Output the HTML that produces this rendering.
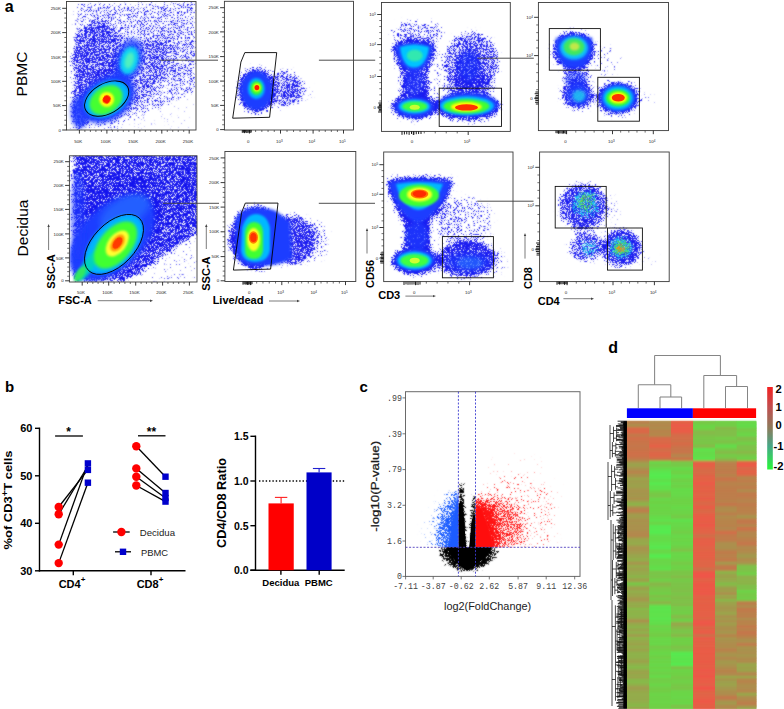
<!DOCTYPE html>
<html><head><meta charset="utf-8"><style>html,body{margin:0;padding:0;background:#fff;}svg{display:block}</style></head>
<body><svg width="784" height="709" viewBox="0 0 784 709">
<defs><filter id="b0" x="-50%" y="-50%" width="200%" height="200%"><feGaussianBlur stdDeviation="0.6"/></filter><filter id="b1" x="-50%" y="-50%" width="200%" height="200%"><feGaussianBlur stdDeviation="1"/></filter><filter id="b2" x="-50%" y="-50%" width="200%" height="200%"><feGaussianBlur stdDeviation="1.5"/></filter><filter id="b3" x="-50%" y="-50%" width="200%" height="200%"><feGaussianBlur stdDeviation="2"/></filter><filter id="b4" x="-50%" y="-50%" width="200%" height="200%"><feGaussianBlur stdDeviation="3"/></filter><filter id="b5" x="-50%" y="-50%" width="200%" height="200%"><feGaussianBlur stdDeviation="4"/></filter><filter id="sb" filterUnits="userSpaceOnUse" x="0" y="0" width="784" height="709" color-interpolation-filters="sRGB">
<feGaussianBlur in="SourceAlpha" stdDeviation="2.5" result="d"/>
<feTurbulence type="fractalNoise" baseFrequency="2.3" numOctaves="1" seed="3" result="t"/>
<feColorMatrix in="t" type="matrix" values="0 0 0 0 0 0 0 0 0 0 0 0 0 0 0 2.2 0 0 0 -0.6" result="n"/>
<feComposite in="d" in2="n" operator="arithmetic" k1="0" k2="6" k3="6" k4="-6" result="m"/>
<feFlood flood-color="#1c1cf0"/>
<feComposite in2="m" operator="in"/>
<feConvolveMatrix order="3" kernelMatrix="1 2 1 2 12 2 1 2 1" edgeMode="none"/>
</filter><filter id="sb2" filterUnits="userSpaceOnUse" x="0" y="0" width="784" height="709" color-interpolation-filters="sRGB">
<feGaussianBlur in="SourceAlpha" stdDeviation="2.5" result="d"/>
<feTurbulence type="fractalNoise" baseFrequency="2.3" numOctaves="1" seed="11" result="t"/>
<feColorMatrix in="t" type="matrix" values="0 0 0 0 0 0 0 0 0 0 0 0 0 0 0 2.2 0 0 0 -0.6" result="n"/>
<feComposite in="d" in2="n" operator="arithmetic" k1="0" k2="6" k3="6" k4="-6" result="m"/>
<feFlood flood-color="#1414ee"/>
<feComposite in2="m" operator="in"/>
<feConvolveMatrix order="3" kernelMatrix="1 2 1 2 12 2 1 2 1" edgeMode="none"/>
</filter><filter id="scy" filterUnits="userSpaceOnUse" x="0" y="0" width="784" height="709" color-interpolation-filters="sRGB">
<feGaussianBlur in="SourceAlpha" stdDeviation="2" result="d"/>
<feTurbulence type="fractalNoise" baseFrequency="2.3" numOctaves="1" seed="21" result="t"/>
<feColorMatrix in="t" type="matrix" values="0 0 0 0 0 0 0 0 0 0 0 0 0 0 0 2.2 0 0 0 -0.6" result="n"/>
<feComposite in="d" in2="n" operator="arithmetic" k1="0" k2="6" k3="6" k4="-6" result="m"/>
<feFlood flood-color="#20c8f0"/>
<feComposite in2="m" operator="in"/>
<feConvolveMatrix order="3" kernelMatrix="1 2 1 2 12 2 1 2 1" edgeMode="none"/>
</filter><filter id="sgr" filterUnits="userSpaceOnUse" x="0" y="0" width="784" height="709" color-interpolation-filters="sRGB">
<feGaussianBlur in="SourceAlpha" stdDeviation="2" result="d"/>
<feTurbulence type="fractalNoise" baseFrequency="2.3" numOctaves="1" seed="22" result="t"/>
<feColorMatrix in="t" type="matrix" values="0 0 0 0 0 0 0 0 0 0 0 0 0 0 0 2.2 0 0 0 -0.6" result="n"/>
<feComposite in="d" in2="n" operator="arithmetic" k1="0" k2="6" k3="6" k4="-6" result="m"/>
<feFlood flood-color="#50e050"/>
<feComposite in2="m" operator="in"/>
<feConvolveMatrix order="3" kernelMatrix="1 2 1 2 12 2 1 2 1" edgeMode="none"/>
</filter><filter id="sor" filterUnits="userSpaceOnUse" x="0" y="0" width="784" height="709" color-interpolation-filters="sRGB">
<feGaussianBlur in="SourceAlpha" stdDeviation="1.5" result="d"/>
<feTurbulence type="fractalNoise" baseFrequency="2.3" numOctaves="1" seed="23" result="t"/>
<feColorMatrix in="t" type="matrix" values="0 0 0 0 0 0 0 0 0 0 0 0 0 0 0 2.2 0 0 0 -0.6" result="n"/>
<feComposite in="d" in2="n" operator="arithmetic" k1="0" k2="6" k3="6" k4="-6" result="m"/>
<feFlood flood-color="#f08a20"/>
<feComposite in2="m" operator="in"/>
<feConvolveMatrix order="3" kernelMatrix="1 2 1 2 12 2 1 2 1" edgeMode="none"/>
</filter><filter id="sk" filterUnits="userSpaceOnUse" x="0" y="0" width="784" height="709" color-interpolation-filters="sRGB">
<feGaussianBlur in="SourceAlpha" stdDeviation="1.5" result="d"/>
<feTurbulence type="fractalNoise" baseFrequency="2.3" numOctaves="1" seed="5" result="t"/>
<feColorMatrix in="t" type="matrix" values="0 0 0 0 0 0 0 0 0 0 0 0 0 0 0 2.2 0 0 0 -0.6" result="n"/>
<feComposite in="d" in2="n" operator="arithmetic" k1="0" k2="6" k3="6" k4="-6" result="m"/>
<feFlood flood-color="#000000"/>
<feComposite in2="m" operator="in"/>
<feConvolveMatrix order="3" kernelMatrix="1 2 1 2 12 2 1 2 1" edgeMode="none"/>
</filter><filter id="sblue" filterUnits="userSpaceOnUse" x="0" y="0" width="784" height="709" color-interpolation-filters="sRGB">
<feGaussianBlur in="SourceAlpha" stdDeviation="1.5" result="d"/>
<feTurbulence type="fractalNoise" baseFrequency="2.3" numOctaves="1" seed="8" result="t"/>
<feColorMatrix in="t" type="matrix" values="0 0 0 0 0 0 0 0 0 0 0 0 0 0 0 2.2 0 0 0 -0.6" result="n"/>
<feComposite in="d" in2="n" operator="arithmetic" k1="0" k2="6" k3="6" k4="-6" result="m"/>
<feFlood flood-color="#1560ff"/>
<feComposite in2="m" operator="in"/>
<feConvolveMatrix order="3" kernelMatrix="1 2 1 2 12 2 1 2 1" edgeMode="none"/>
</filter><filter id="sred" filterUnits="userSpaceOnUse" x="0" y="0" width="784" height="709" color-interpolation-filters="sRGB">
<feGaussianBlur in="SourceAlpha" stdDeviation="1.5" result="d"/>
<feTurbulence type="fractalNoise" baseFrequency="2.3" numOctaves="1" seed="9" result="t"/>
<feColorMatrix in="t" type="matrix" values="0 0 0 0 0 0 0 0 0 0 0 0 0 0 0 2.2 0 0 0 -0.6" result="n"/>
<feComposite in="d" in2="n" operator="arithmetic" k1="0" k2="6" k3="6" k4="-6" result="m"/>
<feFlood flood-color="#ff1010"/>
<feComposite in2="m" operator="in"/>
<feConvolveMatrix order="3" kernelMatrix="1 2 1 2 12 2 1 2 1" edgeMode="none"/>
</filter><clipPath id="c11"><rect x="66.5" y="1.5" width="129.5" height="128.5"/></clipPath><clipPath id="c12"><rect x="224.4" y="1.3" width="129.1" height="128.7"/></clipPath><clipPath id="c13"><rect x="381.5" y="2.5" width="128.8" height="128.9"/></clipPath><clipPath id="c14"><rect x="538.4" y="2.5" width="130.1" height="128.1"/></clipPath><clipPath id="c21"><rect x="69.4" y="155.8" width="127.6" height="126.2"/></clipPath><clipPath id="c22"><rect x="224.9" y="151.5" width="130.9" height="130"/></clipPath><clipPath id="c23"><rect x="383.7" y="152" width="129.3" height="129.6"/></clipPath><clipPath id="c24"><rect x="539.6" y="152" width="129.6" height="129.6"/></clipPath><filter id="vblue" filterUnits="userSpaceOnUse" x="0" y="0" width="784" height="709" color-interpolation-filters="sRGB">
<feGaussianBlur in="SourceAlpha" stdDeviation="4" result="d"/>
<feTurbulence type="fractalNoise" baseFrequency="2.3" numOctaves="1" seed="8" result="t"/>
<feColorMatrix in="t" type="matrix" values="0 0 0 0 0 0 0 0 0 0 0 0 0 0 0 2.2 0 0 0 -0.6" result="n"/>
<feComposite in="d" in2="n" operator="arithmetic" k1="0" k2="6" k3="6" k4="-6" result="m"/>
<feFlood flood-color="#1a5cff"/>
<feComposite in2="m" operator="in"/>
<feConvolveMatrix order="3" kernelMatrix="1 2 1 2 12 2 1 2 1" edgeMode="none"/>
</filter><filter id="vred" filterUnits="userSpaceOnUse" x="0" y="0" width="784" height="709" color-interpolation-filters="sRGB">
<feGaussianBlur in="SourceAlpha" stdDeviation="5" result="d"/>
<feTurbulence type="fractalNoise" baseFrequency="2.3" numOctaves="1" seed="9" result="t"/>
<feColorMatrix in="t" type="matrix" values="0 0 0 0 0 0 0 0 0 0 0 0 0 0 0 2.2 0 0 0 -0.6" result="n"/>
<feComposite in="d" in2="n" operator="arithmetic" k1="0" k2="6" k3="6" k4="-6" result="m"/>
<feFlood flood-color="#ff1414"/>
<feComposite in2="m" operator="in"/>
<feConvolveMatrix order="3" kernelMatrix="1 2 1 2 12 2 1 2 1" edgeMode="none"/>
</filter><filter id="vblk" filterUnits="userSpaceOnUse" x="0" y="0" width="784" height="709" color-interpolation-filters="sRGB">
<feGaussianBlur in="SourceAlpha" stdDeviation="2.5" result="d"/>
<feTurbulence type="fractalNoise" baseFrequency="2.3" numOctaves="1" seed="5" result="t"/>
<feColorMatrix in="t" type="matrix" values="0 0 0 0 0 0 0 0 0 0 0 0 0 0 0 2.2 0 0 0 -0.6" result="n"/>
<feComposite in="d" in2="n" operator="arithmetic" k1="0" k2="6" k3="6" k4="-6" result="m"/>
<feFlood flood-color="#000000"/>
<feComposite in2="m" operator="in"/>
<feConvolveMatrix order="3" kernelMatrix="1 2 1 2 12 2 1 2 1" edgeMode="none"/>
</filter><filter id="vblk2" filterUnits="userSpaceOnUse" x="0" y="0" width="784" height="709" color-interpolation-filters="sRGB">
<feGaussianBlur in="SourceAlpha" stdDeviation="1.2" result="d"/>
<feTurbulence type="fractalNoise" baseFrequency="2.3" numOctaves="1" seed="15" result="t"/>
<feColorMatrix in="t" type="matrix" values="0 0 0 0 0 0 0 0 0 0 0 0 0 0 0 2.2 0 0 0 -0.6" result="n"/>
<feComposite in="d" in2="n" operator="arithmetic" k1="0" k2="6" k3="6" k4="-6" result="m"/>
<feFlood flood-color="#000000"/>
<feComposite in2="m" operator="in"/>
<feConvolveMatrix order="3" kernelMatrix="1 2 1 2 12 2 1 2 1" edgeMode="none"/>
</filter><clipPath id="cv"><rect x="405.5" y="391.7" width="174.5" height="184.7"/></clipPath><clipPath id="cvb"><rect x="405.5" y="391.7" width="52.89999999999998" height="155.59999999999997"/></clipPath><clipPath id="cvr"><rect x="475.5" y="391.7" width="104.5" height="155.59999999999997"/></clipPath><clipPath id="cvk"><rect x="405.5" y="547.3" width="174.5" height="29.100000000000023"/></clipPath><clipPath id="cvm"><rect x="458.4" y="391.7" width="17.100000000000023" height="155.59999999999997"/></clipPath><filter id="hb" x="-2%" y="-2%" width="104%" height="104%"><feGaussianBlur stdDeviation="0.35 0.8"/></filter></defs>
<rect width="784" height="709" fill="#fff"/>
<text x="4.8" y="12.3" font-family="Liberation Sans, sans-serif" font-size="16" font-weight="bold" text-anchor="start" fill="#000">a</text><text x="27" y="74" font-family="Liberation Sans, sans-serif" font-size="15.5" font-weight="normal" text-anchor="middle" fill="#000" transform="rotate(-90 27 74)">PBMC</text><text x="27.5" y="228" font-family="Liberation Sans, sans-serif" font-size="15.5" font-weight="normal" text-anchor="middle" fill="#000" transform="rotate(-90 27.5 228)">Decidua</text><g clip-path="url(#c11)"><g filter="url(#sb)"><path d="M72 129 L72 95 L75 45 L77 4 L196 2 L196 90 L176 100 L150 112 L125 122 L114 129 Z" fill="#000" fill-opacity="0.4"/><ellipse cx="98" cy="62" rx="28" ry="40" fill="#000" fill-opacity="0.45"/><ellipse cx="128" cy="80" rx="55" ry="24" fill="#000" fill-opacity="0.3" transform="rotate(-42 128 80)"/><ellipse cx="172" cy="52" rx="26" ry="30" fill="#000" fill-opacity="0.1"/><ellipse cx="80" cy="108" rx="10" ry="22" fill="#000" fill-opacity="0.5"/><path d="M128 129 L196 78 L196 129 Z" fill="#000" fill-opacity="0.06"/></g></g><g clip-path="url(#c11)"><ellipse cx="107" cy="99" rx="30" ry="21" fill="#1c3cff" transform="rotate(-32 107 99)" filter="url(#b3)"/><ellipse cx="129" cy="60" rx="13" ry="22" fill="#1c3cff" fill-opacity="0.8" transform="rotate(15 129 60)" filter="url(#b3)"/><ellipse cx="80" cy="112" rx="9" ry="16" fill="#1c3cff" fill-opacity="0.85" filter="url(#b3)"/><ellipse cx="119" cy="80" rx="9" ry="10" fill="#1c3cff" fill-opacity="0.7" filter="url(#b3)"/><ellipse cx="106.7" cy="99" rx="24" ry="16.5" fill="#00b4ff" transform="rotate(-30 106.7 99)" filter="url(#b2)"/><ellipse cx="129.3" cy="60.5" rx="9" ry="14" fill="#10d0f4" transform="rotate(15 129.3 60.5)" filter="url(#b2)"/><ellipse cx="106" cy="100" rx="18" ry="13" fill="#44ff30" transform="rotate(-35 106 100)" filter="url(#b2)"/><ellipse cx="129.3" cy="60.5" rx="4.5" ry="8.5" fill="#50f0c0" transform="rotate(15 129.3 60.5)" filter="url(#b2)"/><ellipse cx="106.7" cy="99.4" rx="7.5" ry="7.5" fill="#ffff10" filter="url(#b1)"/><ellipse cx="106.7" cy="99.4" rx="3.8" ry="4.2" fill="#ff1a00" transform="rotate(30 106.7 99.4)" filter="url(#b0)"/></g><ellipse cx="106.7" cy="98.6" rx="24" ry="15" transform="rotate(-30 106.7 98.6)" fill="none" stroke="#000" stroke-width="0.9"/><rect x="66.5" y="1.5" width="129.5" height="128.5" fill="none" stroke="#3a3a3a" stroke-width="0.9"/><line x1="62.2" y1="8.3" x2="66.5" y2="8.3" stroke="#222" stroke-width="0.9"/><text x="60.9" y="9.9" font-family="Liberation Sans, sans-serif" font-size="4.4" font-weight="normal" text-anchor="end" fill="#222">250K</text><line x1="62.2" y1="32.6" x2="66.5" y2="32.6" stroke="#222" stroke-width="0.9"/><text x="60.9" y="34.2" font-family="Liberation Sans, sans-serif" font-size="4.4" font-weight="normal" text-anchor="end" fill="#222">200K</text><line x1="62.2" y1="57" x2="66.5" y2="57" stroke="#222" stroke-width="0.9"/><text x="60.9" y="58.6" font-family="Liberation Sans, sans-serif" font-size="4.4" font-weight="normal" text-anchor="end" fill="#222">150K</text><line x1="62.2" y1="81.3" x2="66.5" y2="81.3" stroke="#222" stroke-width="0.9"/><text x="60.9" y="82.9" font-family="Liberation Sans, sans-serif" font-size="4.4" font-weight="normal" text-anchor="end" fill="#222">100K</text><line x1="62.2" y1="105.6" x2="66.5" y2="105.6" stroke="#222" stroke-width="0.9"/><text x="60.9" y="107.2" font-family="Liberation Sans, sans-serif" font-size="4.4" font-weight="normal" text-anchor="end" fill="#222">50K</text><line x1="62.2" y1="130" x2="66.5" y2="130" stroke="#222" stroke-width="0.9"/><text x="60.9" y="131.6" font-family="Liberation Sans, sans-serif" font-size="4.4" font-weight="normal" text-anchor="end" fill="#222">0</text><line x1="79.4" y1="130" x2="79.4" y2="133.6" stroke="#222" stroke-width="0.9"/><text x="78.2" y="142.9" font-family="Liberation Sans, sans-serif" font-size="4.4" font-weight="normal" text-anchor="middle" fill="#222">50K</text><line x1="106.9" y1="130" x2="106.9" y2="133.6" stroke="#222" stroke-width="0.9"/><text x="105.7" y="142.9" font-family="Liberation Sans, sans-serif" font-size="4.4" font-weight="normal" text-anchor="middle" fill="#222">100K</text><line x1="134.3" y1="130" x2="134.3" y2="133.6" stroke="#222" stroke-width="0.9"/><text x="133.1" y="142.9" font-family="Liberation Sans, sans-serif" font-size="4.4" font-weight="normal" text-anchor="middle" fill="#222">150K</text><line x1="161.8" y1="130" x2="161.8" y2="133.6" stroke="#222" stroke-width="0.9"/><text x="160.6" y="142.9" font-family="Liberation Sans, sans-serif" font-size="4.4" font-weight="normal" text-anchor="middle" fill="#222">200K</text><line x1="189.2" y1="130" x2="189.2" y2="133.6" stroke="#222" stroke-width="0.9"/><text x="188" y="142.9" font-family="Liberation Sans, sans-serif" font-size="4.4" font-weight="normal" text-anchor="middle" fill="#222">250K</text><line x1="64.3" y1="13.16" x2="66.5" y2="13.16" stroke="#333" stroke-width="0.7"/><line x1="64.3" y1="18.02" x2="66.5" y2="18.02" stroke="#333" stroke-width="0.7"/><line x1="64.3" y1="22.88" x2="66.5" y2="22.88" stroke="#333" stroke-width="0.7"/><line x1="64.3" y1="27.74" x2="66.5" y2="27.74" stroke="#333" stroke-width="0.7"/><line x1="64.3" y1="37.48" x2="66.5" y2="37.48" stroke="#333" stroke-width="0.7"/><line x1="64.3" y1="42.36" x2="66.5" y2="42.36" stroke="#333" stroke-width="0.7"/><line x1="64.3" y1="47.24" x2="66.5" y2="47.24" stroke="#333" stroke-width="0.7"/><line x1="64.3" y1="52.12" x2="66.5" y2="52.12" stroke="#333" stroke-width="0.7"/><line x1="64.3" y1="61.86" x2="66.5" y2="61.86" stroke="#333" stroke-width="0.7"/><line x1="64.3" y1="66.72" x2="66.5" y2="66.72" stroke="#333" stroke-width="0.7"/><line x1="64.3" y1="71.58" x2="66.5" y2="71.58" stroke="#333" stroke-width="0.7"/><line x1="64.3" y1="76.44" x2="66.5" y2="76.44" stroke="#333" stroke-width="0.7"/><line x1="64.3" y1="86.16" x2="66.5" y2="86.16" stroke="#333" stroke-width="0.7"/><line x1="64.3" y1="91.02" x2="66.5" y2="91.02" stroke="#333" stroke-width="0.7"/><line x1="64.3" y1="95.88" x2="66.5" y2="95.88" stroke="#333" stroke-width="0.7"/><line x1="64.3" y1="100.74" x2="66.5" y2="100.74" stroke="#333" stroke-width="0.7"/><line x1="64.3" y1="110.48" x2="66.5" y2="110.48" stroke="#333" stroke-width="0.7"/><line x1="64.3" y1="115.36" x2="66.5" y2="115.36" stroke="#333" stroke-width="0.7"/><line x1="64.3" y1="120.24" x2="66.5" y2="120.24" stroke="#333" stroke-width="0.7"/><line x1="64.3" y1="125.12" x2="66.5" y2="125.12" stroke="#333" stroke-width="0.7"/><line x1="84.9" y1="130" x2="84.9" y2="132" stroke="#333" stroke-width="0.7"/><line x1="90.4" y1="130" x2="90.4" y2="132" stroke="#333" stroke-width="0.7"/><line x1="95.9" y1="130" x2="95.9" y2="132" stroke="#333" stroke-width="0.7"/><line x1="101.4" y1="130" x2="101.4" y2="132" stroke="#333" stroke-width="0.7"/><line x1="112.38" y1="130" x2="112.38" y2="132" stroke="#333" stroke-width="0.7"/><line x1="117.86" y1="130" x2="117.86" y2="132" stroke="#333" stroke-width="0.7"/><line x1="123.34" y1="130" x2="123.34" y2="132" stroke="#333" stroke-width="0.7"/><line x1="128.82" y1="130" x2="128.82" y2="132" stroke="#333" stroke-width="0.7"/><line x1="139.8" y1="130" x2="139.8" y2="132" stroke="#333" stroke-width="0.7"/><line x1="145.3" y1="130" x2="145.3" y2="132" stroke="#333" stroke-width="0.7"/><line x1="150.8" y1="130" x2="150.8" y2="132" stroke="#333" stroke-width="0.7"/><line x1="156.3" y1="130" x2="156.3" y2="132" stroke="#333" stroke-width="0.7"/><line x1="167.28" y1="130" x2="167.28" y2="132" stroke="#333" stroke-width="0.7"/><line x1="172.76" y1="130" x2="172.76" y2="132" stroke="#333" stroke-width="0.7"/><line x1="178.24" y1="130" x2="178.24" y2="132" stroke="#333" stroke-width="0.7"/><line x1="183.72" y1="130" x2="183.72" y2="132" stroke="#333" stroke-width="0.7"/><line x1="160.4" y1="60.2" x2="218" y2="60.2" stroke="#444" stroke-width="0.95"/><g clip-path="url(#c12)"><g filter="url(#sb)"><ellipse cx="256.5" cy="90.5" rx="19.5" ry="23" fill="#000" fill-opacity="0.8"/><ellipse cx="284" cy="89" rx="18" ry="19" fill="#000" fill-opacity="0.55"/><ellipse cx="296" cy="90" rx="12" ry="13" fill="#000" fill-opacity="0.25"/><ellipse cx="306" cy="92" rx="8" ry="8" fill="#000" fill-opacity="0.08"/></g></g><g clip-path="url(#c12)"><ellipse cx="256.5" cy="90.5" rx="16" ry="19.5" fill="#1c3cff" filter="url(#b2)"/><ellipse cx="256.3" cy="88.5" rx="8.5" ry="10.5" fill="#00b0ff" filter="url(#b1)"/><ellipse cx="256.5" cy="88" rx="6" ry="7" fill="#30ff30" filter="url(#b1)"/><ellipse cx="256.9" cy="87.6" rx="3.6" ry="4" fill="#ffff00" filter="url(#b1)"/><ellipse cx="256.9" cy="87.6" rx="2.4" ry="2.6" fill="#ff1a00" filter="url(#b0)"/></g><path d="M244.8 52.6 L276.7 52.6 L269.6 117.3 L232.7 118.2 L240.9 62.1 Z" fill="none" stroke="#000" stroke-width="0.9"/><rect x="224.4" y="1.3" width="129.1" height="128.7" fill="none" stroke="#3a3a3a" stroke-width="0.9"/><line x1="220.1" y1="7.7" x2="224.4" y2="7.7" stroke="#222" stroke-width="0.9"/><text x="218.8" y="9.3" font-family="Liberation Sans, sans-serif" font-size="4.4" font-weight="normal" text-anchor="end" fill="#222">250K</text><line x1="220.1" y1="31.9" x2="224.4" y2="31.9" stroke="#222" stroke-width="0.9"/><text x="218.8" y="33.5" font-family="Liberation Sans, sans-serif" font-size="4.4" font-weight="normal" text-anchor="end" fill="#222">200K</text><line x1="220.1" y1="56.6" x2="224.4" y2="56.6" stroke="#222" stroke-width="0.9"/><text x="218.8" y="58.2" font-family="Liberation Sans, sans-serif" font-size="4.4" font-weight="normal" text-anchor="end" fill="#222">150K</text><line x1="220.1" y1="81.1" x2="224.4" y2="81.1" stroke="#222" stroke-width="0.9"/><text x="218.8" y="82.7" font-family="Liberation Sans, sans-serif" font-size="4.4" font-weight="normal" text-anchor="end" fill="#222">100K</text><line x1="220.1" y1="105.4" x2="224.4" y2="105.4" stroke="#222" stroke-width="0.9"/><text x="218.8" y="107" font-family="Liberation Sans, sans-serif" font-size="4.4" font-weight="normal" text-anchor="end" fill="#222">50K</text><line x1="220.1" y1="129.6" x2="224.4" y2="129.6" stroke="#222" stroke-width="0.9"/><text x="218.8" y="131.2" font-family="Liberation Sans, sans-serif" font-size="4.4" font-weight="normal" text-anchor="end" fill="#222">0</text><line x1="249.4" y1="130" x2="249.4" y2="133.6" stroke="#222" stroke-width="0.9"/><text x="248.2" y="143" font-family="Liberation Sans, sans-serif" font-size="4.4" font-weight="normal" text-anchor="middle" fill="#222">0</text><line x1="280.5" y1="130" x2="280.5" y2="133.6" stroke="#222" stroke-width="0.9"/><text x="279.3" y="143" font-family="Liberation Sans, sans-serif" font-size="4.4" font-weight="normal" text-anchor="middle" fill="#222">10<tspan dy="-1.3" font-size="3">3</tspan></text><line x1="313.1" y1="130" x2="313.1" y2="133.6" stroke="#222" stroke-width="0.9"/><text x="311.9" y="143" font-family="Liberation Sans, sans-serif" font-size="4.4" font-weight="normal" text-anchor="middle" fill="#222">10<tspan dy="-1.3" font-size="3">4</tspan></text><line x1="343.5" y1="130" x2="343.5" y2="133.6" stroke="#222" stroke-width="0.9"/><text x="342.3" y="143" font-family="Liberation Sans, sans-serif" font-size="4.4" font-weight="normal" text-anchor="middle" fill="#222">10<tspan dy="-1.3" font-size="3">5</tspan></text><line x1="222.2" y1="12.54" x2="224.4" y2="12.54" stroke="#333" stroke-width="0.7"/><line x1="222.2" y1="17.38" x2="224.4" y2="17.38" stroke="#333" stroke-width="0.7"/><line x1="222.2" y1="22.22" x2="224.4" y2="22.22" stroke="#333" stroke-width="0.7"/><line x1="222.2" y1="27.06" x2="224.4" y2="27.06" stroke="#333" stroke-width="0.7"/><line x1="222.2" y1="36.84" x2="224.4" y2="36.84" stroke="#333" stroke-width="0.7"/><line x1="222.2" y1="41.78" x2="224.4" y2="41.78" stroke="#333" stroke-width="0.7"/><line x1="222.2" y1="46.72" x2="224.4" y2="46.72" stroke="#333" stroke-width="0.7"/><line x1="222.2" y1="51.66" x2="224.4" y2="51.66" stroke="#333" stroke-width="0.7"/><line x1="222.2" y1="61.5" x2="224.4" y2="61.5" stroke="#333" stroke-width="0.7"/><line x1="222.2" y1="66.4" x2="224.4" y2="66.4" stroke="#333" stroke-width="0.7"/><line x1="222.2" y1="71.3" x2="224.4" y2="71.3" stroke="#333" stroke-width="0.7"/><line x1="222.2" y1="76.2" x2="224.4" y2="76.2" stroke="#333" stroke-width="0.7"/><line x1="222.2" y1="85.96" x2="224.4" y2="85.96" stroke="#333" stroke-width="0.7"/><line x1="222.2" y1="90.82" x2="224.4" y2="90.82" stroke="#333" stroke-width="0.7"/><line x1="222.2" y1="95.68" x2="224.4" y2="95.68" stroke="#333" stroke-width="0.7"/><line x1="222.2" y1="100.54" x2="224.4" y2="100.54" stroke="#333" stroke-width="0.7"/><line x1="222.2" y1="110.24" x2="224.4" y2="110.24" stroke="#333" stroke-width="0.7"/><line x1="222.2" y1="115.08" x2="224.4" y2="115.08" stroke="#333" stroke-width="0.7"/><line x1="222.2" y1="119.92" x2="224.4" y2="119.92" stroke="#333" stroke-width="0.7"/><line x1="222.2" y1="124.76" x2="224.4" y2="124.76" stroke="#333" stroke-width="0.7"/><line x1="255.62" y1="130" x2="255.62" y2="132" stroke="#333" stroke-width="0.7"/><line x1="261.84" y1="130" x2="261.84" y2="132" stroke="#333" stroke-width="0.7"/><line x1="268.06" y1="130" x2="268.06" y2="132" stroke="#333" stroke-width="0.7"/><line x1="274.28" y1="130" x2="274.28" y2="132" stroke="#333" stroke-width="0.7"/><line x1="287.02" y1="130" x2="287.02" y2="132" stroke="#333" stroke-width="0.7"/><line x1="293.54" y1="130" x2="293.54" y2="132" stroke="#333" stroke-width="0.7"/><line x1="300.06" y1="130" x2="300.06" y2="132" stroke="#333" stroke-width="0.7"/><line x1="306.58" y1="130" x2="306.58" y2="132" stroke="#333" stroke-width="0.7"/><line x1="319.18" y1="130" x2="319.18" y2="132" stroke="#333" stroke-width="0.7"/><line x1="325.26" y1="130" x2="325.26" y2="132" stroke="#333" stroke-width="0.7"/><line x1="331.34" y1="130" x2="331.34" y2="132" stroke="#333" stroke-width="0.7"/><line x1="337.42" y1="130" x2="337.42" y2="132" stroke="#333" stroke-width="0.7"/><path d="M242.3 130 V132.82 M243.41 130 V132.65 M244.53 130 V133.15 M245.64 130 V132.57 M246.75 130 V133.04 M247.86 130 V132.87 M248.97 130 V132.56 M250.09 130 V133.01 M251.2 130 V132.54" stroke="#000" stroke-width="0.9" fill="none"/><line x1="318.9" y1="60.2" x2="375.2" y2="60.2" stroke="#444" stroke-width="0.95"/><g clip-path="url(#c13)"><g filter="url(#sb)"><path d="M391 44 Q414 34 437 44 Q436 60 428 72 L430 98 L400 98 L401 72 Q392 60 391 44Z" fill="#000" fill-opacity="0.8"/><ellipse cx="417" cy="33" rx="26" ry="13" fill="#000" fill-opacity="0.4"/><ellipse cx="415" cy="107" rx="24" ry="13" fill="#000" fill-opacity="0.9"/><ellipse cx="471" cy="62" rx="28" ry="30" fill="#000" fill-opacity="0.6"/><ellipse cx="469" cy="68" rx="14" ry="20" fill="#000" fill-opacity="0.5"/><ellipse cx="470" cy="86" rx="25" ry="12" fill="#000" fill-opacity="0.55"/><ellipse cx="468" cy="107" rx="33" ry="14" fill="#000" fill-opacity="0.9"/><ellipse cx="440" cy="80" rx="8" ry="25" fill="#000" fill-opacity="0.2"/></g></g><g clip-path="url(#c13)"><path d="M395 46 Q414 39 433 46 Q431 60 424 68 Q414 74 405 68 Q397 60 395 46Z" fill="#1c3cff" filter="url(#b2)"/><ellipse cx="414" cy="82" rx="9" ry="14" fill="#1c3cff" fill-opacity="0.55" filter="url(#b3)"/><ellipse cx="414.5" cy="107.3" rx="19.5" ry="10" fill="#1c3cff" filter="url(#b2)"/><ellipse cx="468" cy="104.7" rx="30" ry="12" fill="#1c3cff" filter="url(#b2)"/><ellipse cx="469" cy="66" rx="11" ry="16" fill="#1c3cff" fill-opacity="0.45" filter="url(#b3)"/><path d="M400 47 Q414 42 429 47 Q428 60 420 66 Q414 69 408 66 Q401 60 400 47Z" fill="#00c4ff" filter="url(#b1)"/><ellipse cx="414.7" cy="55.5" rx="8" ry="6" fill="#30e8b0" filter="url(#b1)"/><ellipse cx="414.5" cy="106.5" rx="15.5" ry="7" fill="#00c0ff" filter="url(#b1)"/><ellipse cx="414.7" cy="106.5" rx="12.5" ry="5" fill="#40ff40" filter="url(#b1)"/><ellipse cx="414.7" cy="107.3" rx="5" ry="2.5" fill="#c8ff30" filter="url(#b0)"/><ellipse cx="467" cy="105.8" rx="27" ry="9.5" fill="#00b8ff" filter="url(#b1)"/><ellipse cx="466.5" cy="106.3" rx="23" ry="7.2" fill="#40ff30" filter="url(#b1)"/><ellipse cx="466.3" cy="106.8" rx="15.5" ry="4.8" fill="#ffff00" filter="url(#b1)"/><ellipse cx="466.5" cy="107.4" rx="11.5" ry="3.2" fill="#ff3000" filter="url(#b0)"/></g><rect x="439.2" y="88.2" width="62.3" height="38.2" fill="none" stroke="#111" stroke-width="0.9"/><rect x="381.5" y="2.5" width="128.8" height="128.9" fill="none" stroke="#3a3a3a" stroke-width="0.9"/><line x1="377.2" y1="14.5" x2="381.5" y2="14.5" stroke="#222" stroke-width="0.9"/><text x="375.9" y="16.1" font-family="Liberation Sans, sans-serif" font-size="4.4" font-weight="normal" text-anchor="end" fill="#222">10<tspan dy="-1.3" font-size="3">5</tspan></text><line x1="377.2" y1="44.6" x2="381.5" y2="44.6" stroke="#222" stroke-width="0.9"/><text x="375.9" y="46.2" font-family="Liberation Sans, sans-serif" font-size="4.4" font-weight="normal" text-anchor="end" fill="#222">10<tspan dy="-1.3" font-size="3">4</tspan></text><line x1="377.2" y1="76.5" x2="381.5" y2="76.5" stroke="#222" stroke-width="0.9"/><text x="375.9" y="78.1" font-family="Liberation Sans, sans-serif" font-size="4.4" font-weight="normal" text-anchor="end" fill="#222">10<tspan dy="-1.3" font-size="3">3</tspan></text><line x1="377.2" y1="107.1" x2="381.5" y2="107.1" stroke="#222" stroke-width="0.9"/><text x="375.9" y="108.7" font-family="Liberation Sans, sans-serif" font-size="4.4" font-weight="normal" text-anchor="end" fill="#222">0</text><line x1="413.3" y1="131.4" x2="413.3" y2="135" stroke="#222" stroke-width="0.9"/><text x="412.1" y="143" font-family="Liberation Sans, sans-serif" font-size="4.4" font-weight="normal" text-anchor="middle" fill="#222">0</text><line x1="468.2" y1="131.4" x2="468.2" y2="135" stroke="#222" stroke-width="0.9"/><text x="467" y="143" font-family="Liberation Sans, sans-serif" font-size="4.4" font-weight="normal" text-anchor="middle" fill="#222">10<tspan dy="-1.3" font-size="3">3</tspan></text><line x1="379.3" y1="20.52" x2="381.5" y2="20.52" stroke="#333" stroke-width="0.7"/><line x1="379.3" y1="26.54" x2="381.5" y2="26.54" stroke="#333" stroke-width="0.7"/><line x1="379.3" y1="32.56" x2="381.5" y2="32.56" stroke="#333" stroke-width="0.7"/><line x1="379.3" y1="38.58" x2="381.5" y2="38.58" stroke="#333" stroke-width="0.7"/><line x1="379.3" y1="50.98" x2="381.5" y2="50.98" stroke="#333" stroke-width="0.7"/><line x1="379.3" y1="57.36" x2="381.5" y2="57.36" stroke="#333" stroke-width="0.7"/><line x1="379.3" y1="63.74" x2="381.5" y2="63.74" stroke="#333" stroke-width="0.7"/><line x1="379.3" y1="70.12" x2="381.5" y2="70.12" stroke="#333" stroke-width="0.7"/><line x1="379.3" y1="82.62" x2="381.5" y2="82.62" stroke="#333" stroke-width="0.7"/><line x1="379.3" y1="88.74" x2="381.5" y2="88.74" stroke="#333" stroke-width="0.7"/><line x1="379.3" y1="94.86" x2="381.5" y2="94.86" stroke="#333" stroke-width="0.7"/><line x1="379.3" y1="100.98" x2="381.5" y2="100.98" stroke="#333" stroke-width="0.7"/><line x1="424.28" y1="131.4" x2="424.28" y2="133.4" stroke="#333" stroke-width="0.7"/><line x1="435.26" y1="131.4" x2="435.26" y2="133.4" stroke="#333" stroke-width="0.7"/><line x1="446.24" y1="131.4" x2="446.24" y2="133.4" stroke="#333" stroke-width="0.7"/><line x1="457.22" y1="131.4" x2="457.22" y2="133.4" stroke="#333" stroke-width="0.7"/><path d="M378.35 103 H381.5 M378.9 104.29 H381.5 M378.86 105.57 H381.5 M378.36 106.86 H381.5 M377.76 108.14 H381.5 M378.81 109.43 H381.5 M378.67 110.71 H381.5 M378.06 112 H381.5" stroke="#000" stroke-width="0.9" fill="none"/><path d="M402 131.4 V134.85 M404.38 131.4 V134.48 M406.75 131.4 V134.3 M409.12 131.4 V134.88 M411.5 131.4 V133.95 M413.88 131.4 V134.76 M416.25 131.4 V134.19 M418.62 131.4 V134.04 M421 131.4 V134.02" stroke="#000" stroke-width="0.9" fill="none"/><line x1="477.4" y1="58.2" x2="533.8" y2="58.2" stroke="#444" stroke-width="0.95"/><g clip-path="url(#c14)"><g filter="url(#sb)"><ellipse cx="574" cy="50" rx="22" ry="19" fill="#000" fill-opacity="0.85"/><ellipse cx="576" cy="75" rx="14" ry="12" fill="#000" fill-opacity="0.6"/><ellipse cx="578" cy="95" rx="17" ry="15" fill="#000" fill-opacity="0.75"/><ellipse cx="618" cy="98" rx="22" ry="17" fill="#000" fill-opacity="0.85"/><ellipse cx="605" cy="60" rx="16" ry="16" fill="#000" fill-opacity="0.15"/><ellipse cx="645" cy="100" rx="14" ry="6" fill="#000" fill-opacity="0.12"/></g></g><g clip-path="url(#c14)"><path d="M556 38 Q574 32 592 38 Q594 56 584 66 Q574 70 564 66 Q554 56 556 38Z" fill="#1c3cff" filter="url(#b2)"/><ellipse cx="576" cy="80" rx="11" ry="9" fill="#1c3cff" fill-opacity="0.45" filter="url(#b2)"/><ellipse cx="578" cy="95" rx="12" ry="11" fill="#1c3cff" fill-opacity="0.75" filter="url(#b2)"/><ellipse cx="618" cy="98" rx="18" ry="14" fill="#1c3cff" filter="url(#b2)"/><ellipse cx="574" cy="48" rx="14" ry="11.5" fill="#10c4f8" filter="url(#b2)"/><ellipse cx="574" cy="47" rx="10.5" ry="8.5" fill="#40e860" filter="url(#b1)"/><ellipse cx="574.5" cy="46.5" rx="5" ry="4" fill="#c0e848" filter="url(#b1)"/><ellipse cx="579" cy="96" rx="6.5" ry="6" fill="#20c8f0" fill-opacity="0.85" filter="url(#b2)"/><ellipse cx="618" cy="98" rx="15" ry="11.5" fill="#00c0ff" filter="url(#b2)"/><ellipse cx="618" cy="98" rx="12" ry="8.5" fill="#30ff30" filter="url(#b1)"/><ellipse cx="618.3" cy="97.8" rx="9" ry="5.8" fill="#ffff00" filter="url(#b1)"/><ellipse cx="618.3" cy="97.7" rx="6.5" ry="3.8" fill="#ff3000" filter="url(#b0)"/></g><rect x="549.3" y="28.6" width="51.1" height="41.6" fill="none" stroke="#111" stroke-width="0.9"/><rect x="597.8" y="77.3" width="41.6" height="43.9" fill="none" stroke="#111" stroke-width="0.9"/><rect x="538.4" y="2.5" width="130.1" height="128.1" fill="none" stroke="#3a3a3a" stroke-width="0.9"/><line x1="534.1" y1="17.3" x2="538.4" y2="17.3" stroke="#222" stroke-width="0.9"/><text x="532.8" y="18.9" font-family="Liberation Sans, sans-serif" font-size="4.4" font-weight="normal" text-anchor="end" fill="#222">10<tspan dy="-1.3" font-size="3">4</tspan></text><line x1="534.1" y1="55.6" x2="538.4" y2="55.6" stroke="#222" stroke-width="0.9"/><text x="532.8" y="57.2" font-family="Liberation Sans, sans-serif" font-size="4.4" font-weight="normal" text-anchor="end" fill="#222">10<tspan dy="-1.3" font-size="3">3</tspan></text><line x1="534.1" y1="98.2" x2="538.4" y2="98.2" stroke="#222" stroke-width="0.9"/><text x="532.8" y="99.8" font-family="Liberation Sans, sans-serif" font-size="4.4" font-weight="normal" text-anchor="end" fill="#222">0</text><line x1="566.6" y1="130.6" x2="566.6" y2="134.2" stroke="#222" stroke-width="0.9"/><text x="565.4" y="143" font-family="Liberation Sans, sans-serif" font-size="4.4" font-weight="normal" text-anchor="middle" fill="#222">0</text><line x1="612.5" y1="130.6" x2="612.5" y2="134.2" stroke="#222" stroke-width="0.9"/><text x="611.3" y="143" font-family="Liberation Sans, sans-serif" font-size="4.4" font-weight="normal" text-anchor="middle" fill="#222">10<tspan dy="-1.3" font-size="3">3</tspan></text><line x1="653.3" y1="130.6" x2="653.3" y2="134.2" stroke="#222" stroke-width="0.9"/><text x="652.1" y="143" font-family="Liberation Sans, sans-serif" font-size="4.4" font-weight="normal" text-anchor="middle" fill="#222">10<tspan dy="-1.3" font-size="3">4</tspan></text><line x1="536.2" y1="24.96" x2="538.4" y2="24.96" stroke="#333" stroke-width="0.7"/><line x1="536.2" y1="32.62" x2="538.4" y2="32.62" stroke="#333" stroke-width="0.7"/><line x1="536.2" y1="40.28" x2="538.4" y2="40.28" stroke="#333" stroke-width="0.7"/><line x1="536.2" y1="47.94" x2="538.4" y2="47.94" stroke="#333" stroke-width="0.7"/><line x1="536.2" y1="64.12" x2="538.4" y2="64.12" stroke="#333" stroke-width="0.7"/><line x1="536.2" y1="72.64" x2="538.4" y2="72.64" stroke="#333" stroke-width="0.7"/><line x1="536.2" y1="81.16" x2="538.4" y2="81.16" stroke="#333" stroke-width="0.7"/><line x1="536.2" y1="89.68" x2="538.4" y2="89.68" stroke="#333" stroke-width="0.7"/><line x1="575.78" y1="130.6" x2="575.78" y2="132.6" stroke="#333" stroke-width="0.7"/><line x1="584.96" y1="130.6" x2="584.96" y2="132.6" stroke="#333" stroke-width="0.7"/><line x1="594.14" y1="130.6" x2="594.14" y2="132.6" stroke="#333" stroke-width="0.7"/><line x1="603.32" y1="130.6" x2="603.32" y2="132.6" stroke="#333" stroke-width="0.7"/><line x1="620.66" y1="130.6" x2="620.66" y2="132.6" stroke="#333" stroke-width="0.7"/><line x1="628.82" y1="130.6" x2="628.82" y2="132.6" stroke="#333" stroke-width="0.7"/><line x1="636.98" y1="130.6" x2="636.98" y2="132.6" stroke="#333" stroke-width="0.7"/><line x1="645.14" y1="130.6" x2="645.14" y2="132.6" stroke="#333" stroke-width="0.7"/><path d="M535.44 92 H538.4 M534.68 93.71 H538.4 M535.63 95.43 H538.4 M535.03 97.14 H538.4 M534.94 98.86 H538.4 M535.34 100.57 H538.4 M535.08 102.29 H538.4 M535.81 104 H538.4" stroke="#000" stroke-width="0.9" fill="none"/><path d="M556 130.6 V133.16 M557.25 130.6 V133.31 M558.5 130.6 V133.78 M559.75 130.6 V133.53 M561 130.6 V133.41 M562.25 130.6 V133.69 M563.5 130.6 V133.55 M564.75 130.6 V133.4 M566 130.6 V133.89" stroke="#000" stroke-width="0.9" fill="none"/><g clip-path="url(#c21)"><g filter="url(#sb2)"><path d="M73 281 L72 150 L200 150 L200 232 L170 252 L140 274 L125 282 Z" fill="#000" fill-opacity="0.75"/><ellipse cx="120" cy="215" rx="45" ry="40" fill="#000" fill-opacity="0.3" transform="rotate(-45 120 215)"/><path d="M197 282 L135 282 L197 236 Z" fill="#000" fill-opacity="0.12"/></g></g><g clip-path="url(#c21)"><ellipse cx="112" cy="238" rx="52" ry="31" fill="#1c3cff" transform="rotate(-45 112 238)" filter="url(#b3)"/><ellipse cx="78" cy="215" rx="7" ry="45" fill="#1c3cff" fill-opacity="0.6" filter="url(#b3)"/><ellipse cx="125" cy="212" rx="28" ry="14" fill="#2a7cff" fill-opacity="0.55" transform="rotate(-30 125 212)" filter="url(#b4)"/><ellipse cx="114" cy="244.4" rx="36" ry="21" fill="#00b4ff" transform="rotate(-46 114 244.4)" filter="url(#b2)"/><ellipse cx="88" cy="266" rx="18" ry="5.5" fill="#00d0c0" transform="rotate(-55 88 266)" filter="url(#b2)"/><ellipse cx="80" cy="274" rx="9" ry="4" fill="#30e860" transform="rotate(-55 80 274)" filter="url(#b1)"/><ellipse cx="115.5" cy="245" rx="28" ry="16" fill="#40ff30" transform="rotate(-50 115.5 245)" filter="url(#b2)"/><ellipse cx="117.2" cy="243.5" rx="15" ry="9" fill="#ffff30" transform="rotate(-52 117.2 243.5)" filter="url(#b1)"/><ellipse cx="117.5" cy="243" rx="9.5" ry="5.5" fill="#ff8c00" transform="rotate(-55 117.5 243)" filter="url(#b1)"/><ellipse cx="117.5" cy="243" rx="6.5" ry="3.8" fill="#ff3a00" transform="rotate(-55 117.5 243)" filter="url(#b0)"/></g><ellipse cx="114" cy="244.4" rx="36.5" ry="21" transform="rotate(-46 114 244.4)" fill="none" stroke="#000" stroke-width="0.9"/><rect x="69.4" y="155.8" width="127.6" height="126.2" fill="none" stroke="#3a3a3a" stroke-width="0.9"/><line x1="65.1" y1="161.7" x2="69.4" y2="161.7" stroke="#222" stroke-width="0.9"/><text x="63.8" y="163.3" font-family="Liberation Sans, sans-serif" font-size="4.4" font-weight="normal" text-anchor="end" fill="#222">250K</text><line x1="65.1" y1="185.4" x2="69.4" y2="185.4" stroke="#222" stroke-width="0.9"/><text x="63.8" y="187" font-family="Liberation Sans, sans-serif" font-size="4.4" font-weight="normal" text-anchor="end" fill="#222">200K</text><line x1="65.1" y1="209.4" x2="69.4" y2="209.4" stroke="#222" stroke-width="0.9"/><text x="63.8" y="211" font-family="Liberation Sans, sans-serif" font-size="4.4" font-weight="normal" text-anchor="end" fill="#222">150K</text><line x1="65.1" y1="233.9" x2="69.4" y2="233.9" stroke="#222" stroke-width="0.9"/><text x="63.8" y="235.5" font-family="Liberation Sans, sans-serif" font-size="4.4" font-weight="normal" text-anchor="end" fill="#222">100K</text><line x1="65.1" y1="257.9" x2="69.4" y2="257.9" stroke="#222" stroke-width="0.9"/><text x="63.8" y="259.5" font-family="Liberation Sans, sans-serif" font-size="4.4" font-weight="normal" text-anchor="end" fill="#222">50K</text><line x1="65.1" y1="280.8" x2="69.4" y2="280.8" stroke="#222" stroke-width="0.9"/><text x="63.8" y="282.4" font-family="Liberation Sans, sans-serif" font-size="4.4" font-weight="normal" text-anchor="end" fill="#222">0</text><line x1="82.2" y1="282" x2="82.2" y2="285.6" stroke="#222" stroke-width="0.9"/><text x="81" y="294" font-family="Liberation Sans, sans-serif" font-size="4.4" font-weight="normal" text-anchor="middle" fill="#222">50K</text><line x1="108.7" y1="282" x2="108.7" y2="285.6" stroke="#222" stroke-width="0.9"/><text x="107.5" y="294" font-family="Liberation Sans, sans-serif" font-size="4.4" font-weight="normal" text-anchor="middle" fill="#222">100K</text><line x1="135.7" y1="282" x2="135.7" y2="285.6" stroke="#222" stroke-width="0.9"/><text x="134.5" y="294" font-family="Liberation Sans, sans-serif" font-size="4.4" font-weight="normal" text-anchor="middle" fill="#222">150K</text><line x1="162.6" y1="282" x2="162.6" y2="285.6" stroke="#222" stroke-width="0.9"/><text x="161.4" y="294" font-family="Liberation Sans, sans-serif" font-size="4.4" font-weight="normal" text-anchor="middle" fill="#222">200K</text><line x1="189.4" y1="282" x2="189.4" y2="285.6" stroke="#222" stroke-width="0.9"/><text x="188.2" y="294" font-family="Liberation Sans, sans-serif" font-size="4.4" font-weight="normal" text-anchor="middle" fill="#222">250K</text><line x1="67.2" y1="166.44" x2="69.4" y2="166.44" stroke="#333" stroke-width="0.7"/><line x1="67.2" y1="171.18" x2="69.4" y2="171.18" stroke="#333" stroke-width="0.7"/><line x1="67.2" y1="175.92" x2="69.4" y2="175.92" stroke="#333" stroke-width="0.7"/><line x1="67.2" y1="180.66" x2="69.4" y2="180.66" stroke="#333" stroke-width="0.7"/><line x1="67.2" y1="190.2" x2="69.4" y2="190.2" stroke="#333" stroke-width="0.7"/><line x1="67.2" y1="195" x2="69.4" y2="195" stroke="#333" stroke-width="0.7"/><line x1="67.2" y1="199.8" x2="69.4" y2="199.8" stroke="#333" stroke-width="0.7"/><line x1="67.2" y1="204.6" x2="69.4" y2="204.6" stroke="#333" stroke-width="0.7"/><line x1="67.2" y1="214.3" x2="69.4" y2="214.3" stroke="#333" stroke-width="0.7"/><line x1="67.2" y1="219.2" x2="69.4" y2="219.2" stroke="#333" stroke-width="0.7"/><line x1="67.2" y1="224.1" x2="69.4" y2="224.1" stroke="#333" stroke-width="0.7"/><line x1="67.2" y1="229" x2="69.4" y2="229" stroke="#333" stroke-width="0.7"/><line x1="67.2" y1="238.7" x2="69.4" y2="238.7" stroke="#333" stroke-width="0.7"/><line x1="67.2" y1="243.5" x2="69.4" y2="243.5" stroke="#333" stroke-width="0.7"/><line x1="67.2" y1="248.3" x2="69.4" y2="248.3" stroke="#333" stroke-width="0.7"/><line x1="67.2" y1="253.1" x2="69.4" y2="253.1" stroke="#333" stroke-width="0.7"/><line x1="67.2" y1="262.48" x2="69.4" y2="262.48" stroke="#333" stroke-width="0.7"/><line x1="67.2" y1="267.06" x2="69.4" y2="267.06" stroke="#333" stroke-width="0.7"/><line x1="67.2" y1="271.64" x2="69.4" y2="271.64" stroke="#333" stroke-width="0.7"/><line x1="67.2" y1="276.22" x2="69.4" y2="276.22" stroke="#333" stroke-width="0.7"/><line x1="87.5" y1="282" x2="87.5" y2="284" stroke="#333" stroke-width="0.7"/><line x1="92.8" y1="282" x2="92.8" y2="284" stroke="#333" stroke-width="0.7"/><line x1="98.1" y1="282" x2="98.1" y2="284" stroke="#333" stroke-width="0.7"/><line x1="103.4" y1="282" x2="103.4" y2="284" stroke="#333" stroke-width="0.7"/><line x1="114.1" y1="282" x2="114.1" y2="284" stroke="#333" stroke-width="0.7"/><line x1="119.5" y1="282" x2="119.5" y2="284" stroke="#333" stroke-width="0.7"/><line x1="124.9" y1="282" x2="124.9" y2="284" stroke="#333" stroke-width="0.7"/><line x1="130.3" y1="282" x2="130.3" y2="284" stroke="#333" stroke-width="0.7"/><line x1="141.08" y1="282" x2="141.08" y2="284" stroke="#333" stroke-width="0.7"/><line x1="146.46" y1="282" x2="146.46" y2="284" stroke="#333" stroke-width="0.7"/><line x1="151.84" y1="282" x2="151.84" y2="284" stroke="#333" stroke-width="0.7"/><line x1="157.22" y1="282" x2="157.22" y2="284" stroke="#333" stroke-width="0.7"/><line x1="167.96" y1="282" x2="167.96" y2="284" stroke="#333" stroke-width="0.7"/><line x1="173.32" y1="282" x2="173.32" y2="284" stroke="#333" stroke-width="0.7"/><line x1="178.68" y1="282" x2="178.68" y2="284" stroke="#333" stroke-width="0.7"/><line x1="184.04" y1="282" x2="184.04" y2="284" stroke="#333" stroke-width="0.7"/><line x1="163" y1="203.3" x2="219" y2="203.3" stroke="#444" stroke-width="0.95"/><text x="54.5" y="271.5" font-family="Liberation Sans, sans-serif" font-size="11" font-weight="bold" text-anchor="middle" fill="#000" transform="rotate(-90 54.5 271.5)">SSC-A</text><line x1="48.6" y1="226" x2="48.6" y2="250" stroke="#444" stroke-width="0.7"/><path d="M48.6 224 l-1.2 3 h2.4z" fill="#444"/><text x="75" y="304" font-family="Liberation Sans, sans-serif" font-size="11" font-weight="bold" text-anchor="middle" fill="#000">FSC-A</text><line x1="97.7" y1="300.7" x2="150" y2="300.7" stroke="#444" stroke-width="0.7"/><path d="M153 300.7 l-3 -1.2 v2.4z" fill="#444"/><g clip-path="url(#c22)"><g filter="url(#sb)"><ellipse cx="256" cy="238" rx="27" ry="32" fill="#000" fill-opacity="0.9"/><ellipse cx="290" cy="240" rx="26" ry="26" fill="#000" fill-opacity="0.7"/><ellipse cx="315" cy="240" rx="14" ry="20" fill="#000" fill-opacity="0.3"/></g></g><g clip-path="url(#c22)"><path d="M236 220 Q240 208 258 208 Q275 208 280 214 L290 222 L292 258 Q280 266 258 266 Q238 266 236 252Z" fill="#1c3cff" filter="url(#b2)"/><path d="M242 228 Q246 214 256 214 Q267 214 270 228 L270 250 Q268 262 256 262 Q242 262 241 250Z" fill="#00b8ff" filter="url(#b1)"/><path d="M245 232 Q247 222 254 222 Q262 222 263 232 L263 250 Q262 259 254 259 Q245 259 245 250Z" fill="#40ff30" filter="url(#b1)"/><ellipse cx="253.6" cy="239.5" rx="6.5" ry="11.5" fill="#ffff20" filter="url(#b1)"/><ellipse cx="253.4" cy="237.5" rx="4.6" ry="6.2" fill="#ff8000" filter="url(#b0)"/><ellipse cx="253.4" cy="237.5" rx="3.2" ry="4.6" fill="#ff3000" filter="url(#b0)"/></g><path d="M245.3 203.1 L278 203.1 L270.6 269.1 L233.4 270.1 L241.6 212.5 Z" fill="none" stroke="#000" stroke-width="0.9"/><rect x="224.9" y="151.5" width="130.9" height="130" fill="none" stroke="#3a3a3a" stroke-width="0.9"/><line x1="220.6" y1="157.9" x2="224.9" y2="157.9" stroke="#222" stroke-width="0.9"/><text x="219.3" y="159.5" font-family="Liberation Sans, sans-serif" font-size="4.4" font-weight="normal" text-anchor="end" fill="#222">250K</text><line x1="220.6" y1="182.6" x2="224.9" y2="182.6" stroke="#222" stroke-width="0.9"/><text x="219.3" y="184.2" font-family="Liberation Sans, sans-serif" font-size="4.4" font-weight="normal" text-anchor="end" fill="#222">200K</text><line x1="220.6" y1="207.1" x2="224.9" y2="207.1" stroke="#222" stroke-width="0.9"/><text x="219.3" y="208.7" font-family="Liberation Sans, sans-serif" font-size="4.4" font-weight="normal" text-anchor="end" fill="#222">150K</text><line x1="220.6" y1="231.8" x2="224.9" y2="231.8" stroke="#222" stroke-width="0.9"/><text x="219.3" y="233.4" font-family="Liberation Sans, sans-serif" font-size="4.4" font-weight="normal" text-anchor="end" fill="#222">100K</text><line x1="220.6" y1="256.6" x2="224.9" y2="256.6" stroke="#222" stroke-width="0.9"/><text x="219.3" y="258.2" font-family="Liberation Sans, sans-serif" font-size="4.4" font-weight="normal" text-anchor="end" fill="#222">50K</text><line x1="220.6" y1="280.8" x2="224.9" y2="280.8" stroke="#222" stroke-width="0.9"/><text x="219.3" y="282.4" font-family="Liberation Sans, sans-serif" font-size="4.4" font-weight="normal" text-anchor="end" fill="#222">0</text><line x1="250.4" y1="281.5" x2="250.4" y2="285.1" stroke="#222" stroke-width="0.9"/><text x="249.2" y="294" font-family="Liberation Sans, sans-serif" font-size="4.4" font-weight="normal" text-anchor="middle" fill="#222">0</text><line x1="281.8" y1="281.5" x2="281.8" y2="285.1" stroke="#222" stroke-width="0.9"/><text x="280.6" y="294" font-family="Liberation Sans, sans-serif" font-size="4.4" font-weight="normal" text-anchor="middle" fill="#222">10<tspan dy="-1.3" font-size="3">3</tspan></text><line x1="314.9" y1="281.5" x2="314.9" y2="285.1" stroke="#222" stroke-width="0.9"/><text x="313.7" y="294" font-family="Liberation Sans, sans-serif" font-size="4.4" font-weight="normal" text-anchor="middle" fill="#222">10<tspan dy="-1.3" font-size="3">4</tspan></text><line x1="345.5" y1="281.5" x2="345.5" y2="285.1" stroke="#222" stroke-width="0.9"/><text x="344.3" y="294" font-family="Liberation Sans, sans-serif" font-size="4.4" font-weight="normal" text-anchor="middle" fill="#222">10<tspan dy="-1.3" font-size="3">5</tspan></text><line x1="222.7" y1="162.84" x2="224.9" y2="162.84" stroke="#333" stroke-width="0.7"/><line x1="222.7" y1="167.78" x2="224.9" y2="167.78" stroke="#333" stroke-width="0.7"/><line x1="222.7" y1="172.72" x2="224.9" y2="172.72" stroke="#333" stroke-width="0.7"/><line x1="222.7" y1="177.66" x2="224.9" y2="177.66" stroke="#333" stroke-width="0.7"/><line x1="222.7" y1="187.5" x2="224.9" y2="187.5" stroke="#333" stroke-width="0.7"/><line x1="222.7" y1="192.4" x2="224.9" y2="192.4" stroke="#333" stroke-width="0.7"/><line x1="222.7" y1="197.3" x2="224.9" y2="197.3" stroke="#333" stroke-width="0.7"/><line x1="222.7" y1="202.2" x2="224.9" y2="202.2" stroke="#333" stroke-width="0.7"/><line x1="222.7" y1="212.04" x2="224.9" y2="212.04" stroke="#333" stroke-width="0.7"/><line x1="222.7" y1="216.98" x2="224.9" y2="216.98" stroke="#333" stroke-width="0.7"/><line x1="222.7" y1="221.92" x2="224.9" y2="221.92" stroke="#333" stroke-width="0.7"/><line x1="222.7" y1="226.86" x2="224.9" y2="226.86" stroke="#333" stroke-width="0.7"/><line x1="222.7" y1="236.76" x2="224.9" y2="236.76" stroke="#333" stroke-width="0.7"/><line x1="222.7" y1="241.72" x2="224.9" y2="241.72" stroke="#333" stroke-width="0.7"/><line x1="222.7" y1="246.68" x2="224.9" y2="246.68" stroke="#333" stroke-width="0.7"/><line x1="222.7" y1="251.64" x2="224.9" y2="251.64" stroke="#333" stroke-width="0.7"/><line x1="222.7" y1="261.44" x2="224.9" y2="261.44" stroke="#333" stroke-width="0.7"/><line x1="222.7" y1="266.28" x2="224.9" y2="266.28" stroke="#333" stroke-width="0.7"/><line x1="222.7" y1="271.12" x2="224.9" y2="271.12" stroke="#333" stroke-width="0.7"/><line x1="222.7" y1="275.96" x2="224.9" y2="275.96" stroke="#333" stroke-width="0.7"/><line x1="256.68" y1="281.5" x2="256.68" y2="283.5" stroke="#333" stroke-width="0.7"/><line x1="262.96" y1="281.5" x2="262.96" y2="283.5" stroke="#333" stroke-width="0.7"/><line x1="269.24" y1="281.5" x2="269.24" y2="283.5" stroke="#333" stroke-width="0.7"/><line x1="275.52" y1="281.5" x2="275.52" y2="283.5" stroke="#333" stroke-width="0.7"/><line x1="288.42" y1="281.5" x2="288.42" y2="283.5" stroke="#333" stroke-width="0.7"/><line x1="295.04" y1="281.5" x2="295.04" y2="283.5" stroke="#333" stroke-width="0.7"/><line x1="301.66" y1="281.5" x2="301.66" y2="283.5" stroke="#333" stroke-width="0.7"/><line x1="308.28" y1="281.5" x2="308.28" y2="283.5" stroke="#333" stroke-width="0.7"/><line x1="321.02" y1="281.5" x2="321.02" y2="283.5" stroke="#333" stroke-width="0.7"/><line x1="327.14" y1="281.5" x2="327.14" y2="283.5" stroke="#333" stroke-width="0.7"/><line x1="333.26" y1="281.5" x2="333.26" y2="283.5" stroke="#333" stroke-width="0.7"/><line x1="339.38" y1="281.5" x2="339.38" y2="283.5" stroke="#333" stroke-width="0.7"/><path d="M243 281.5 V284.7 M244.12 281.5 V284.24 M245.25 281.5 V284.57 M246.38 281.5 V284.53 M247.5 281.5 V284.88 M248.62 281.5 V284.73 M249.75 281.5 V284.29 M250.88 281.5 V284.98 M252 281.5 V284.12" stroke="#000" stroke-width="0.9" fill="none"/><line x1="318.8" y1="203.3" x2="375" y2="203.3" stroke="#444" stroke-width="0.95"/><text x="210.5" y="273.6" font-family="Liberation Sans, sans-serif" font-size="11" font-weight="bold" text-anchor="middle" fill="#000" transform="rotate(-90 210.5 273.6)">SSC-A</text><line x1="206.3" y1="226" x2="206.3" y2="249" stroke="#444" stroke-width="0.7"/><path d="M206.3 224 l-1.2 3 h2.4z" fill="#444"/><text x="238" y="304" font-family="Liberation Sans, sans-serif" font-size="11" font-weight="bold" text-anchor="middle" fill="#000">Live/dead</text><line x1="269" y1="301" x2="297" y2="301" stroke="#444" stroke-width="0.7"/><path d="M300 301 l-3 -1.2 v2.4z" fill="#444"/><g clip-path="url(#c23)"><g filter="url(#sb)"><path d="M386 180 Q420 172 454 180 Q446 205 430 222 L430 250 L404 250 L404 222 Q390 205 386 180Z" fill="#000" fill-opacity="0.95"/><ellipse cx="415" cy="261" rx="24" ry="14" fill="#000" fill-opacity="0.95"/><ellipse cx="467" cy="259" rx="30" ry="19" fill="#000" fill-opacity="0.78"/><ellipse cx="465" cy="222" rx="28" ry="26" fill="#000" fill-opacity="0.32"/><ellipse cx="440" cy="215" rx="18" ry="30" fill="#000" fill-opacity="0.15"/><ellipse cx="492" cy="262" rx="14" ry="14" fill="#000" fill-opacity="0.2"/></g></g><g clip-path="url(#c23)"><path d="M389 182 Q420 176 451 182 Q445 203 430 216 Q418 228 406 216 Q393 203 389 182Z" fill="#1c3cff" filter="url(#b2)"/><ellipse cx="417" cy="236" rx="11" ry="15" fill="#1c3cff" fill-opacity="0.7" filter="url(#b3)"/><ellipse cx="415" cy="260" rx="20" ry="11" fill="#1c3cff" filter="url(#b2)"/><ellipse cx="468" cy="262" rx="22" ry="10" fill="#1c3cff" fill-opacity="0.5" filter="url(#b3)"/><ellipse cx="470" cy="263" rx="12" ry="6" fill="#2a80ff" fill-opacity="0.5" filter="url(#b2)"/><path d="M396 184 Q420 180 443 184 Q438 199 427 207 Q418 213 410 207 Q399 199 396 184Z" fill="#00b8ff" filter="url(#b1)"/><ellipse cx="419" cy="195.5" rx="20" ry="11" fill="#40ff30" filter="url(#b1)"/><ellipse cx="419.5" cy="194.5" rx="12.5" ry="7" fill="#ffff20" filter="url(#b1)"/><ellipse cx="419.5" cy="194" rx="8.8" ry="4.6" fill="#ff7000" filter="url(#b0)"/><ellipse cx="419.5" cy="193.8" rx="6.8" ry="3.4" fill="#ff2a00" filter="url(#b0)"/><ellipse cx="414.5" cy="260.5" rx="17" ry="9" fill="#00c0ff" filter="url(#b1)"/><ellipse cx="414.5" cy="260.6" rx="14" ry="6.5" fill="#40ff40" filter="url(#b1)"/><ellipse cx="414.7" cy="260.6" rx="5" ry="2.8" fill="#d0ff30" filter="url(#b0)"/></g><rect x="442.4" y="236.6" width="51" height="41.2" fill="none" stroke="#111" stroke-width="0.9"/><rect x="383.7" y="152" width="129.3" height="129.6" fill="none" stroke="#3a3a3a" stroke-width="0.9"/><line x1="379.4" y1="164.7" x2="383.7" y2="164.7" stroke="#222" stroke-width="0.9"/><text x="378.1" y="166.3" font-family="Liberation Sans, sans-serif" font-size="4.4" font-weight="normal" text-anchor="end" fill="#222">10<tspan dy="-1.3" font-size="3">5</tspan></text><line x1="379.4" y1="194.3" x2="383.7" y2="194.3" stroke="#222" stroke-width="0.9"/><text x="378.1" y="195.9" font-family="Liberation Sans, sans-serif" font-size="4.4" font-weight="normal" text-anchor="end" fill="#222">10<tspan dy="-1.3" font-size="3">4</tspan></text><line x1="379.4" y1="227.5" x2="383.7" y2="227.5" stroke="#222" stroke-width="0.9"/><text x="378.1" y="229.1" font-family="Liberation Sans, sans-serif" font-size="4.4" font-weight="normal" text-anchor="end" fill="#222">10<tspan dy="-1.3" font-size="3">3</tspan></text><line x1="379.4" y1="258.1" x2="383.7" y2="258.1" stroke="#222" stroke-width="0.9"/><text x="378.1" y="259.7" font-family="Liberation Sans, sans-serif" font-size="4.4" font-weight="normal" text-anchor="end" fill="#222">0</text><line x1="415.5" y1="281.6" x2="415.5" y2="285.2" stroke="#222" stroke-width="0.9"/><text x="414.3" y="294" font-family="Liberation Sans, sans-serif" font-size="4.4" font-weight="normal" text-anchor="middle" fill="#222">0</text><line x1="469.6" y1="281.6" x2="469.6" y2="285.2" stroke="#222" stroke-width="0.9"/><text x="468.4" y="294" font-family="Liberation Sans, sans-serif" font-size="4.4" font-weight="normal" text-anchor="middle" fill="#222">10<tspan dy="-1.3" font-size="3">3</tspan></text><line x1="381.5" y1="170.62" x2="383.7" y2="170.62" stroke="#333" stroke-width="0.7"/><line x1="381.5" y1="176.54" x2="383.7" y2="176.54" stroke="#333" stroke-width="0.7"/><line x1="381.5" y1="182.46" x2="383.7" y2="182.46" stroke="#333" stroke-width="0.7"/><line x1="381.5" y1="188.38" x2="383.7" y2="188.38" stroke="#333" stroke-width="0.7"/><line x1="381.5" y1="200.94" x2="383.7" y2="200.94" stroke="#333" stroke-width="0.7"/><line x1="381.5" y1="207.58" x2="383.7" y2="207.58" stroke="#333" stroke-width="0.7"/><line x1="381.5" y1="214.22" x2="383.7" y2="214.22" stroke="#333" stroke-width="0.7"/><line x1="381.5" y1="220.86" x2="383.7" y2="220.86" stroke="#333" stroke-width="0.7"/><line x1="381.5" y1="233.62" x2="383.7" y2="233.62" stroke="#333" stroke-width="0.7"/><line x1="381.5" y1="239.74" x2="383.7" y2="239.74" stroke="#333" stroke-width="0.7"/><line x1="381.5" y1="245.86" x2="383.7" y2="245.86" stroke="#333" stroke-width="0.7"/><line x1="381.5" y1="251.98" x2="383.7" y2="251.98" stroke="#333" stroke-width="0.7"/><line x1="426.32" y1="281.6" x2="426.32" y2="283.6" stroke="#333" stroke-width="0.7"/><line x1="437.14" y1="281.6" x2="437.14" y2="283.6" stroke="#333" stroke-width="0.7"/><line x1="447.96" y1="281.6" x2="447.96" y2="283.6" stroke="#333" stroke-width="0.7"/><line x1="458.78" y1="281.6" x2="458.78" y2="283.6" stroke="#333" stroke-width="0.7"/><path d="M380.57 253 H383.7 M380.06 254.43 H383.7 M380.97 255.86 H383.7 M380.47 257.29 H383.7 M381.14 258.71 H383.7 M380.2 260.14 H383.7 M380.05 261.57 H383.7 M380.34 263 H383.7" stroke="#000" stroke-width="0.9" fill="none"/><path d="M404 281.6 V284.98 M406 281.6 V284.41 M408 281.6 V284.8 M410 281.6 V284.69 M412 281.6 V284.68 M414 281.6 V284.56 M416 281.6 V284.94 M418 281.6 V285.04 M420 281.6 V284.57" stroke="#000" stroke-width="0.9" fill="none"/><line x1="477.3" y1="201.2" x2="533.5" y2="201.2" stroke="#444" stroke-width="0.95"/><text x="374" y="274" font-family="Liberation Sans, sans-serif" font-size="11" font-weight="bold" text-anchor="middle" fill="#000" transform="rotate(-90 374 274)">CD56</text><line x1="367" y1="230" x2="367" y2="253.5" stroke="#444" stroke-width="0.7"/><path d="M367 228 l-1.2 3 h2.4z" fill="#444"/><text x="389.2" y="299.4" font-family="Liberation Sans, sans-serif" font-size="11" font-weight="bold" text-anchor="middle" fill="#000">CD3</text><line x1="405.4" y1="296.1" x2="433" y2="296.1" stroke="#444" stroke-width="0.7"/><path d="M436 296.1 l-3 -1.2 v2.4z" fill="#444"/><g clip-path="url(#c24)"><g filter="url(#sb)"><ellipse cx="583" cy="206" rx="25" ry="23" fill="#000" fill-opacity="0.72"/><ellipse cx="587" cy="247" rx="18" ry="15" fill="#000" fill-opacity="0.62"/><ellipse cx="585" cy="229" rx="14" ry="6" fill="#000" fill-opacity="0.3"/><ellipse cx="622" cy="248" rx="20" ry="19" fill="#000" fill-opacity="0.78"/><ellipse cx="610" cy="215" rx="10" ry="20" fill="#000" fill-opacity="0.12"/><ellipse cx="650" cy="258" rx="8" ry="8" fill="#000" fill-opacity="0.08"/></g></g><g clip-path="url(#c24)"><g filter="url(#scy)"><ellipse cx="585" cy="204" rx="15" ry="15" fill="#000" fill-opacity="0.55"/><ellipse cx="589" cy="248" rx="9" ry="8" fill="#000" fill-opacity="0.55"/><ellipse cx="621" cy="248" rx="13" ry="11" fill="#000" fill-opacity="0.65"/></g></g><g clip-path="url(#c24)"><g filter="url(#sgr)"><ellipse cx="586" cy="202" rx="9" ry="10" fill="#000" fill-opacity="0.55"/><ellipse cx="590" cy="250" rx="4" ry="4" fill="#000" fill-opacity="0.35"/><ellipse cx="621" cy="248" rx="9" ry="8" fill="#000" fill-opacity="0.65"/></g></g><g clip-path="url(#c24)"><g filter="url(#sor)"><ellipse cx="620.5" cy="248.5" rx="5" ry="4" fill="#000" fill-opacity="0.7"/><ellipse cx="585" cy="200" rx="3" ry="3" fill="#000" fill-opacity="0.3"/></g></g><rect x="555.2" y="186.4" width="51" height="41.6" fill="none" stroke="#111" stroke-width="0.9"/><rect x="607.5" y="228" width="34.9" height="42.1" fill="none" stroke="#111" stroke-width="0.9"/><rect x="539.6" y="152" width="129.6" height="129.6" fill="none" stroke="#3a3a3a" stroke-width="0.9"/><line x1="535.3" y1="167.3" x2="539.6" y2="167.3" stroke="#222" stroke-width="0.9"/><text x="534" y="168.9" font-family="Liberation Sans, sans-serif" font-size="4.4" font-weight="normal" text-anchor="end" fill="#222">10<tspan dy="-1.3" font-size="3">4</tspan></text><line x1="535.3" y1="205.8" x2="539.6" y2="205.8" stroke="#222" stroke-width="0.9"/><text x="534" y="207.4" font-family="Liberation Sans, sans-serif" font-size="4.4" font-weight="normal" text-anchor="end" fill="#222">10<tspan dy="-1.3" font-size="3">3</tspan></text><line x1="535.3" y1="249.2" x2="539.6" y2="249.2" stroke="#222" stroke-width="0.9"/><text x="534" y="250.8" font-family="Liberation Sans, sans-serif" font-size="4.4" font-weight="normal" text-anchor="end" fill="#222">0</text><line x1="567.1" y1="281.6" x2="567.1" y2="285.2" stroke="#222" stroke-width="0.9"/><text x="565.9" y="294" font-family="Liberation Sans, sans-serif" font-size="4.4" font-weight="normal" text-anchor="middle" fill="#222">0</text><line x1="613" y1="281.6" x2="613" y2="285.2" stroke="#222" stroke-width="0.9"/><text x="611.8" y="294" font-family="Liberation Sans, sans-serif" font-size="4.4" font-weight="normal" text-anchor="middle" fill="#222">10<tspan dy="-1.3" font-size="3">3</tspan></text><line x1="654.4" y1="281.6" x2="654.4" y2="285.2" stroke="#222" stroke-width="0.9"/><text x="653.2" y="294" font-family="Liberation Sans, sans-serif" font-size="4.4" font-weight="normal" text-anchor="middle" fill="#222">10<tspan dy="-1.3" font-size="3">4</tspan></text><line x1="537.4" y1="175" x2="539.6" y2="175" stroke="#333" stroke-width="0.7"/><line x1="537.4" y1="182.7" x2="539.6" y2="182.7" stroke="#333" stroke-width="0.7"/><line x1="537.4" y1="190.4" x2="539.6" y2="190.4" stroke="#333" stroke-width="0.7"/><line x1="537.4" y1="198.1" x2="539.6" y2="198.1" stroke="#333" stroke-width="0.7"/><line x1="537.4" y1="214.48" x2="539.6" y2="214.48" stroke="#333" stroke-width="0.7"/><line x1="537.4" y1="223.16" x2="539.6" y2="223.16" stroke="#333" stroke-width="0.7"/><line x1="537.4" y1="231.84" x2="539.6" y2="231.84" stroke="#333" stroke-width="0.7"/><line x1="537.4" y1="240.52" x2="539.6" y2="240.52" stroke="#333" stroke-width="0.7"/><line x1="576.28" y1="281.6" x2="576.28" y2="283.6" stroke="#333" stroke-width="0.7"/><line x1="585.46" y1="281.6" x2="585.46" y2="283.6" stroke="#333" stroke-width="0.7"/><line x1="594.64" y1="281.6" x2="594.64" y2="283.6" stroke="#333" stroke-width="0.7"/><line x1="603.82" y1="281.6" x2="603.82" y2="283.6" stroke="#333" stroke-width="0.7"/><line x1="621.28" y1="281.6" x2="621.28" y2="283.6" stroke="#333" stroke-width="0.7"/><line x1="629.56" y1="281.6" x2="629.56" y2="283.6" stroke="#333" stroke-width="0.7"/><line x1="637.84" y1="281.6" x2="637.84" y2="283.6" stroke="#333" stroke-width="0.7"/><line x1="646.12" y1="281.6" x2="646.12" y2="283.6" stroke="#333" stroke-width="0.7"/><path d="M536.1 243 H539.6 M537.01 244.71 H539.6 M536.05 246.43 H539.6 M536.13 248.14 H539.6 M535.61 249.86 H539.6 M535.87 251.57 H539.6 M536.67 253.29 H539.6 M536.52 255 H539.6" stroke="#000" stroke-width="0.9" fill="none"/><path d="M557 281.6 V284.77 M558.25 281.6 V284.12 M559.5 281.6 V284.56 M560.75 281.6 V284.27 M562 281.6 V284.22 M563.25 281.6 V284.16 M564.5 281.6 V284.87 M565.75 281.6 V284.23 M567 281.6 V284.35" stroke="#000" stroke-width="0.9" fill="none"/><text x="531.5" y="278" font-family="Liberation Sans, sans-serif" font-size="11" font-weight="bold" text-anchor="middle" fill="#000" transform="rotate(-90 531.5 278)">CD8</text><line x1="525" y1="235" x2="525" y2="258.6" stroke="#444" stroke-width="0.7"/><path d="M525 233 l-1.2 3 h2.4z" fill="#444"/><text x="548.7" y="304.5" font-family="Liberation Sans, sans-serif" font-size="11" font-weight="bold" text-anchor="middle" fill="#000">CD4</text><line x1="563.4" y1="298.7" x2="591" y2="298.7" stroke="#444" stroke-width="0.7"/><path d="M594 298.7 l-3 -1.2 v2.4z" fill="#444"/><text x="5" y="392" font-family="Liberation Sans, sans-serif" font-size="15" font-weight="bold" text-anchor="start" fill="#000">b</text><line x1="39.5" y1="427.6" x2="39.5" y2="571.5" stroke="#000" stroke-width="1.4"/><line x1="38.8" y1="570.8" x2="185.5" y2="570.8" stroke="#000" stroke-width="1.4"/><line x1="35" y1="428.3" x2="39.5" y2="428.3" stroke="#000" stroke-width="1.4"/><text x="32.4" y="432.3" font-family="Liberation Sans, sans-serif" font-size="11" font-weight="bold" text-anchor="end" fill="#000">60</text><line x1="35" y1="475.8" x2="39.5" y2="475.8" stroke="#000" stroke-width="1.4"/><text x="32.4" y="479.8" font-family="Liberation Sans, sans-serif" font-size="11" font-weight="bold" text-anchor="end" fill="#000">50</text><line x1="35" y1="523.3" x2="39.5" y2="523.3" stroke="#000" stroke-width="1.4"/><text x="32.4" y="527.3" font-family="Liberation Sans, sans-serif" font-size="11" font-weight="bold" text-anchor="end" fill="#000">40</text><line x1="35" y1="570.8" x2="39.5" y2="570.8" stroke="#000" stroke-width="1.4"/><text x="32.4" y="574.8" font-family="Liberation Sans, sans-serif" font-size="11" font-weight="bold" text-anchor="end" fill="#000">30</text><line x1="73.3" y1="570.8" x2="73.3" y2="575.3" stroke="#000" stroke-width="1.4"/><line x1="151" y1="570.8" x2="151" y2="575.3" stroke="#000" stroke-width="1.4"/><text x="72" y="588" font-family="Liberation Sans, sans-serif" font-size="11" font-weight="bold" text-anchor="middle" fill="#000">CD4<tspan dy="-6.5" font-size="8">+</tspan></text><text x="150" y="588" font-family="Liberation Sans, sans-serif" font-size="11" font-weight="bold" text-anchor="middle" fill="#000">CD8<tspan dy="-6.5" font-size="8">+</tspan></text><text transform="translate(12 500) rotate(-90)" font-family="Liberation Sans, sans-serif" font-size="11.5" font-weight="bold" text-anchor="middle" textLength="99" lengthAdjust="spacingAndGlyphs">%of CD3<tspan dy="-4.5" font-size="8.5">+</tspan><tspan dy="4.5">T cells</tspan></text><line x1="58.7" y1="507" x2="87.9" y2="469.7" stroke="#000" stroke-width="1.3"/><line x1="58.7" y1="514.3" x2="87.9" y2="466" stroke="#000" stroke-width="1.3"/><line x1="58.7" y1="544.6" x2="87.9" y2="463.4" stroke="#000" stroke-width="1.3"/><line x1="58.7" y1="563.1" x2="87.9" y2="482.7" stroke="#000" stroke-width="1.3"/><line x1="136.3" y1="446.2" x2="165.5" y2="476.7" stroke="#000" stroke-width="1.3"/><line x1="136.3" y1="468.4" x2="165.5" y2="493" stroke="#000" stroke-width="1.3"/><line x1="136.3" y1="476.7" x2="165.5" y2="498" stroke="#000" stroke-width="1.3"/><line x1="136.3" y1="485.5" x2="165.5" y2="501.6" stroke="#000" stroke-width="1.3"/><circle cx="58.7" cy="507" r="4.2" fill="#ff0000"/><circle cx="58.7" cy="514.3" r="4.2" fill="#ff0000"/><circle cx="58.7" cy="544.6" r="4.2" fill="#ff0000"/><circle cx="58.7" cy="563.1" r="4.2" fill="#ff0000"/><circle cx="136.3" cy="446.2" r="4.2" fill="#ff0000"/><circle cx="136.3" cy="468.4" r="4.2" fill="#ff0000"/><circle cx="136.3" cy="476.7" r="4.2" fill="#ff0000"/><circle cx="136.3" cy="485.5" r="4.2" fill="#ff0000"/><rect x="84.7" y="460.2" width="6.4" height="6.4" fill="#0000cc"/><rect x="84.7" y="466.7" width="6.4" height="6.4" fill="#0000cc"/><rect x="84.7" y="479.5" width="6.4" height="6.4" fill="#0000cc"/><rect x="162.3" y="473.5" width="6.4" height="6.4" fill="#0000cc"/><rect x="162.3" y="489.8" width="6.4" height="6.4" fill="#0000cc"/><rect x="162.3" y="494.8" width="6.4" height="6.4" fill="#0000cc"/><rect x="162.3" y="498.4" width="6.4" height="6.4" fill="#0000cc"/><line x1="55.1" y1="436" x2="82.9" y2="436" stroke="#000" stroke-width="1.3"/><text x="68.5" y="436" font-family="Liberation Sans, sans-serif" font-size="12" font-weight="bold" text-anchor="middle" fill="#000">*</text><line x1="138" y1="435.8" x2="165.5" y2="435.8" stroke="#000" stroke-width="1.3"/><text x="151.5" y="436" font-family="Liberation Sans, sans-serif" font-size="12" font-weight="bold" text-anchor="middle" fill="#000">**</text><line x1="113.1" y1="532" x2="129.7" y2="532" stroke="#000" stroke-width="1.3"/><circle cx="121.4" cy="532" r="4.2" fill="#ff0000"/><text x="139.8" y="535.9" font-family="Liberation Sans, sans-serif" font-size="9.6" font-weight="normal" text-anchor="start" fill="#222">Decidua</text><line x1="115" y1="551.8" x2="131" y2="551.8" stroke="#000" stroke-width="1.3"/><rect x="119.8" y="548.6" width="6.4" height="6.4" fill="#0000cc"/><text x="141" y="555.5" font-family="Liberation Sans, sans-serif" font-size="9.4" font-weight="normal" text-anchor="start" fill="#222">PBMC</text><line x1="255.5" y1="435.6" x2="255.5" y2="571" stroke="#000" stroke-width="1.4"/><line x1="250.3" y1="570.2" x2="344.7" y2="570.2" stroke="#000" stroke-width="1.4"/><line x1="250.4" y1="436.3" x2="255.5" y2="436.3" stroke="#000" stroke-width="1.4"/><text x="248.5" y="440.1" font-family="Liberation Sans, sans-serif" font-size="10.5" font-weight="bold" text-anchor="end" fill="#000">1.5</text><line x1="250.4" y1="481" x2="255.5" y2="481" stroke="#000" stroke-width="1.4"/><text x="248.5" y="484.8" font-family="Liberation Sans, sans-serif" font-size="10.5" font-weight="bold" text-anchor="end" fill="#000">1.0</text><line x1="250.4" y1="525.7" x2="255.5" y2="525.7" stroke="#000" stroke-width="1.4"/><text x="248.5" y="529.5" font-family="Liberation Sans, sans-serif" font-size="10.5" font-weight="bold" text-anchor="end" fill="#000">0.5</text><line x1="250.4" y1="570.2" x2="255.5" y2="570.2" stroke="#000" stroke-width="1.4"/><text x="248.5" y="574" font-family="Liberation Sans, sans-serif" font-size="10.5" font-weight="bold" text-anchor="end" fill="#000">0.0</text><line x1="280.9" y1="570.2" x2="280.9" y2="574.8" stroke="#000" stroke-width="1.4"/><line x1="319.2" y1="570.2" x2="319.2" y2="574.8" stroke="#000" stroke-width="1.4"/><line x1="259" y1="481" x2="344.4" y2="481" stroke="#000" stroke-width="1.5" stroke-dasharray="1.4 1.95"/><rect x="268.5" y="503.4" width="25.25" height="66.8" fill="#ff0000"/><rect x="306.5" y="472.4" width="25.1" height="97.8" fill="#0000c8"/><line x1="281.1" y1="503.4" x2="281.1" y2="497.4" stroke="#ff2020" stroke-width="1.1"/><line x1="274.9" y1="497.4" x2="287.3" y2="497.4" stroke="#ff2020" stroke-width="1.1"/><line x1="319.1" y1="472.4" x2="319.1" y2="468.5" stroke="#2020d0" stroke-width="1.1"/><line x1="312.9" y1="468.5" x2="325.3" y2="468.5" stroke="#2020d0" stroke-width="1.1"/><text x="280.8" y="585.6" font-family="Liberation Sans, sans-serif" font-size="9.5" font-weight="bold" text-anchor="middle" fill="#000">Decidua</text><text x="318.7" y="585.6" font-family="Liberation Sans, sans-serif" font-size="9.5" font-weight="bold" text-anchor="middle" fill="#000">PBMC</text><text transform="translate(225.8 503) rotate(-90)" font-family="Liberation Sans, sans-serif" font-size="12.2" font-weight="bold" text-anchor="middle" textLength="90" lengthAdjust="spacingAndGlyphs">CD4/CD8 Ratio</text><text x="359.5" y="391.5" font-family="Liberation Sans, sans-serif" font-size="15" font-weight="bold" text-anchor="start" fill="#000">c</text><g clip-path="url(#cvb)"><g filter="url(#vblue)"><ellipse cx="458" cy="535" rx="22" ry="48" fill="#000" fill-opacity="0.55"/><ellipse cx="458" cy="540" rx="13" ry="35" fill="#000" fill-opacity="0.6"/><ellipse cx="440" cy="530" rx="14" ry="22" fill="#000" fill-opacity="0.2"/></g></g><g clip-path="url(#cvb)"><path d="M448 548 L452 520 L456 500 L459 492 L459 548 Z" fill="#1a5cff" filter="url(#b1)"/></g><g clip-path="url(#cvr)"><g filter="url(#vred)"><ellipse cx="478" cy="538" rx="20" ry="40" fill="#000" fill-opacity="0.95"/><ellipse cx="497" cy="527" rx="28" ry="28" fill="#000" fill-opacity="0.45"/><path d="M476 547 L476 492 L500 478 L530 476 L556 488 L552 547 Z" fill="#000" fill-opacity="0.2"/><ellipse cx="515" cy="470" rx="30" ry="15" fill="#000" fill-opacity="0.05"/></g></g><g clip-path="url(#cvr)"><path d="M475 548 L475 508 L482 508 L490 530 L494 548 Z" fill="#ff1010" filter="url(#b1)"/></g><g clip-path="url(#cvk)"><g filter="url(#vblk)"><ellipse cx="468" cy="552" rx="30" ry="14" fill="#000" fill-opacity="0.6"/><ellipse cx="468" cy="556" rx="24" ry="15" fill="#000" fill-opacity="0.9"/></g></g><g clip-path="url(#cvk)"><path d="M447 547 L492 547 Q488 556 478 563 Q470 571 466 570 Q460 567 455 560 Q449 553 447 547Z" fill="#000" filter="url(#b0)"/></g><g clip-path="url(#cvm)"><g filter="url(#vblk2)"><path d="M458 548 L459 484 L464 484 L467 548 Z" fill="#000" fill-opacity="0.75"/><path d="M469 548 L472 496 L476 496 L476 548 Z" fill="#000" fill-opacity="0.75"/></g></g><g clip-path="url(#cvm)"><path d="M458.4 548 L458.4 505 L461 500 L463.5 512 L466.2 548 Z M469.2 548 L471.5 522 L474 512 L475.5 518 L475.5 548 Z" fill="#000" filter="url(#b0)"/></g><g clip-path="url(#cvk)"><path d="M458.4 547 L466.2 547 L467 564 L469.2 547 L475.5 547 L474 560 L467 569 L460 560Z" fill="#000"/></g><rect x="405.5" y="391.7" width="174.5" height="184.7" fill="none" stroke="#6a6a6a" stroke-width="1"/><line x1="458.4" y1="391.7" x2="458.4" y2="576.4" stroke="#3a3ad0" stroke-width="0.9" stroke-dasharray="2 1.6"/><line x1="475.5" y1="391.7" x2="475.5" y2="576.4" stroke="#3a3ad0" stroke-width="0.9" stroke-dasharray="2 1.6"/><line x1="405.5" y1="547.3" x2="580" y2="547.3" stroke="#5040c0" stroke-width="0.9" stroke-dasharray="2 1.6"/><line x1="402.5" y1="397.9" x2="405.5" y2="397.9" stroke="#555" stroke-width="0.8"/><text x="402" y="400.7" font-family="Liberation Mono, monospace" font-size="8.3" font-weight="normal" text-anchor="end" fill="#444">.99</text><line x1="402.5" y1="433.8" x2="405.5" y2="433.8" stroke="#555" stroke-width="0.8"/><text x="402" y="436.6" font-family="Liberation Mono, monospace" font-size="8.3" font-weight="normal" text-anchor="end" fill="#444">.39</text><line x1="402.5" y1="469.6" x2="405.5" y2="469.6" stroke="#555" stroke-width="0.8"/><text x="402" y="472.4" font-family="Liberation Mono, monospace" font-size="8.3" font-weight="normal" text-anchor="end" fill="#444">.79</text><line x1="402.5" y1="505.3" x2="405.5" y2="505.3" stroke="#555" stroke-width="0.8"/><text x="402" y="508.1" font-family="Liberation Mono, monospace" font-size="8.3" font-weight="normal" text-anchor="end" fill="#444">3.2</text><line x1="402.5" y1="541" x2="405.5" y2="541" stroke="#555" stroke-width="0.8"/><text x="402" y="543.8" font-family="Liberation Mono, monospace" font-size="8.3" font-weight="normal" text-anchor="end" fill="#444">1.6</text><line x1="402.5" y1="576.4" x2="405.5" y2="576.4" stroke="#555" stroke-width="0.8"/><text x="402" y="579.2" font-family="Liberation Mono, monospace" font-size="8.3" font-weight="normal" text-anchor="end" fill="#444">0</text><line x1="405.6" y1="576.4" x2="405.6" y2="579.4" stroke="#555" stroke-width="0.8"/><text x="405.6" y="588.5" font-family="Liberation Mono, monospace" font-size="8.3" font-weight="normal" text-anchor="middle" fill="#444">-7.11</text><line x1="433.2" y1="576.4" x2="433.2" y2="579.4" stroke="#555" stroke-width="0.8"/><text x="433.2" y="588.5" font-family="Liberation Mono, monospace" font-size="8.3" font-weight="normal" text-anchor="middle" fill="#444">-3.87</text><line x1="461.2" y1="576.4" x2="461.2" y2="579.4" stroke="#555" stroke-width="0.8"/><text x="461.2" y="588.5" font-family="Liberation Mono, monospace" font-size="8.3" font-weight="normal" text-anchor="middle" fill="#444">-0.62</text><line x1="489.3" y1="576.4" x2="489.3" y2="579.4" stroke="#555" stroke-width="0.8"/><text x="489.3" y="588.5" font-family="Liberation Mono, monospace" font-size="8.3" font-weight="normal" text-anchor="middle" fill="#444">2.62</text><line x1="518.1" y1="576.4" x2="518.1" y2="579.4" stroke="#555" stroke-width="0.8"/><text x="518.1" y="588.5" font-family="Liberation Mono, monospace" font-size="8.3" font-weight="normal" text-anchor="middle" fill="#444">5.87</text><line x1="546.2" y1="576.4" x2="546.2" y2="579.4" stroke="#555" stroke-width="0.8"/><text x="546.2" y="588.5" font-family="Liberation Mono, monospace" font-size="8.3" font-weight="normal" text-anchor="middle" fill="#444">9.11</text><line x1="574.7" y1="576.4" x2="574.7" y2="579.4" stroke="#555" stroke-width="0.8"/><text x="574.7" y="588.5" font-family="Liberation Mono, monospace" font-size="8.3" font-weight="normal" text-anchor="middle" fill="#444">12.36</text><text x="487.6" y="609.5" font-family="Liberation Sans, sans-serif" font-size="10.9" font-weight="normal" text-anchor="middle" fill="#222">log2(FoldChange)</text><text transform="translate(379 486.3) rotate(-90)" font-family="Liberation Sans, sans-serif" font-size="10.2" text-anchor="middle" fill="#1a1a1a" stroke="#1a1a1a" stroke-width="0.25" textLength="90.8" lengthAdjust="spacingAndGlyphs">-log10(P-value)</text><text x="608.2" y="353.4" font-family="Liberation Sans, sans-serif" font-size="16" font-weight="bold" text-anchor="start" fill="#000">d</text><line x1="654.6" y1="355.5" x2="720.4" y2="355.5" stroke="#858585" stroke-width="1.05"/><line x1="654.6" y1="355.5" x2="654.6" y2="384.8" stroke="#858585" stroke-width="1.05"/><line x1="638.3" y1="384.8" x2="670.8" y2="384.8" stroke="#858585" stroke-width="1.05"/><line x1="638.3" y1="384.8" x2="638.3" y2="408" stroke="#858585" stroke-width="1.05"/><line x1="670.8" y1="384.8" x2="670.8" y2="397" stroke="#858585" stroke-width="1.05"/><line x1="660" y1="397" x2="681.6" y2="397" stroke="#858585" stroke-width="1.05"/><line x1="660" y1="397" x2="660" y2="408" stroke="#858585" stroke-width="1.05"/><line x1="681.6" y1="397" x2="681.6" y2="408" stroke="#858585" stroke-width="1.05"/><line x1="720.4" y1="355.5" x2="720.4" y2="375.5" stroke="#858585" stroke-width="1.05"/><line x1="703.8" y1="375.5" x2="736.6" y2="375.5" stroke="#858585" stroke-width="1.05"/><line x1="703.8" y1="375.5" x2="703.8" y2="408" stroke="#858585" stroke-width="1.05"/><line x1="736.6" y1="375.5" x2="736.6" y2="386.5" stroke="#858585" stroke-width="1.05"/><line x1="725.5" y1="386.5" x2="747.5" y2="386.5" stroke="#858585" stroke-width="1.05"/><line x1="725.5" y1="386.5" x2="725.5" y2="408" stroke="#858585" stroke-width="1.05"/><line x1="747.5" y1="386.5" x2="747.5" y2="408" stroke="#858585" stroke-width="1.05"/><rect x="626.9" y="408.3" width="66" height="9.7" fill="#0000ff"/><rect x="692.9" y="408.3" width="63.2" height="9.7" fill="#ff0000"/><g><rect x="626.9" y="421.2" width="22.7" height="3.3" fill="#b9824c"/><rect x="626.9" y="424.2" width="22.7" height="3.3" fill="#ab904e"/><rect x="626.9" y="427.2" width="22.7" height="1.8" fill="#d76b48"/><rect x="626.9" y="428.7" width="22.7" height="2.3" fill="#d96947"/><rect x="626.9" y="430.7" width="22.7" height="3.3" fill="#db6847"/><rect x="626.9" y="433.7" width="22.7" height="3.3" fill="#c17a4b"/><rect x="626.9" y="436.7" width="22.7" height="3.8" fill="#d16e49"/><rect x="626.9" y="440.2" width="22.7" height="2.8" fill="#c9744a"/><rect x="626.9" y="442.7" width="22.7" height="2.3" fill="#c9744a"/><rect x="626.9" y="444.7" width="22.7" height="3.3" fill="#c5774b"/><rect x="626.9" y="447.7" width="22.7" height="3.8" fill="#c8754a"/><rect x="626.9" y="451.2" width="22.7" height="2.8" fill="#d06f49"/><rect x="626.9" y="453.7" width="22.7" height="4.3" fill="#cd7149"/><rect x="626.9" y="457.7" width="22.7" height="3.3" fill="#c07b4b"/><rect x="626.9" y="460.7" width="22.7" height="2.8" fill="#a7954e"/><rect x="626.9" y="463.2" width="22.7" height="4.3" fill="#9ba34c"/><rect x="626.9" y="467.2" width="22.7" height="3.3" fill="#a8934e"/><rect x="626.9" y="470.2" width="22.7" height="2.3" fill="#b6854d"/><rect x="626.9" y="472.2" width="22.7" height="2.3" fill="#b8834c"/><rect x="626.9" y="474.2" width="22.7" height="1.8" fill="#a3994d"/><rect x="626.9" y="475.7" width="22.7" height="2.3" fill="#ac8f4e"/><rect x="626.9" y="477.7" width="22.7" height="2.3" fill="#92ae4b"/><rect x="626.9" y="479.7" width="22.7" height="2.3" fill="#a4984d"/><rect x="626.9" y="481.7" width="22.7" height="4.3" fill="#9da04c"/><rect x="626.9" y="485.7" width="22.7" height="2.3" fill="#9ba34c"/><rect x="626.9" y="487.7" width="22.7" height="1.8" fill="#a4984d"/><rect x="626.9" y="489.2" width="22.7" height="3.3" fill="#a8944e"/><rect x="626.9" y="492.2" width="22.7" height="3.8" fill="#a5964d"/><rect x="626.9" y="495.7" width="22.7" height="2.3" fill="#a3994d"/><rect x="626.9" y="497.7" width="22.7" height="2.8" fill="#ad8e4e"/><rect x="626.9" y="500.2" width="22.7" height="2.8" fill="#9ba34c"/><rect x="626.9" y="502.7" width="22.7" height="1.8" fill="#8bb54a"/><rect x="626.9" y="504.2" width="22.7" height="2.3" fill="#8db34a"/><rect x="626.9" y="506.2" width="22.7" height="3.3" fill="#ad8e4e"/><rect x="626.9" y="509.2" width="22.7" height="3.8" fill="#bd7e4c"/><rect x="626.9" y="512.7" width="22.7" height="2.8" fill="#a3994d"/><rect x="626.9" y="515.2" width="22.7" height="3.8" fill="#a09d4d"/><rect x="626.9" y="518.7" width="22.7" height="3.8" fill="#ab904e"/><rect x="626.9" y="522.2" width="22.7" height="2.8" fill="#a6964e"/><rect x="626.9" y="524.7" width="22.7" height="2.3" fill="#ac8f4e"/><rect x="626.9" y="526.7" width="22.7" height="4.3" fill="#a9924e"/><rect x="626.9" y="530.7" width="22.7" height="3.8" fill="#b2894d"/><rect x="626.9" y="534.2" width="22.7" height="3.8" fill="#b4874d"/><rect x="626.9" y="537.7" width="22.7" height="4.3" fill="#99a64c"/><rect x="626.9" y="541.7" width="22.7" height="4.3" fill="#95aa4b"/><rect x="626.9" y="545.7" width="22.7" height="4.3" fill="#a7954e"/><rect x="626.9" y="549.7" width="22.7" height="1.8" fill="#a6954e"/><rect x="626.9" y="551.2" width="22.7" height="3.3" fill="#a19c4d"/><rect x="626.9" y="554.2" width="22.7" height="4.3" fill="#98a64c"/><rect x="626.9" y="558.2" width="22.7" height="3.8" fill="#91af4b"/><rect x="626.9" y="561.7" width="22.7" height="3.3" fill="#a9934e"/><rect x="626.9" y="564.7" width="22.7" height="3.3" fill="#93ad4b"/><rect x="626.9" y="567.7" width="22.7" height="3.3" fill="#9e9f4d"/><rect x="626.9" y="570.7" width="22.7" height="3.3" fill="#94ab4b"/><rect x="626.9" y="573.7" width="22.7" height="1.8" fill="#96a94c"/><rect x="626.9" y="575.2" width="22.7" height="3.3" fill="#8ab64a"/><rect x="626.9" y="578.2" width="22.7" height="4.3" fill="#9da14c"/><rect x="626.9" y="582.2" width="22.7" height="3.3" fill="#78c847"/><rect x="626.9" y="585.2" width="22.7" height="1.8" fill="#8bb54a"/><rect x="626.9" y="586.7" width="22.7" height="2.3" fill="#9aa44c"/><rect x="626.9" y="588.7" width="22.7" height="1.8" fill="#a4984d"/><rect x="626.9" y="590.2" width="22.7" height="2.3" fill="#8eb24b"/><rect x="626.9" y="592.2" width="22.7" height="3.3" fill="#96a94c"/><rect x="626.9" y="595.2" width="22.7" height="2.3" fill="#99a64c"/><rect x="626.9" y="597.2" width="22.7" height="1.8" fill="#a19b4d"/><rect x="626.9" y="598.7" width="22.7" height="2.8" fill="#a7954e"/><rect x="626.9" y="601.2" width="22.7" height="3.8" fill="#96a94c"/><rect x="626.9" y="604.7" width="22.7" height="1.8" fill="#8eb24b"/><rect x="626.9" y="606.2" width="22.7" height="1.8" fill="#a29b4d"/><rect x="626.9" y="607.7" width="22.7" height="1.8" fill="#78c847"/><rect x="626.9" y="609.2" width="22.7" height="3.8" fill="#8eb24b"/><rect x="626.9" y="612.7" width="22.7" height="2.3" fill="#8bb54a"/><rect x="626.9" y="614.7" width="22.7" height="3.8" fill="#8eb24b"/><rect x="626.9" y="618.2" width="22.7" height="1.8" fill="#92ae4b"/><rect x="626.9" y="619.7" width="22.7" height="2.8" fill="#b08b4d"/><rect x="626.9" y="622.2" width="22.7" height="3.8" fill="#96a94c"/><rect x="626.9" y="625.7" width="22.7" height="1.8" fill="#8cb44a"/><rect x="626.9" y="627.2" width="22.7" height="1.8" fill="#89b74a"/><rect x="626.9" y="628.7" width="22.7" height="2.3" fill="#9e9f4d"/><rect x="626.9" y="630.7" width="22.7" height="3.8" fill="#8fb14b"/><rect x="626.9" y="634.2" width="22.7" height="3.3" fill="#a29b4d"/><rect x="626.9" y="637.2" width="22.7" height="2.3" fill="#85bb49"/><rect x="626.9" y="639.2" width="22.7" height="4.3" fill="#96aa4c"/><rect x="626.9" y="643.2" width="22.7" height="2.8" fill="#9ca24c"/><rect x="626.9" y="645.7" width="22.7" height="2.8" fill="#91af4b"/><rect x="626.9" y="648.2" width="22.7" height="3.8" fill="#9ba34c"/><rect x="626.9" y="651.7" width="22.7" height="2.8" fill="#8cb44a"/><rect x="626.9" y="654.2" width="22.7" height="3.3" fill="#8fb14b"/><rect x="626.9" y="657.2" width="22.7" height="1.8" fill="#8eb24b"/><rect x="626.9" y="658.7" width="22.7" height="1.8" fill="#96a94c"/><rect x="626.9" y="660.2" width="22.7" height="3.3" fill="#9ca24c"/><rect x="626.9" y="663.2" width="22.7" height="3.3" fill="#8eb24b"/><rect x="626.9" y="666.2" width="22.7" height="3.3" fill="#85bb49"/><rect x="626.9" y="669.2" width="22.7" height="3.3" fill="#97a74c"/><rect x="626.9" y="672.2" width="22.7" height="2.8" fill="#9da14c"/><rect x="626.9" y="674.7" width="22.7" height="1.8" fill="#8db34a"/><rect x="626.9" y="676.2" width="22.7" height="2.3" fill="#9f9e4d"/><rect x="626.9" y="678.2" width="22.7" height="1.8" fill="#8db34a"/><rect x="626.9" y="679.7" width="22.7" height="4.3" fill="#86ba49"/><rect x="626.9" y="683.7" width="22.7" height="2.8" fill="#91af4b"/><rect x="626.9" y="686.2" width="22.7" height="4.3" fill="#9f9e4d"/><rect x="626.9" y="690.2" width="22.7" height="2.8" fill="#95aa4b"/><rect x="626.9" y="692.7" width="22.7" height="3.3" fill="#94ac4b"/><rect x="626.9" y="695.7" width="22.7" height="4.3" fill="#94ab4b"/><rect x="626.9" y="699.7" width="22.7" height="2.3" fill="#96aa4c"/><rect x="626.9" y="701.7" width="22.7" height="3.8" fill="#8db34a"/><rect x="626.9" y="705.2" width="22.7" height="1.8" fill="#82be49"/><rect x="626.9" y="706.7" width="22.7" height="2.1" fill="#96a84c"/><rect x="649.3" y="421.2" width="22.1" height="3.3" fill="#af8c4d"/><rect x="649.3" y="424.2" width="22.1" height="3.3" fill="#b4874d"/><rect x="649.3" y="427.2" width="22.1" height="1.8" fill="#ab904e"/><rect x="649.3" y="428.7" width="22.1" height="2.3" fill="#b5864d"/><rect x="649.3" y="430.7" width="22.1" height="3.3" fill="#b7844c"/><rect x="649.3" y="433.7" width="22.1" height="3.3" fill="#b2894d"/><rect x="649.3" y="436.7" width="22.1" height="3.8" fill="#d66b48"/><rect x="649.3" y="440.2" width="22.1" height="2.8" fill="#da6947"/><rect x="649.3" y="442.7" width="22.1" height="2.3" fill="#da6947"/><rect x="649.3" y="444.7" width="22.1" height="3.3" fill="#e75e47"/><rect x="649.3" y="447.7" width="22.1" height="3.8" fill="#d16f49"/><rect x="649.3" y="451.2" width="22.1" height="2.8" fill="#dc6747"/><rect x="649.3" y="453.7" width="22.1" height="4.3" fill="#de6646"/><rect x="649.3" y="457.7" width="22.1" height="3.3" fill="#c8754a"/><rect x="649.3" y="460.7" width="22.1" height="2.8" fill="#65db4a"/><rect x="649.3" y="463.2" width="22.1" height="4.3" fill="#73cd47"/><rect x="649.3" y="467.2" width="22.1" height="3.3" fill="#66da49"/><rect x="649.3" y="470.2" width="22.1" height="2.3" fill="#5be54e"/><rect x="649.3" y="472.2" width="22.1" height="2.3" fill="#59e74f"/><rect x="649.3" y="474.2" width="22.1" height="1.8" fill="#55eb50"/><rect x="649.3" y="475.7" width="22.1" height="2.3" fill="#55eb50"/><rect x="649.3" y="477.7" width="22.1" height="2.3" fill="#5ae64e"/><rect x="649.3" y="479.7" width="22.1" height="2.3" fill="#65db4a"/><rect x="649.3" y="481.7" width="22.1" height="4.3" fill="#57e94f"/><rect x="649.3" y="485.7" width="22.1" height="2.3" fill="#67d949"/><rect x="649.3" y="487.7" width="22.1" height="1.8" fill="#55eb50"/><rect x="649.3" y="489.2" width="22.1" height="3.3" fill="#6ad647"/><rect x="649.3" y="492.2" width="22.1" height="3.8" fill="#77c947"/><rect x="649.3" y="495.7" width="22.1" height="2.3" fill="#7dc348"/><rect x="649.3" y="497.7" width="22.1" height="2.8" fill="#66da49"/><rect x="649.3" y="500.2" width="22.1" height="2.8" fill="#6dd346"/><rect x="649.3" y="502.7" width="22.1" height="1.8" fill="#6ed246"/><rect x="649.3" y="504.2" width="22.1" height="2.3" fill="#68d848"/><rect x="649.3" y="506.2" width="22.1" height="3.3" fill="#6cd447"/><rect x="649.3" y="509.2" width="22.1" height="3.8" fill="#6bd547"/><rect x="649.3" y="512.7" width="22.1" height="2.8" fill="#6ed246"/><rect x="649.3" y="515.2" width="22.1" height="3.8" fill="#65db4a"/><rect x="649.3" y="518.7" width="22.1" height="3.8" fill="#60e04b"/><rect x="649.3" y="522.2" width="22.1" height="2.8" fill="#6ed246"/><rect x="649.3" y="524.7" width="22.1" height="2.3" fill="#57e94f"/><rect x="649.3" y="526.7" width="22.1" height="4.3" fill="#58e84f"/><rect x="649.3" y="530.7" width="22.1" height="3.8" fill="#55eb50"/><rect x="649.3" y="534.2" width="22.1" height="3.8" fill="#63dd4b"/><rect x="649.3" y="537.7" width="22.1" height="4.3" fill="#65db4a"/><rect x="649.3" y="541.7" width="22.1" height="4.3" fill="#5ee24c"/><rect x="649.3" y="545.7" width="22.1" height="4.3" fill="#59e74f"/><rect x="649.3" y="549.7" width="22.1" height="1.8" fill="#6fd146"/><rect x="649.3" y="551.2" width="22.1" height="3.3" fill="#66da49"/><rect x="649.3" y="554.2" width="22.1" height="4.3" fill="#55eb50"/><rect x="649.3" y="558.2" width="22.1" height="3.8" fill="#69d748"/><rect x="649.3" y="561.7" width="22.1" height="3.3" fill="#6ad648"/><rect x="649.3" y="564.7" width="22.1" height="3.3" fill="#64dc4a"/><rect x="649.3" y="567.7" width="22.1" height="3.3" fill="#60e04c"/><rect x="649.3" y="570.7" width="22.1" height="3.3" fill="#7ec248"/><rect x="649.3" y="573.7" width="22.1" height="1.8" fill="#74cc47"/><rect x="649.3" y="575.2" width="22.1" height="3.3" fill="#7ec248"/><rect x="649.3" y="578.2" width="22.1" height="4.3" fill="#71cf46"/><rect x="649.3" y="582.2" width="22.1" height="3.3" fill="#88b84a"/><rect x="649.3" y="585.2" width="22.1" height="1.8" fill="#86ba49"/><rect x="649.3" y="586.7" width="22.1" height="2.3" fill="#7ac648"/><rect x="649.3" y="588.7" width="22.1" height="1.8" fill="#76ca47"/><rect x="649.3" y="590.2" width="22.1" height="2.3" fill="#79c748"/><rect x="649.3" y="592.2" width="22.1" height="3.3" fill="#70d046"/><rect x="649.3" y="595.2" width="22.1" height="2.3" fill="#85bb49"/><rect x="649.3" y="597.2" width="22.1" height="1.8" fill="#74cc47"/><rect x="649.3" y="598.7" width="22.1" height="2.8" fill="#78c847"/><rect x="649.3" y="601.2" width="22.1" height="3.8" fill="#8bb54a"/><rect x="649.3" y="604.7" width="22.1" height="1.8" fill="#5ce44d"/><rect x="649.3" y="606.2" width="22.1" height="1.8" fill="#60e04c"/><rect x="649.3" y="607.7" width="22.1" height="1.8" fill="#5ce44d"/><rect x="649.3" y="609.2" width="22.1" height="3.8" fill="#5de34d"/><rect x="649.3" y="612.7" width="22.1" height="2.3" fill="#5fe14c"/><rect x="649.3" y="614.7" width="22.1" height="3.8" fill="#5ee24c"/><rect x="649.3" y="618.2" width="22.1" height="1.8" fill="#57e94f"/><rect x="649.3" y="619.7" width="22.1" height="2.8" fill="#62de4b"/><rect x="649.3" y="622.2" width="22.1" height="3.8" fill="#62de4b"/><rect x="649.3" y="625.7" width="22.1" height="1.8" fill="#7ac648"/><rect x="649.3" y="627.2" width="22.1" height="1.8" fill="#64dc4a"/><rect x="649.3" y="628.7" width="22.1" height="2.3" fill="#6bd547"/><rect x="649.3" y="630.7" width="22.1" height="3.8" fill="#6fd146"/><rect x="649.3" y="634.2" width="22.1" height="3.3" fill="#75cb47"/><rect x="649.3" y="637.2" width="22.1" height="2.3" fill="#67d949"/><rect x="649.3" y="639.2" width="22.1" height="4.3" fill="#6ad648"/><rect x="649.3" y="643.2" width="22.1" height="2.8" fill="#68d848"/><rect x="649.3" y="645.7" width="22.1" height="2.8" fill="#79c748"/><rect x="649.3" y="648.2" width="22.1" height="3.8" fill="#6fd146"/><rect x="649.3" y="651.7" width="22.1" height="2.8" fill="#68d848"/><rect x="649.3" y="654.2" width="22.1" height="3.3" fill="#6cd447"/><rect x="649.3" y="657.2" width="22.1" height="1.8" fill="#77c947"/><rect x="649.3" y="658.7" width="22.1" height="1.8" fill="#67d949"/><rect x="649.3" y="660.2" width="22.1" height="3.3" fill="#6cd447"/><rect x="649.3" y="663.2" width="22.1" height="3.3" fill="#68d848"/><rect x="649.3" y="666.2" width="22.1" height="3.3" fill="#6cd447"/><rect x="649.3" y="669.2" width="22.1" height="3.3" fill="#69d748"/><rect x="649.3" y="672.2" width="22.1" height="2.8" fill="#71cf46"/><rect x="649.3" y="674.7" width="22.1" height="1.8" fill="#65db4a"/><rect x="649.3" y="676.2" width="22.1" height="2.3" fill="#66da49"/><rect x="649.3" y="678.2" width="22.1" height="1.8" fill="#75cb47"/><rect x="649.3" y="679.7" width="22.1" height="4.3" fill="#71cf46"/><rect x="649.3" y="683.7" width="22.1" height="2.8" fill="#68d848"/><rect x="649.3" y="686.2" width="22.1" height="4.3" fill="#72ce47"/><rect x="649.3" y="690.2" width="22.1" height="2.8" fill="#73cd47"/><rect x="649.3" y="692.7" width="22.1" height="3.3" fill="#6bd547"/><rect x="649.3" y="695.7" width="22.1" height="4.3" fill="#6ed246"/><rect x="649.3" y="699.7" width="22.1" height="2.3" fill="#6cd447"/><rect x="649.3" y="701.7" width="22.1" height="3.8" fill="#6dd346"/><rect x="649.3" y="705.2" width="22.1" height="1.8" fill="#6dd347"/><rect x="649.3" y="706.7" width="22.1" height="2.1" fill="#72ce47"/><rect x="671.1" y="421.2" width="22.3" height="3.3" fill="#e36246"/><rect x="671.1" y="424.2" width="22.3" height="3.3" fill="#ed5848"/><rect x="671.1" y="427.2" width="22.3" height="1.8" fill="#e46146"/><rect x="671.1" y="428.7" width="22.3" height="2.3" fill="#eb5a47"/><rect x="671.1" y="430.7" width="22.3" height="3.3" fill="#e75e47"/><rect x="671.1" y="433.7" width="22.3" height="3.3" fill="#d36d48"/><rect x="671.1" y="436.7" width="22.3" height="3.8" fill="#d36e48"/><rect x="671.1" y="440.2" width="22.3" height="2.8" fill="#cc7249"/><rect x="671.1" y="442.7" width="22.3" height="2.3" fill="#db6847"/><rect x="671.1" y="444.7" width="22.3" height="3.3" fill="#cd7149"/><rect x="671.1" y="447.7" width="22.3" height="3.8" fill="#c6764b"/><rect x="671.1" y="451.2" width="22.3" height="2.8" fill="#ca744a"/><rect x="671.1" y="453.7" width="22.3" height="4.3" fill="#b6854d"/><rect x="671.1" y="457.7" width="22.3" height="3.3" fill="#cf7049"/><rect x="671.1" y="460.7" width="22.3" height="2.8" fill="#79c748"/><rect x="671.1" y="463.2" width="22.3" height="4.3" fill="#76ca47"/><rect x="671.1" y="467.2" width="22.3" height="3.3" fill="#64dc4a"/><rect x="671.1" y="470.2" width="22.3" height="2.3" fill="#6ed246"/><rect x="671.1" y="472.2" width="22.3" height="2.3" fill="#6fd146"/><rect x="671.1" y="474.2" width="22.3" height="1.8" fill="#65db4a"/><rect x="671.1" y="475.7" width="22.3" height="2.3" fill="#60e04b"/><rect x="671.1" y="477.7" width="22.3" height="2.3" fill="#6ad647"/><rect x="671.1" y="479.7" width="22.3" height="2.3" fill="#73cd47"/><rect x="671.1" y="481.7" width="22.3" height="4.3" fill="#6ad648"/><rect x="671.1" y="485.7" width="22.3" height="2.3" fill="#72ce47"/><rect x="671.1" y="487.7" width="22.3" height="1.8" fill="#62de4b"/><rect x="671.1" y="489.2" width="22.3" height="3.3" fill="#66da49"/><rect x="671.1" y="492.2" width="22.3" height="3.8" fill="#66da49"/><rect x="671.1" y="495.7" width="22.3" height="2.3" fill="#6ad648"/><rect x="671.1" y="497.7" width="22.3" height="2.8" fill="#6dd346"/><rect x="671.1" y="500.2" width="22.3" height="2.8" fill="#6dd347"/><rect x="671.1" y="502.7" width="22.3" height="1.8" fill="#6dd346"/><rect x="671.1" y="504.2" width="22.3" height="2.3" fill="#6bd547"/><rect x="671.1" y="506.2" width="22.3" height="3.3" fill="#66da49"/><rect x="671.1" y="509.2" width="22.3" height="3.8" fill="#6cd447"/><rect x="671.1" y="512.7" width="22.3" height="2.8" fill="#6dd346"/><rect x="671.1" y="515.2" width="22.3" height="3.8" fill="#75cb47"/><rect x="671.1" y="518.7" width="22.3" height="3.8" fill="#5fe14c"/><rect x="671.1" y="522.2" width="22.3" height="2.8" fill="#68d848"/><rect x="671.1" y="524.7" width="22.3" height="2.3" fill="#66da49"/><rect x="671.1" y="526.7" width="22.3" height="4.3" fill="#6bd547"/><rect x="671.1" y="530.7" width="22.3" height="3.8" fill="#72ce47"/><rect x="671.1" y="534.2" width="22.3" height="3.8" fill="#67d949"/><rect x="671.1" y="537.7" width="22.3" height="4.3" fill="#6cd447"/><rect x="671.1" y="541.7" width="22.3" height="4.3" fill="#69d748"/><rect x="671.1" y="545.7" width="22.3" height="4.3" fill="#71cf46"/><rect x="671.1" y="549.7" width="22.3" height="1.8" fill="#8bb54a"/><rect x="671.1" y="551.2" width="22.3" height="3.3" fill="#6ad648"/><rect x="671.1" y="554.2" width="22.3" height="4.3" fill="#69d748"/><rect x="671.1" y="558.2" width="22.3" height="3.8" fill="#6cd447"/><rect x="671.1" y="561.7" width="22.3" height="3.3" fill="#77c947"/><rect x="671.1" y="564.7" width="22.3" height="3.3" fill="#6dd347"/><rect x="671.1" y="567.7" width="22.3" height="3.3" fill="#6ed246"/><rect x="671.1" y="570.7" width="22.3" height="3.3" fill="#7dc348"/><rect x="671.1" y="573.7" width="22.3" height="1.8" fill="#74cc47"/><rect x="671.1" y="575.2" width="22.3" height="3.3" fill="#85bb49"/><rect x="671.1" y="578.2" width="22.3" height="4.3" fill="#76ca47"/><rect x="671.1" y="582.2" width="22.3" height="3.3" fill="#7dc348"/><rect x="671.1" y="585.2" width="22.3" height="1.8" fill="#7cc448"/><rect x="671.1" y="586.7" width="22.3" height="2.3" fill="#7dc348"/><rect x="671.1" y="588.7" width="22.3" height="1.8" fill="#7dc348"/><rect x="671.1" y="590.2" width="22.3" height="2.3" fill="#82be49"/><rect x="671.1" y="592.2" width="22.3" height="3.3" fill="#7ac648"/><rect x="671.1" y="595.2" width="22.3" height="2.3" fill="#7fc148"/><rect x="671.1" y="597.2" width="22.3" height="1.8" fill="#86ba49"/><rect x="671.1" y="598.7" width="22.3" height="2.8" fill="#7ec248"/><rect x="671.1" y="601.2" width="22.3" height="3.8" fill="#7fc148"/><rect x="671.1" y="604.7" width="22.3" height="1.8" fill="#8cb44a"/><rect x="671.1" y="606.2" width="22.3" height="1.8" fill="#6cd447"/><rect x="671.1" y="607.7" width="22.3" height="1.8" fill="#7ac648"/><rect x="671.1" y="609.2" width="22.3" height="3.8" fill="#73cd47"/><rect x="671.1" y="612.7" width="22.3" height="2.3" fill="#6ed246"/><rect x="671.1" y="614.7" width="22.3" height="3.8" fill="#85bb49"/><rect x="671.1" y="618.2" width="22.3" height="1.8" fill="#75cb47"/><rect x="671.1" y="619.7" width="22.3" height="2.8" fill="#6ed246"/><rect x="671.1" y="622.2" width="22.3" height="3.8" fill="#99a54c"/><rect x="671.1" y="625.7" width="22.3" height="1.8" fill="#87b94a"/><rect x="671.1" y="627.2" width="22.3" height="1.8" fill="#8bb54a"/><rect x="671.1" y="628.7" width="22.3" height="2.3" fill="#7bc548"/><rect x="671.1" y="630.7" width="22.3" height="3.8" fill="#7ac648"/><rect x="671.1" y="634.2" width="22.3" height="3.3" fill="#89b74a"/><rect x="671.1" y="637.2" width="22.3" height="2.3" fill="#6bd547"/><rect x="671.1" y="639.2" width="22.3" height="4.3" fill="#71cf46"/><rect x="671.1" y="643.2" width="22.3" height="2.8" fill="#70d046"/><rect x="671.1" y="645.7" width="22.3" height="2.8" fill="#7fc148"/><rect x="671.1" y="648.2" width="22.3" height="3.8" fill="#77c947"/><rect x="671.1" y="651.7" width="22.3" height="2.8" fill="#55eb50"/><rect x="671.1" y="654.2" width="22.3" height="3.3" fill="#58e84f"/><rect x="671.1" y="657.2" width="22.3" height="1.8" fill="#60e04c"/><rect x="671.1" y="658.7" width="22.3" height="1.8" fill="#55eb50"/><rect x="671.1" y="660.2" width="22.3" height="3.3" fill="#5ee24c"/><rect x="671.1" y="663.2" width="22.3" height="3.3" fill="#55eb50"/><rect x="671.1" y="666.2" width="22.3" height="3.3" fill="#80c049"/><rect x="671.1" y="669.2" width="22.3" height="3.3" fill="#6bd547"/><rect x="671.1" y="672.2" width="22.3" height="2.8" fill="#70d046"/><rect x="671.1" y="674.7" width="22.3" height="1.8" fill="#6cd447"/><rect x="671.1" y="676.2" width="22.3" height="2.3" fill="#79c748"/><rect x="671.1" y="678.2" width="22.3" height="1.8" fill="#74cc47"/><rect x="671.1" y="679.7" width="22.3" height="4.3" fill="#70d046"/><rect x="671.1" y="683.7" width="22.3" height="2.8" fill="#77c947"/><rect x="671.1" y="686.2" width="22.3" height="4.3" fill="#7ac648"/><rect x="671.1" y="690.2" width="22.3" height="2.8" fill="#6ad648"/><rect x="671.1" y="692.7" width="22.3" height="3.3" fill="#6ad647"/><rect x="671.1" y="695.7" width="22.3" height="4.3" fill="#6ad648"/><rect x="671.1" y="699.7" width="22.3" height="2.3" fill="#6ed246"/><rect x="671.1" y="701.7" width="22.3" height="3.8" fill="#6ad648"/><rect x="671.1" y="705.2" width="22.3" height="1.8" fill="#87b94a"/><rect x="671.1" y="706.7" width="22.3" height="2.1" fill="#73cd47"/><rect x="693.1" y="421.2" width="22.2" height="3.3" fill="#78c847"/><rect x="693.1" y="424.2" width="22.2" height="3.3" fill="#6cd447"/><rect x="693.1" y="427.2" width="22.2" height="1.8" fill="#6ad647"/><rect x="693.1" y="428.7" width="22.2" height="2.3" fill="#74cc47"/><rect x="693.1" y="430.7" width="22.2" height="3.3" fill="#88b84a"/><rect x="693.1" y="433.7" width="22.2" height="3.3" fill="#7fc148"/><rect x="693.1" y="436.7" width="22.2" height="3.8" fill="#78c847"/><rect x="693.1" y="440.2" width="22.2" height="2.8" fill="#7cc448"/><rect x="693.1" y="442.7" width="22.2" height="2.3" fill="#76ca47"/><rect x="693.1" y="444.7" width="22.2" height="3.3" fill="#8ab64a"/><rect x="693.1" y="447.7" width="22.2" height="3.8" fill="#5ee24c"/><rect x="693.1" y="451.2" width="22.2" height="2.8" fill="#66da49"/><rect x="693.1" y="453.7" width="22.2" height="4.3" fill="#63dd4a"/><rect x="693.1" y="457.7" width="22.2" height="3.3" fill="#5ae64e"/><rect x="693.1" y="460.7" width="22.2" height="2.8" fill="#db6847"/><rect x="693.1" y="463.2" width="22.2" height="4.3" fill="#e65f47"/><rect x="693.1" y="467.2" width="22.2" height="3.3" fill="#dd6747"/><rect x="693.1" y="470.2" width="22.2" height="2.3" fill="#d46c48"/><rect x="693.1" y="472.2" width="22.2" height="2.3" fill="#d96947"/><rect x="693.1" y="474.2" width="22.2" height="1.8" fill="#da6947"/><rect x="693.1" y="475.7" width="22.2" height="2.3" fill="#e46146"/><rect x="693.1" y="477.7" width="22.2" height="2.3" fill="#e36246"/><rect x="693.1" y="479.7" width="22.2" height="2.3" fill="#e26346"/><rect x="693.1" y="481.7" width="22.2" height="4.3" fill="#ea5b47"/><rect x="693.1" y="485.7" width="22.2" height="2.3" fill="#df6546"/><rect x="693.1" y="487.7" width="22.2" height="1.8" fill="#e85d47"/><rect x="693.1" y="489.2" width="22.2" height="3.3" fill="#e46146"/><rect x="693.1" y="492.2" width="22.2" height="3.8" fill="#e26346"/><rect x="693.1" y="495.7" width="22.2" height="2.3" fill="#e16446"/><rect x="693.1" y="497.7" width="22.2" height="2.8" fill="#e95c47"/><rect x="693.1" y="500.2" width="22.2" height="2.8" fill="#de6646"/><rect x="693.1" y="502.7" width="22.2" height="1.8" fill="#d66b48"/><rect x="693.1" y="504.2" width="22.2" height="2.3" fill="#e06446"/><rect x="693.1" y="506.2" width="22.2" height="3.3" fill="#e85d47"/><rect x="693.1" y="509.2" width="22.2" height="3.8" fill="#d96947"/><rect x="693.1" y="512.7" width="22.2" height="2.8" fill="#e36246"/><rect x="693.1" y="515.2" width="22.2" height="3.8" fill="#e95c47"/><rect x="693.1" y="518.7" width="22.2" height="3.8" fill="#e95c47"/><rect x="693.1" y="522.2" width="22.2" height="2.8" fill="#e65f47"/><rect x="693.1" y="524.7" width="22.2" height="2.3" fill="#ee5748"/><rect x="693.1" y="526.7" width="22.2" height="4.3" fill="#e36246"/><rect x="693.1" y="530.7" width="22.2" height="3.8" fill="#e26346"/><rect x="693.1" y="534.2" width="22.2" height="3.8" fill="#d26e48"/><rect x="693.1" y="537.7" width="22.2" height="4.3" fill="#e46146"/><rect x="693.1" y="541.7" width="22.2" height="4.3" fill="#e75e47"/><rect x="693.1" y="545.7" width="22.2" height="4.3" fill="#e16446"/><rect x="693.1" y="549.7" width="22.2" height="1.8" fill="#e26346"/><rect x="693.1" y="551.2" width="22.2" height="3.3" fill="#e56047"/><rect x="693.1" y="554.2" width="22.2" height="4.3" fill="#e56047"/><rect x="693.1" y="558.2" width="22.2" height="3.8" fill="#e16446"/><rect x="693.1" y="561.7" width="22.2" height="3.3" fill="#df6646"/><rect x="693.1" y="564.7" width="22.2" height="3.3" fill="#e16446"/><rect x="693.1" y="567.7" width="22.2" height="3.3" fill="#cc7249"/><rect x="693.1" y="570.7" width="22.2" height="3.3" fill="#eb5a47"/><rect x="693.1" y="573.7" width="22.2" height="1.8" fill="#f05548"/><rect x="693.1" y="575.2" width="22.2" height="3.3" fill="#f05548"/><rect x="693.1" y="578.2" width="22.2" height="4.3" fill="#e36246"/><rect x="693.1" y="582.2" width="22.2" height="3.3" fill="#ec5947"/><rect x="693.1" y="585.2" width="22.2" height="1.8" fill="#ec5947"/><rect x="693.1" y="586.7" width="22.2" height="2.3" fill="#ea5b47"/><rect x="693.1" y="588.7" width="22.2" height="1.8" fill="#f05548"/><rect x="693.1" y="590.2" width="22.2" height="2.3" fill="#ea5b47"/><rect x="693.1" y="592.2" width="22.2" height="3.3" fill="#ed5848"/><rect x="693.1" y="595.2" width="22.2" height="2.3" fill="#e56047"/><rect x="693.1" y="597.2" width="22.2" height="1.8" fill="#df6546"/><rect x="693.1" y="598.7" width="22.2" height="2.8" fill="#e65f47"/><rect x="693.1" y="601.2" width="22.2" height="3.8" fill="#e46146"/><rect x="693.1" y="604.7" width="22.2" height="1.8" fill="#e85d47"/><rect x="693.1" y="606.2" width="22.2" height="1.8" fill="#e36246"/><rect x="693.1" y="607.7" width="22.2" height="1.8" fill="#e95c47"/><rect x="693.1" y="609.2" width="22.2" height="3.8" fill="#e56047"/><rect x="693.1" y="612.7" width="22.2" height="2.3" fill="#e56047"/><rect x="693.1" y="614.7" width="22.2" height="3.8" fill="#e56047"/><rect x="693.1" y="618.2" width="22.2" height="1.8" fill="#d86a48"/><rect x="693.1" y="619.7" width="22.2" height="2.8" fill="#ed5848"/><rect x="693.1" y="622.2" width="22.2" height="3.8" fill="#ed5848"/><rect x="693.1" y="625.7" width="22.2" height="1.8" fill="#e36246"/><rect x="693.1" y="627.2" width="22.2" height="1.8" fill="#d66b48"/><rect x="693.1" y="628.7" width="22.2" height="2.3" fill="#e46146"/><rect x="693.1" y="630.7" width="22.2" height="3.8" fill="#ea5b47"/><rect x="693.1" y="634.2" width="22.2" height="3.3" fill="#cf7049"/><rect x="693.1" y="637.2" width="22.2" height="2.3" fill="#f05548"/><rect x="693.1" y="639.2" width="22.2" height="4.3" fill="#e46146"/><rect x="693.1" y="643.2" width="22.2" height="2.8" fill="#e56047"/><rect x="693.1" y="645.7" width="22.2" height="2.8" fill="#e46146"/><rect x="693.1" y="648.2" width="22.2" height="3.8" fill="#e95c47"/><rect x="693.1" y="651.7" width="22.2" height="2.8" fill="#ea5b47"/><rect x="693.1" y="654.2" width="22.2" height="3.3" fill="#e85d47"/><rect x="693.1" y="657.2" width="22.2" height="1.8" fill="#e95c47"/><rect x="693.1" y="658.7" width="22.2" height="1.8" fill="#e46146"/><rect x="693.1" y="660.2" width="22.2" height="3.3" fill="#eb5a47"/><rect x="693.1" y="663.2" width="22.2" height="3.3" fill="#e65f47"/><rect x="693.1" y="666.2" width="22.2" height="3.3" fill="#e75e47"/><rect x="693.1" y="669.2" width="22.2" height="3.3" fill="#ed5848"/><rect x="693.1" y="672.2" width="22.2" height="2.8" fill="#e95c47"/><rect x="693.1" y="674.7" width="22.2" height="1.8" fill="#ec5947"/><rect x="693.1" y="676.2" width="22.2" height="2.3" fill="#f05548"/><rect x="693.1" y="678.2" width="22.2" height="1.8" fill="#e56047"/><rect x="693.1" y="679.7" width="22.2" height="4.3" fill="#ea5b47"/><rect x="693.1" y="683.7" width="22.2" height="2.8" fill="#e16446"/><rect x="693.1" y="686.2" width="22.2" height="4.3" fill="#f05548"/><rect x="693.1" y="690.2" width="22.2" height="2.8" fill="#e26346"/><rect x="693.1" y="692.7" width="22.2" height="3.3" fill="#e06546"/><rect x="693.1" y="695.7" width="22.2" height="4.3" fill="#e56047"/><rect x="693.1" y="699.7" width="22.2" height="2.3" fill="#ef5648"/><rect x="693.1" y="701.7" width="22.2" height="3.8" fill="#ea5b47"/><rect x="693.1" y="705.2" width="22.2" height="1.8" fill="#df6546"/><rect x="693.1" y="706.7" width="22.2" height="2.1" fill="#ea5b47"/><rect x="715" y="421.2" width="22" height="3.3" fill="#72ce47"/><rect x="715" y="424.2" width="22" height="3.3" fill="#71cf46"/><rect x="715" y="427.2" width="22" height="1.8" fill="#90b04b"/><rect x="715" y="428.7" width="22" height="2.3" fill="#80c049"/><rect x="715" y="430.7" width="22" height="3.3" fill="#81bf49"/><rect x="715" y="433.7" width="22" height="3.3" fill="#81bf49"/><rect x="715" y="436.7" width="22" height="3.8" fill="#73cd47"/><rect x="715" y="440.2" width="22" height="2.8" fill="#80c049"/><rect x="715" y="442.7" width="22" height="2.3" fill="#76ca47"/><rect x="715" y="444.7" width="22" height="3.3" fill="#61df4b"/><rect x="715" y="447.7" width="22" height="3.8" fill="#77c947"/><rect x="715" y="451.2" width="22" height="2.8" fill="#88b84a"/><rect x="715" y="453.7" width="22" height="4.3" fill="#74cc47"/><rect x="715" y="457.7" width="22" height="3.3" fill="#85bb49"/><rect x="715" y="460.7" width="22" height="2.8" fill="#b4874d"/><rect x="715" y="463.2" width="22" height="4.3" fill="#bc7f4c"/><rect x="715" y="467.2" width="22" height="3.3" fill="#bc7f4c"/><rect x="715" y="470.2" width="22" height="2.3" fill="#be7d4c"/><rect x="715" y="472.2" width="22" height="2.3" fill="#c2794b"/><rect x="715" y="474.2" width="22" height="1.8" fill="#b3884d"/><rect x="715" y="475.7" width="22" height="2.3" fill="#bc7f4c"/><rect x="715" y="477.7" width="22" height="2.3" fill="#cc7249"/><rect x="715" y="479.7" width="22" height="2.3" fill="#c3784b"/><rect x="715" y="481.7" width="22" height="4.3" fill="#b8834c"/><rect x="715" y="485.7" width="22" height="2.3" fill="#bc7f4c"/><rect x="715" y="487.7" width="22" height="1.8" fill="#bd7e4c"/><rect x="715" y="489.2" width="22" height="3.3" fill="#c07b4b"/><rect x="715" y="492.2" width="22" height="3.8" fill="#bd7e4c"/><rect x="715" y="495.7" width="22" height="2.3" fill="#be7d4c"/><rect x="715" y="497.7" width="22" height="2.8" fill="#bc7f4c"/><rect x="715" y="500.2" width="22" height="2.8" fill="#b8834c"/><rect x="715" y="502.7" width="22" height="1.8" fill="#c5774b"/><rect x="715" y="504.2" width="22" height="2.3" fill="#c4774b"/><rect x="715" y="506.2" width="22" height="3.3" fill="#af8c4d"/><rect x="715" y="509.2" width="22" height="3.8" fill="#b08b4d"/><rect x="715" y="512.7" width="22" height="2.8" fill="#be7d4c"/><rect x="715" y="515.2" width="22" height="3.8" fill="#b08b4d"/><rect x="715" y="518.7" width="22" height="3.8" fill="#b7844c"/><rect x="715" y="522.2" width="22" height="2.8" fill="#b7844c"/><rect x="715" y="524.7" width="22" height="2.3" fill="#bb804c"/><rect x="715" y="526.7" width="22" height="4.3" fill="#b4874d"/><rect x="715" y="530.7" width="22" height="3.8" fill="#d16f49"/><rect x="715" y="534.2" width="22" height="3.8" fill="#c07b4b"/><rect x="715" y="537.7" width="22" height="4.3" fill="#c07b4b"/><rect x="715" y="541.7" width="22" height="4.3" fill="#ac8f4e"/><rect x="715" y="545.7" width="22" height="4.3" fill="#ab904e"/><rect x="715" y="549.7" width="22" height="1.8" fill="#ba814c"/><rect x="715" y="551.2" width="22" height="3.3" fill="#c07b4b"/><rect x="715" y="554.2" width="22" height="4.3" fill="#b9824c"/><rect x="715" y="558.2" width="22" height="3.8" fill="#c2794b"/><rect x="715" y="561.7" width="22" height="3.3" fill="#a29b4d"/><rect x="715" y="564.7" width="22" height="3.3" fill="#c07b4b"/><rect x="715" y="567.7" width="22" height="3.3" fill="#c3784b"/><rect x="715" y="570.7" width="22" height="3.3" fill="#89b74a"/><rect x="715" y="573.7" width="22" height="1.8" fill="#9ea04d"/><rect x="715" y="575.2" width="22" height="3.3" fill="#9ba34c"/><rect x="715" y="578.2" width="22" height="4.3" fill="#95aa4b"/><rect x="715" y="582.2" width="22" height="3.3" fill="#84bc49"/><rect x="715" y="585.2" width="22" height="1.8" fill="#8db34a"/><rect x="715" y="586.7" width="22" height="2.3" fill="#9da04c"/><rect x="715" y="588.7" width="22" height="1.8" fill="#a6964e"/><rect x="715" y="590.2" width="22" height="2.3" fill="#9ba34c"/><rect x="715" y="592.2" width="22" height="3.3" fill="#ad8e4e"/><rect x="715" y="595.2" width="22" height="2.3" fill="#92ae4b"/><rect x="715" y="597.2" width="22" height="1.8" fill="#ad8e4e"/><rect x="715" y="598.7" width="22" height="2.8" fill="#84bc49"/><rect x="715" y="601.2" width="22" height="3.8" fill="#9ba34c"/><rect x="715" y="604.7" width="22" height="1.8" fill="#a09d4d"/><rect x="715" y="606.2" width="22" height="1.8" fill="#a39a4d"/><rect x="715" y="607.7" width="22" height="1.8" fill="#a6964e"/><rect x="715" y="609.2" width="22" height="3.8" fill="#a29b4d"/><rect x="715" y="612.7" width="22" height="2.3" fill="#95ab4b"/><rect x="715" y="614.7" width="22" height="3.8" fill="#aa914e"/><rect x="715" y="618.2" width="22" height="1.8" fill="#9da14c"/><rect x="715" y="619.7" width="22" height="2.8" fill="#ad8e4e"/><rect x="715" y="622.2" width="22" height="3.8" fill="#a09d4d"/><rect x="715" y="625.7" width="22" height="1.8" fill="#aa924e"/><rect x="715" y="627.2" width="22" height="1.8" fill="#ab904e"/><rect x="715" y="628.7" width="22" height="2.3" fill="#ad8e4e"/><rect x="715" y="630.7" width="22" height="3.8" fill="#a5974d"/><rect x="715" y="634.2" width="22" height="3.3" fill="#b8834c"/><rect x="715" y="637.2" width="22" height="2.3" fill="#a5974d"/><rect x="715" y="639.2" width="22" height="4.3" fill="#aa914e"/><rect x="715" y="643.2" width="22" height="2.8" fill="#b18a4d"/><rect x="715" y="645.7" width="22" height="2.8" fill="#ac8f4e"/><rect x="715" y="648.2" width="22" height="3.8" fill="#b9824c"/><rect x="715" y="651.7" width="22" height="2.8" fill="#ab904e"/><rect x="715" y="654.2" width="22" height="3.3" fill="#a7944e"/><rect x="715" y="657.2" width="22" height="1.8" fill="#b6854d"/><rect x="715" y="658.7" width="22" height="1.8" fill="#b18a4d"/><rect x="715" y="660.2" width="22" height="3.3" fill="#a3994d"/><rect x="715" y="663.2" width="22" height="3.3" fill="#a7954e"/><rect x="715" y="666.2" width="22" height="3.3" fill="#ae8d4e"/><rect x="715" y="669.2" width="22" height="3.3" fill="#b8834c"/><rect x="715" y="672.2" width="22" height="2.8" fill="#b4874d"/><rect x="715" y="674.7" width="22" height="1.8" fill="#ad8e4e"/><rect x="715" y="676.2" width="22" height="2.3" fill="#92ae4b"/><rect x="715" y="678.2" width="22" height="1.8" fill="#b2894d"/><rect x="715" y="679.7" width="22" height="4.3" fill="#9e9f4d"/><rect x="715" y="683.7" width="22" height="2.8" fill="#9ba44c"/><rect x="715" y="686.2" width="22" height="4.3" fill="#a5984d"/><rect x="715" y="690.2" width="22" height="2.8" fill="#ad8e4e"/><rect x="715" y="692.7" width="22" height="3.3" fill="#ad8e4e"/><rect x="715" y="695.7" width="22" height="4.3" fill="#c3784b"/><rect x="715" y="699.7" width="22" height="2.3" fill="#aa914e"/><rect x="715" y="701.7" width="22" height="3.8" fill="#a3994d"/><rect x="715" y="705.2" width="22" height="1.8" fill="#b7844c"/><rect x="715" y="706.7" width="22" height="2.1" fill="#ae8d4e"/><rect x="736.7" y="421.2" width="19.7" height="3.3" fill="#68d849"/><rect x="736.7" y="424.2" width="19.7" height="3.3" fill="#64dc4a"/><rect x="736.7" y="427.2" width="19.7" height="1.8" fill="#6ad647"/><rect x="736.7" y="428.7" width="19.7" height="2.3" fill="#79c748"/><rect x="736.7" y="430.7" width="19.7" height="3.3" fill="#70d046"/><rect x="736.7" y="433.7" width="19.7" height="3.3" fill="#69d748"/><rect x="736.7" y="436.7" width="19.7" height="3.8" fill="#82be49"/><rect x="736.7" y="440.2" width="19.7" height="2.8" fill="#7ac648"/><rect x="736.7" y="442.7" width="19.7" height="2.3" fill="#6bd547"/><rect x="736.7" y="444.7" width="19.7" height="3.3" fill="#80c049"/><rect x="736.7" y="447.7" width="19.7" height="3.8" fill="#7ec248"/><rect x="736.7" y="451.2" width="19.7" height="2.8" fill="#8bb54a"/><rect x="736.7" y="453.7" width="19.7" height="4.3" fill="#77c947"/><rect x="736.7" y="457.7" width="19.7" height="3.3" fill="#6cd447"/><rect x="736.7" y="460.7" width="19.7" height="2.8" fill="#e26346"/><rect x="736.7" y="463.2" width="19.7" height="4.3" fill="#eb5a47"/><rect x="736.7" y="467.2" width="19.7" height="3.3" fill="#d66b48"/><rect x="736.7" y="470.2" width="19.7" height="2.3" fill="#e75e47"/><rect x="736.7" y="472.2" width="19.7" height="2.3" fill="#de6647"/><rect x="736.7" y="474.2" width="19.7" height="1.8" fill="#e26346"/><rect x="736.7" y="475.7" width="19.7" height="2.3" fill="#bb804c"/><rect x="736.7" y="477.7" width="19.7" height="2.3" fill="#b3884d"/><rect x="736.7" y="479.7" width="19.7" height="2.3" fill="#c5774b"/><rect x="736.7" y="481.7" width="19.7" height="4.3" fill="#b7844c"/><rect x="736.7" y="485.7" width="19.7" height="2.3" fill="#bd7e4c"/><rect x="736.7" y="487.7" width="19.7" height="1.8" fill="#c17a4b"/><rect x="736.7" y="489.2" width="19.7" height="3.3" fill="#af8c4d"/><rect x="736.7" y="492.2" width="19.7" height="3.8" fill="#c17a4b"/><rect x="736.7" y="495.7" width="19.7" height="2.3" fill="#c07b4b"/><rect x="736.7" y="497.7" width="19.7" height="2.8" fill="#b9824c"/><rect x="736.7" y="500.2" width="19.7" height="2.8" fill="#b6854d"/><rect x="736.7" y="502.7" width="19.7" height="1.8" fill="#bf7c4c"/><rect x="736.7" y="504.2" width="19.7" height="2.3" fill="#c07b4b"/><rect x="736.7" y="506.2" width="19.7" height="3.3" fill="#ba814c"/><rect x="736.7" y="509.2" width="19.7" height="3.8" fill="#ba814c"/><rect x="736.7" y="512.7" width="19.7" height="2.8" fill="#b8834c"/><rect x="736.7" y="515.2" width="19.7" height="3.8" fill="#a7954e"/><rect x="736.7" y="518.7" width="19.7" height="3.8" fill="#c3784b"/><rect x="736.7" y="522.2" width="19.7" height="2.8" fill="#c2794b"/><rect x="736.7" y="524.7" width="19.7" height="2.3" fill="#ad8e4e"/><rect x="736.7" y="526.7" width="19.7" height="4.3" fill="#cc724a"/><rect x="736.7" y="530.7" width="19.7" height="3.8" fill="#b6854d"/><rect x="736.7" y="534.2" width="19.7" height="3.8" fill="#b4874d"/><rect x="736.7" y="537.7" width="19.7" height="4.3" fill="#bc7f4c"/><rect x="736.7" y="541.7" width="19.7" height="4.3" fill="#c5774b"/><rect x="736.7" y="545.7" width="19.7" height="4.3" fill="#b18a4d"/><rect x="736.7" y="549.7" width="19.7" height="1.8" fill="#b7844c"/><rect x="736.7" y="551.2" width="19.7" height="3.3" fill="#ad8e4e"/><rect x="736.7" y="554.2" width="19.7" height="4.3" fill="#a29a4d"/><rect x="736.7" y="558.2" width="19.7" height="3.8" fill="#b08b4d"/><rect x="736.7" y="561.7" width="19.7" height="3.3" fill="#a7954e"/><rect x="736.7" y="564.7" width="19.7" height="3.3" fill="#7ec248"/><rect x="736.7" y="567.7" width="19.7" height="3.3" fill="#81bf49"/><rect x="736.7" y="570.7" width="19.7" height="3.3" fill="#78c847"/><rect x="736.7" y="573.7" width="19.7" height="1.8" fill="#6ad648"/><rect x="736.7" y="575.2" width="19.7" height="3.3" fill="#8eb24b"/><rect x="736.7" y="578.2" width="19.7" height="4.3" fill="#8cb44a"/><rect x="736.7" y="582.2" width="19.7" height="3.3" fill="#8cb44a"/><rect x="736.7" y="585.2" width="19.7" height="1.8" fill="#7bc548"/><rect x="736.7" y="586.7" width="19.7" height="2.3" fill="#82be49"/><rect x="736.7" y="588.7" width="19.7" height="1.8" fill="#81bf49"/><rect x="736.7" y="590.2" width="19.7" height="2.3" fill="#69d748"/><rect x="736.7" y="592.2" width="19.7" height="3.3" fill="#75cb47"/><rect x="736.7" y="595.2" width="19.7" height="2.3" fill="#79c748"/><rect x="736.7" y="597.2" width="19.7" height="1.8" fill="#6ed246"/><rect x="736.7" y="598.7" width="19.7" height="2.8" fill="#7ac648"/><rect x="736.7" y="601.2" width="19.7" height="3.8" fill="#bc7f4c"/><rect x="736.7" y="604.7" width="19.7" height="1.8" fill="#b4874d"/><rect x="736.7" y="606.2" width="19.7" height="1.8" fill="#aa924e"/><rect x="736.7" y="607.7" width="19.7" height="1.8" fill="#c5764b"/><rect x="736.7" y="609.2" width="19.7" height="3.8" fill="#c07b4b"/><rect x="736.7" y="612.7" width="19.7" height="2.3" fill="#b8834c"/><rect x="736.7" y="614.7" width="19.7" height="3.8" fill="#bc7f4c"/><rect x="736.7" y="618.2" width="19.7" height="1.8" fill="#a8944e"/><rect x="736.7" y="619.7" width="19.7" height="2.8" fill="#b9824c"/><rect x="736.7" y="622.2" width="19.7" height="3.8" fill="#b7844c"/><rect x="736.7" y="625.7" width="19.7" height="1.8" fill="#ca744a"/><rect x="736.7" y="627.2" width="19.7" height="1.8" fill="#be7d4c"/><rect x="736.7" y="628.7" width="19.7" height="2.3" fill="#b6854d"/><rect x="736.7" y="630.7" width="19.7" height="3.8" fill="#c6764b"/><rect x="736.7" y="634.2" width="19.7" height="3.3" fill="#bd7e4c"/><rect x="736.7" y="637.2" width="19.7" height="2.3" fill="#b2894d"/><rect x="736.7" y="639.2" width="19.7" height="4.3" fill="#ab904e"/><rect x="736.7" y="643.2" width="19.7" height="2.8" fill="#c5774b"/><rect x="736.7" y="645.7" width="19.7" height="2.8" fill="#a9934e"/><rect x="736.7" y="648.2" width="19.7" height="3.8" fill="#a9924e"/><rect x="736.7" y="651.7" width="19.7" height="2.8" fill="#ad8e4e"/><rect x="736.7" y="654.2" width="19.7" height="3.3" fill="#a6964d"/><rect x="736.7" y="657.2" width="19.7" height="1.8" fill="#ae8d4e"/><rect x="736.7" y="658.7" width="19.7" height="1.8" fill="#af8c4d"/><rect x="736.7" y="660.2" width="19.7" height="3.3" fill="#af8c4d"/><rect x="736.7" y="663.2" width="19.7" height="3.3" fill="#97a84c"/><rect x="736.7" y="666.2" width="19.7" height="3.3" fill="#9da04c"/><rect x="736.7" y="669.2" width="19.7" height="3.3" fill="#9ba34c"/><rect x="736.7" y="672.2" width="19.7" height="2.8" fill="#b5864d"/><rect x="736.7" y="674.7" width="19.7" height="1.8" fill="#af8c4d"/><rect x="736.7" y="676.2" width="19.7" height="2.3" fill="#94ac4b"/><rect x="736.7" y="678.2" width="19.7" height="1.8" fill="#b2894d"/><rect x="736.7" y="679.7" width="19.7" height="4.3" fill="#b7844c"/><rect x="736.7" y="683.7" width="19.7" height="2.8" fill="#ac8f4e"/><rect x="736.7" y="686.2" width="19.7" height="4.3" fill="#ae8d4e"/><rect x="736.7" y="690.2" width="19.7" height="2.8" fill="#b8834c"/><rect x="736.7" y="692.7" width="19.7" height="3.3" fill="#96a94c"/><rect x="736.7" y="695.7" width="19.7" height="4.3" fill="#af8c4d"/><rect x="736.7" y="699.7" width="19.7" height="2.3" fill="#b5864d"/><rect x="736.7" y="701.7" width="19.7" height="3.8" fill="#bd7e4c"/><rect x="736.7" y="705.2" width="19.7" height="1.8" fill="#ad8e4e"/><rect x="736.7" y="706.7" width="19.7" height="2.1" fill="#9ba34c"/></g><g filter="url(#hb)"><rect x="626.9" y="421.2" width="22.7" height="3.3" fill="#b9824c"/><rect x="626.9" y="424.2" width="22.7" height="3.3" fill="#ab904e"/><rect x="626.9" y="427.2" width="22.7" height="1.8" fill="#d76b48"/><rect x="626.9" y="428.7" width="22.7" height="2.3" fill="#d96947"/><rect x="626.9" y="430.7" width="22.7" height="3.3" fill="#db6847"/><rect x="626.9" y="433.7" width="22.7" height="3.3" fill="#c17a4b"/><rect x="626.9" y="436.7" width="22.7" height="3.8" fill="#d16e49"/><rect x="626.9" y="440.2" width="22.7" height="2.8" fill="#c9744a"/><rect x="626.9" y="442.7" width="22.7" height="2.3" fill="#c9744a"/><rect x="626.9" y="444.7" width="22.7" height="3.3" fill="#c5774b"/><rect x="626.9" y="447.7" width="22.7" height="3.8" fill="#c8754a"/><rect x="626.9" y="451.2" width="22.7" height="2.8" fill="#d06f49"/><rect x="626.9" y="453.7" width="22.7" height="4.3" fill="#cd7149"/><rect x="626.9" y="457.7" width="22.7" height="3.3" fill="#c07b4b"/><rect x="626.9" y="460.7" width="22.7" height="2.8" fill="#a7954e"/><rect x="626.9" y="463.2" width="22.7" height="4.3" fill="#9ba34c"/><rect x="626.9" y="467.2" width="22.7" height="3.3" fill="#a8934e"/><rect x="626.9" y="470.2" width="22.7" height="2.3" fill="#b6854d"/><rect x="626.9" y="472.2" width="22.7" height="2.3" fill="#b8834c"/><rect x="626.9" y="474.2" width="22.7" height="1.8" fill="#a3994d"/><rect x="626.9" y="475.7" width="22.7" height="2.3" fill="#ac8f4e"/><rect x="626.9" y="477.7" width="22.7" height="2.3" fill="#92ae4b"/><rect x="626.9" y="479.7" width="22.7" height="2.3" fill="#a4984d"/><rect x="626.9" y="481.7" width="22.7" height="4.3" fill="#9da04c"/><rect x="626.9" y="485.7" width="22.7" height="2.3" fill="#9ba34c"/><rect x="626.9" y="487.7" width="22.7" height="1.8" fill="#a4984d"/><rect x="626.9" y="489.2" width="22.7" height="3.3" fill="#a8944e"/><rect x="626.9" y="492.2" width="22.7" height="3.8" fill="#a5964d"/><rect x="626.9" y="495.7" width="22.7" height="2.3" fill="#a3994d"/><rect x="626.9" y="497.7" width="22.7" height="2.8" fill="#ad8e4e"/><rect x="626.9" y="500.2" width="22.7" height="2.8" fill="#9ba34c"/><rect x="626.9" y="502.7" width="22.7" height="1.8" fill="#8bb54a"/><rect x="626.9" y="504.2" width="22.7" height="2.3" fill="#8db34a"/><rect x="626.9" y="506.2" width="22.7" height="3.3" fill="#ad8e4e"/><rect x="626.9" y="509.2" width="22.7" height="3.8" fill="#bd7e4c"/><rect x="626.9" y="512.7" width="22.7" height="2.8" fill="#a3994d"/><rect x="626.9" y="515.2" width="22.7" height="3.8" fill="#a09d4d"/><rect x="626.9" y="518.7" width="22.7" height="3.8" fill="#ab904e"/><rect x="626.9" y="522.2" width="22.7" height="2.8" fill="#a6964e"/><rect x="626.9" y="524.7" width="22.7" height="2.3" fill="#ac8f4e"/><rect x="626.9" y="526.7" width="22.7" height="4.3" fill="#a9924e"/><rect x="626.9" y="530.7" width="22.7" height="3.8" fill="#b2894d"/><rect x="626.9" y="534.2" width="22.7" height="3.8" fill="#b4874d"/><rect x="626.9" y="537.7" width="22.7" height="4.3" fill="#99a64c"/><rect x="626.9" y="541.7" width="22.7" height="4.3" fill="#95aa4b"/><rect x="626.9" y="545.7" width="22.7" height="4.3" fill="#a7954e"/><rect x="626.9" y="549.7" width="22.7" height="1.8" fill="#a6954e"/><rect x="626.9" y="551.2" width="22.7" height="3.3" fill="#a19c4d"/><rect x="626.9" y="554.2" width="22.7" height="4.3" fill="#98a64c"/><rect x="626.9" y="558.2" width="22.7" height="3.8" fill="#91af4b"/><rect x="626.9" y="561.7" width="22.7" height="3.3" fill="#a9934e"/><rect x="626.9" y="564.7" width="22.7" height="3.3" fill="#93ad4b"/><rect x="626.9" y="567.7" width="22.7" height="3.3" fill="#9e9f4d"/><rect x="626.9" y="570.7" width="22.7" height="3.3" fill="#94ab4b"/><rect x="626.9" y="573.7" width="22.7" height="1.8" fill="#96a94c"/><rect x="626.9" y="575.2" width="22.7" height="3.3" fill="#8ab64a"/><rect x="626.9" y="578.2" width="22.7" height="4.3" fill="#9da14c"/><rect x="626.9" y="582.2" width="22.7" height="3.3" fill="#78c847"/><rect x="626.9" y="585.2" width="22.7" height="1.8" fill="#8bb54a"/><rect x="626.9" y="586.7" width="22.7" height="2.3" fill="#9aa44c"/><rect x="626.9" y="588.7" width="22.7" height="1.8" fill="#a4984d"/><rect x="626.9" y="590.2" width="22.7" height="2.3" fill="#8eb24b"/><rect x="626.9" y="592.2" width="22.7" height="3.3" fill="#96a94c"/><rect x="626.9" y="595.2" width="22.7" height="2.3" fill="#99a64c"/><rect x="626.9" y="597.2" width="22.7" height="1.8" fill="#a19b4d"/><rect x="626.9" y="598.7" width="22.7" height="2.8" fill="#a7954e"/><rect x="626.9" y="601.2" width="22.7" height="3.8" fill="#96a94c"/><rect x="626.9" y="604.7" width="22.7" height="1.8" fill="#8eb24b"/><rect x="626.9" y="606.2" width="22.7" height="1.8" fill="#a29b4d"/><rect x="626.9" y="607.7" width="22.7" height="1.8" fill="#78c847"/><rect x="626.9" y="609.2" width="22.7" height="3.8" fill="#8eb24b"/><rect x="626.9" y="612.7" width="22.7" height="2.3" fill="#8bb54a"/><rect x="626.9" y="614.7" width="22.7" height="3.8" fill="#8eb24b"/><rect x="626.9" y="618.2" width="22.7" height="1.8" fill="#92ae4b"/><rect x="626.9" y="619.7" width="22.7" height="2.8" fill="#b08b4d"/><rect x="626.9" y="622.2" width="22.7" height="3.8" fill="#96a94c"/><rect x="626.9" y="625.7" width="22.7" height="1.8" fill="#8cb44a"/><rect x="626.9" y="627.2" width="22.7" height="1.8" fill="#89b74a"/><rect x="626.9" y="628.7" width="22.7" height="2.3" fill="#9e9f4d"/><rect x="626.9" y="630.7" width="22.7" height="3.8" fill="#8fb14b"/><rect x="626.9" y="634.2" width="22.7" height="3.3" fill="#a29b4d"/><rect x="626.9" y="637.2" width="22.7" height="2.3" fill="#85bb49"/><rect x="626.9" y="639.2" width="22.7" height="4.3" fill="#96aa4c"/><rect x="626.9" y="643.2" width="22.7" height="2.8" fill="#9ca24c"/><rect x="626.9" y="645.7" width="22.7" height="2.8" fill="#91af4b"/><rect x="626.9" y="648.2" width="22.7" height="3.8" fill="#9ba34c"/><rect x="626.9" y="651.7" width="22.7" height="2.8" fill="#8cb44a"/><rect x="626.9" y="654.2" width="22.7" height="3.3" fill="#8fb14b"/><rect x="626.9" y="657.2" width="22.7" height="1.8" fill="#8eb24b"/><rect x="626.9" y="658.7" width="22.7" height="1.8" fill="#96a94c"/><rect x="626.9" y="660.2" width="22.7" height="3.3" fill="#9ca24c"/><rect x="626.9" y="663.2" width="22.7" height="3.3" fill="#8eb24b"/><rect x="626.9" y="666.2" width="22.7" height="3.3" fill="#85bb49"/><rect x="626.9" y="669.2" width="22.7" height="3.3" fill="#97a74c"/><rect x="626.9" y="672.2" width="22.7" height="2.8" fill="#9da14c"/><rect x="626.9" y="674.7" width="22.7" height="1.8" fill="#8db34a"/><rect x="626.9" y="676.2" width="22.7" height="2.3" fill="#9f9e4d"/><rect x="626.9" y="678.2" width="22.7" height="1.8" fill="#8db34a"/><rect x="626.9" y="679.7" width="22.7" height="4.3" fill="#86ba49"/><rect x="626.9" y="683.7" width="22.7" height="2.8" fill="#91af4b"/><rect x="626.9" y="686.2" width="22.7" height="4.3" fill="#9f9e4d"/><rect x="626.9" y="690.2" width="22.7" height="2.8" fill="#95aa4b"/><rect x="626.9" y="692.7" width="22.7" height="3.3" fill="#94ac4b"/><rect x="626.9" y="695.7" width="22.7" height="4.3" fill="#94ab4b"/><rect x="626.9" y="699.7" width="22.7" height="2.3" fill="#96aa4c"/><rect x="626.9" y="701.7" width="22.7" height="3.8" fill="#8db34a"/><rect x="626.9" y="705.2" width="22.7" height="1.8" fill="#82be49"/><rect x="626.9" y="706.7" width="22.7" height="2.1" fill="#96a84c"/><rect x="649.3" y="421.2" width="22.1" height="3.3" fill="#af8c4d"/><rect x="649.3" y="424.2" width="22.1" height="3.3" fill="#b4874d"/><rect x="649.3" y="427.2" width="22.1" height="1.8" fill="#ab904e"/><rect x="649.3" y="428.7" width="22.1" height="2.3" fill="#b5864d"/><rect x="649.3" y="430.7" width="22.1" height="3.3" fill="#b7844c"/><rect x="649.3" y="433.7" width="22.1" height="3.3" fill="#b2894d"/><rect x="649.3" y="436.7" width="22.1" height="3.8" fill="#d66b48"/><rect x="649.3" y="440.2" width="22.1" height="2.8" fill="#da6947"/><rect x="649.3" y="442.7" width="22.1" height="2.3" fill="#da6947"/><rect x="649.3" y="444.7" width="22.1" height="3.3" fill="#e75e47"/><rect x="649.3" y="447.7" width="22.1" height="3.8" fill="#d16f49"/><rect x="649.3" y="451.2" width="22.1" height="2.8" fill="#dc6747"/><rect x="649.3" y="453.7" width="22.1" height="4.3" fill="#de6646"/><rect x="649.3" y="457.7" width="22.1" height="3.3" fill="#c8754a"/><rect x="649.3" y="460.7" width="22.1" height="2.8" fill="#65db4a"/><rect x="649.3" y="463.2" width="22.1" height="4.3" fill="#73cd47"/><rect x="649.3" y="467.2" width="22.1" height="3.3" fill="#66da49"/><rect x="649.3" y="470.2" width="22.1" height="2.3" fill="#5be54e"/><rect x="649.3" y="472.2" width="22.1" height="2.3" fill="#59e74f"/><rect x="649.3" y="474.2" width="22.1" height="1.8" fill="#55eb50"/><rect x="649.3" y="475.7" width="22.1" height="2.3" fill="#55eb50"/><rect x="649.3" y="477.7" width="22.1" height="2.3" fill="#5ae64e"/><rect x="649.3" y="479.7" width="22.1" height="2.3" fill="#65db4a"/><rect x="649.3" y="481.7" width="22.1" height="4.3" fill="#57e94f"/><rect x="649.3" y="485.7" width="22.1" height="2.3" fill="#67d949"/><rect x="649.3" y="487.7" width="22.1" height="1.8" fill="#55eb50"/><rect x="649.3" y="489.2" width="22.1" height="3.3" fill="#6ad647"/><rect x="649.3" y="492.2" width="22.1" height="3.8" fill="#77c947"/><rect x="649.3" y="495.7" width="22.1" height="2.3" fill="#7dc348"/><rect x="649.3" y="497.7" width="22.1" height="2.8" fill="#66da49"/><rect x="649.3" y="500.2" width="22.1" height="2.8" fill="#6dd346"/><rect x="649.3" y="502.7" width="22.1" height="1.8" fill="#6ed246"/><rect x="649.3" y="504.2" width="22.1" height="2.3" fill="#68d848"/><rect x="649.3" y="506.2" width="22.1" height="3.3" fill="#6cd447"/><rect x="649.3" y="509.2" width="22.1" height="3.8" fill="#6bd547"/><rect x="649.3" y="512.7" width="22.1" height="2.8" fill="#6ed246"/><rect x="649.3" y="515.2" width="22.1" height="3.8" fill="#65db4a"/><rect x="649.3" y="518.7" width="22.1" height="3.8" fill="#60e04b"/><rect x="649.3" y="522.2" width="22.1" height="2.8" fill="#6ed246"/><rect x="649.3" y="524.7" width="22.1" height="2.3" fill="#57e94f"/><rect x="649.3" y="526.7" width="22.1" height="4.3" fill="#58e84f"/><rect x="649.3" y="530.7" width="22.1" height="3.8" fill="#55eb50"/><rect x="649.3" y="534.2" width="22.1" height="3.8" fill="#63dd4b"/><rect x="649.3" y="537.7" width="22.1" height="4.3" fill="#65db4a"/><rect x="649.3" y="541.7" width="22.1" height="4.3" fill="#5ee24c"/><rect x="649.3" y="545.7" width="22.1" height="4.3" fill="#59e74f"/><rect x="649.3" y="549.7" width="22.1" height="1.8" fill="#6fd146"/><rect x="649.3" y="551.2" width="22.1" height="3.3" fill="#66da49"/><rect x="649.3" y="554.2" width="22.1" height="4.3" fill="#55eb50"/><rect x="649.3" y="558.2" width="22.1" height="3.8" fill="#69d748"/><rect x="649.3" y="561.7" width="22.1" height="3.3" fill="#6ad648"/><rect x="649.3" y="564.7" width="22.1" height="3.3" fill="#64dc4a"/><rect x="649.3" y="567.7" width="22.1" height="3.3" fill="#60e04c"/><rect x="649.3" y="570.7" width="22.1" height="3.3" fill="#7ec248"/><rect x="649.3" y="573.7" width="22.1" height="1.8" fill="#74cc47"/><rect x="649.3" y="575.2" width="22.1" height="3.3" fill="#7ec248"/><rect x="649.3" y="578.2" width="22.1" height="4.3" fill="#71cf46"/><rect x="649.3" y="582.2" width="22.1" height="3.3" fill="#88b84a"/><rect x="649.3" y="585.2" width="22.1" height="1.8" fill="#86ba49"/><rect x="649.3" y="586.7" width="22.1" height="2.3" fill="#7ac648"/><rect x="649.3" y="588.7" width="22.1" height="1.8" fill="#76ca47"/><rect x="649.3" y="590.2" width="22.1" height="2.3" fill="#79c748"/><rect x="649.3" y="592.2" width="22.1" height="3.3" fill="#70d046"/><rect x="649.3" y="595.2" width="22.1" height="2.3" fill="#85bb49"/><rect x="649.3" y="597.2" width="22.1" height="1.8" fill="#74cc47"/><rect x="649.3" y="598.7" width="22.1" height="2.8" fill="#78c847"/><rect x="649.3" y="601.2" width="22.1" height="3.8" fill="#8bb54a"/><rect x="649.3" y="604.7" width="22.1" height="1.8" fill="#5ce44d"/><rect x="649.3" y="606.2" width="22.1" height="1.8" fill="#60e04c"/><rect x="649.3" y="607.7" width="22.1" height="1.8" fill="#5ce44d"/><rect x="649.3" y="609.2" width="22.1" height="3.8" fill="#5de34d"/><rect x="649.3" y="612.7" width="22.1" height="2.3" fill="#5fe14c"/><rect x="649.3" y="614.7" width="22.1" height="3.8" fill="#5ee24c"/><rect x="649.3" y="618.2" width="22.1" height="1.8" fill="#57e94f"/><rect x="649.3" y="619.7" width="22.1" height="2.8" fill="#62de4b"/><rect x="649.3" y="622.2" width="22.1" height="3.8" fill="#62de4b"/><rect x="649.3" y="625.7" width="22.1" height="1.8" fill="#7ac648"/><rect x="649.3" y="627.2" width="22.1" height="1.8" fill="#64dc4a"/><rect x="649.3" y="628.7" width="22.1" height="2.3" fill="#6bd547"/><rect x="649.3" y="630.7" width="22.1" height="3.8" fill="#6fd146"/><rect x="649.3" y="634.2" width="22.1" height="3.3" fill="#75cb47"/><rect x="649.3" y="637.2" width="22.1" height="2.3" fill="#67d949"/><rect x="649.3" y="639.2" width="22.1" height="4.3" fill="#6ad648"/><rect x="649.3" y="643.2" width="22.1" height="2.8" fill="#68d848"/><rect x="649.3" y="645.7" width="22.1" height="2.8" fill="#79c748"/><rect x="649.3" y="648.2" width="22.1" height="3.8" fill="#6fd146"/><rect x="649.3" y="651.7" width="22.1" height="2.8" fill="#68d848"/><rect x="649.3" y="654.2" width="22.1" height="3.3" fill="#6cd447"/><rect x="649.3" y="657.2" width="22.1" height="1.8" fill="#77c947"/><rect x="649.3" y="658.7" width="22.1" height="1.8" fill="#67d949"/><rect x="649.3" y="660.2" width="22.1" height="3.3" fill="#6cd447"/><rect x="649.3" y="663.2" width="22.1" height="3.3" fill="#68d848"/><rect x="649.3" y="666.2" width="22.1" height="3.3" fill="#6cd447"/><rect x="649.3" y="669.2" width="22.1" height="3.3" fill="#69d748"/><rect x="649.3" y="672.2" width="22.1" height="2.8" fill="#71cf46"/><rect x="649.3" y="674.7" width="22.1" height="1.8" fill="#65db4a"/><rect x="649.3" y="676.2" width="22.1" height="2.3" fill="#66da49"/><rect x="649.3" y="678.2" width="22.1" height="1.8" fill="#75cb47"/><rect x="649.3" y="679.7" width="22.1" height="4.3" fill="#71cf46"/><rect x="649.3" y="683.7" width="22.1" height="2.8" fill="#68d848"/><rect x="649.3" y="686.2" width="22.1" height="4.3" fill="#72ce47"/><rect x="649.3" y="690.2" width="22.1" height="2.8" fill="#73cd47"/><rect x="649.3" y="692.7" width="22.1" height="3.3" fill="#6bd547"/><rect x="649.3" y="695.7" width="22.1" height="4.3" fill="#6ed246"/><rect x="649.3" y="699.7" width="22.1" height="2.3" fill="#6cd447"/><rect x="649.3" y="701.7" width="22.1" height="3.8" fill="#6dd346"/><rect x="649.3" y="705.2" width="22.1" height="1.8" fill="#6dd347"/><rect x="649.3" y="706.7" width="22.1" height="2.1" fill="#72ce47"/><rect x="671.1" y="421.2" width="22.3" height="3.3" fill="#e36246"/><rect x="671.1" y="424.2" width="22.3" height="3.3" fill="#ed5848"/><rect x="671.1" y="427.2" width="22.3" height="1.8" fill="#e46146"/><rect x="671.1" y="428.7" width="22.3" height="2.3" fill="#eb5a47"/><rect x="671.1" y="430.7" width="22.3" height="3.3" fill="#e75e47"/><rect x="671.1" y="433.7" width="22.3" height="3.3" fill="#d36d48"/><rect x="671.1" y="436.7" width="22.3" height="3.8" fill="#d36e48"/><rect x="671.1" y="440.2" width="22.3" height="2.8" fill="#cc7249"/><rect x="671.1" y="442.7" width="22.3" height="2.3" fill="#db6847"/><rect x="671.1" y="444.7" width="22.3" height="3.3" fill="#cd7149"/><rect x="671.1" y="447.7" width="22.3" height="3.8" fill="#c6764b"/><rect x="671.1" y="451.2" width="22.3" height="2.8" fill="#ca744a"/><rect x="671.1" y="453.7" width="22.3" height="4.3" fill="#b6854d"/><rect x="671.1" y="457.7" width="22.3" height="3.3" fill="#cf7049"/><rect x="671.1" y="460.7" width="22.3" height="2.8" fill="#79c748"/><rect x="671.1" y="463.2" width="22.3" height="4.3" fill="#76ca47"/><rect x="671.1" y="467.2" width="22.3" height="3.3" fill="#64dc4a"/><rect x="671.1" y="470.2" width="22.3" height="2.3" fill="#6ed246"/><rect x="671.1" y="472.2" width="22.3" height="2.3" fill="#6fd146"/><rect x="671.1" y="474.2" width="22.3" height="1.8" fill="#65db4a"/><rect x="671.1" y="475.7" width="22.3" height="2.3" fill="#60e04b"/><rect x="671.1" y="477.7" width="22.3" height="2.3" fill="#6ad647"/><rect x="671.1" y="479.7" width="22.3" height="2.3" fill="#73cd47"/><rect x="671.1" y="481.7" width="22.3" height="4.3" fill="#6ad648"/><rect x="671.1" y="485.7" width="22.3" height="2.3" fill="#72ce47"/><rect x="671.1" y="487.7" width="22.3" height="1.8" fill="#62de4b"/><rect x="671.1" y="489.2" width="22.3" height="3.3" fill="#66da49"/><rect x="671.1" y="492.2" width="22.3" height="3.8" fill="#66da49"/><rect x="671.1" y="495.7" width="22.3" height="2.3" fill="#6ad648"/><rect x="671.1" y="497.7" width="22.3" height="2.8" fill="#6dd346"/><rect x="671.1" y="500.2" width="22.3" height="2.8" fill="#6dd347"/><rect x="671.1" y="502.7" width="22.3" height="1.8" fill="#6dd346"/><rect x="671.1" y="504.2" width="22.3" height="2.3" fill="#6bd547"/><rect x="671.1" y="506.2" width="22.3" height="3.3" fill="#66da49"/><rect x="671.1" y="509.2" width="22.3" height="3.8" fill="#6cd447"/><rect x="671.1" y="512.7" width="22.3" height="2.8" fill="#6dd346"/><rect x="671.1" y="515.2" width="22.3" height="3.8" fill="#75cb47"/><rect x="671.1" y="518.7" width="22.3" height="3.8" fill="#5fe14c"/><rect x="671.1" y="522.2" width="22.3" height="2.8" fill="#68d848"/><rect x="671.1" y="524.7" width="22.3" height="2.3" fill="#66da49"/><rect x="671.1" y="526.7" width="22.3" height="4.3" fill="#6bd547"/><rect x="671.1" y="530.7" width="22.3" height="3.8" fill="#72ce47"/><rect x="671.1" y="534.2" width="22.3" height="3.8" fill="#67d949"/><rect x="671.1" y="537.7" width="22.3" height="4.3" fill="#6cd447"/><rect x="671.1" y="541.7" width="22.3" height="4.3" fill="#69d748"/><rect x="671.1" y="545.7" width="22.3" height="4.3" fill="#71cf46"/><rect x="671.1" y="549.7" width="22.3" height="1.8" fill="#8bb54a"/><rect x="671.1" y="551.2" width="22.3" height="3.3" fill="#6ad648"/><rect x="671.1" y="554.2" width="22.3" height="4.3" fill="#69d748"/><rect x="671.1" y="558.2" width="22.3" height="3.8" fill="#6cd447"/><rect x="671.1" y="561.7" width="22.3" height="3.3" fill="#77c947"/><rect x="671.1" y="564.7" width="22.3" height="3.3" fill="#6dd347"/><rect x="671.1" y="567.7" width="22.3" height="3.3" fill="#6ed246"/><rect x="671.1" y="570.7" width="22.3" height="3.3" fill="#7dc348"/><rect x="671.1" y="573.7" width="22.3" height="1.8" fill="#74cc47"/><rect x="671.1" y="575.2" width="22.3" height="3.3" fill="#85bb49"/><rect x="671.1" y="578.2" width="22.3" height="4.3" fill="#76ca47"/><rect x="671.1" y="582.2" width="22.3" height="3.3" fill="#7dc348"/><rect x="671.1" y="585.2" width="22.3" height="1.8" fill="#7cc448"/><rect x="671.1" y="586.7" width="22.3" height="2.3" fill="#7dc348"/><rect x="671.1" y="588.7" width="22.3" height="1.8" fill="#7dc348"/><rect x="671.1" y="590.2" width="22.3" height="2.3" fill="#82be49"/><rect x="671.1" y="592.2" width="22.3" height="3.3" fill="#7ac648"/><rect x="671.1" y="595.2" width="22.3" height="2.3" fill="#7fc148"/><rect x="671.1" y="597.2" width="22.3" height="1.8" fill="#86ba49"/><rect x="671.1" y="598.7" width="22.3" height="2.8" fill="#7ec248"/><rect x="671.1" y="601.2" width="22.3" height="3.8" fill="#7fc148"/><rect x="671.1" y="604.7" width="22.3" height="1.8" fill="#8cb44a"/><rect x="671.1" y="606.2" width="22.3" height="1.8" fill="#6cd447"/><rect x="671.1" y="607.7" width="22.3" height="1.8" fill="#7ac648"/><rect x="671.1" y="609.2" width="22.3" height="3.8" fill="#73cd47"/><rect x="671.1" y="612.7" width="22.3" height="2.3" fill="#6ed246"/><rect x="671.1" y="614.7" width="22.3" height="3.8" fill="#85bb49"/><rect x="671.1" y="618.2" width="22.3" height="1.8" fill="#75cb47"/><rect x="671.1" y="619.7" width="22.3" height="2.8" fill="#6ed246"/><rect x="671.1" y="622.2" width="22.3" height="3.8" fill="#99a54c"/><rect x="671.1" y="625.7" width="22.3" height="1.8" fill="#87b94a"/><rect x="671.1" y="627.2" width="22.3" height="1.8" fill="#8bb54a"/><rect x="671.1" y="628.7" width="22.3" height="2.3" fill="#7bc548"/><rect x="671.1" y="630.7" width="22.3" height="3.8" fill="#7ac648"/><rect x="671.1" y="634.2" width="22.3" height="3.3" fill="#89b74a"/><rect x="671.1" y="637.2" width="22.3" height="2.3" fill="#6bd547"/><rect x="671.1" y="639.2" width="22.3" height="4.3" fill="#71cf46"/><rect x="671.1" y="643.2" width="22.3" height="2.8" fill="#70d046"/><rect x="671.1" y="645.7" width="22.3" height="2.8" fill="#7fc148"/><rect x="671.1" y="648.2" width="22.3" height="3.8" fill="#77c947"/><rect x="671.1" y="651.7" width="22.3" height="2.8" fill="#55eb50"/><rect x="671.1" y="654.2" width="22.3" height="3.3" fill="#58e84f"/><rect x="671.1" y="657.2" width="22.3" height="1.8" fill="#60e04c"/><rect x="671.1" y="658.7" width="22.3" height="1.8" fill="#55eb50"/><rect x="671.1" y="660.2" width="22.3" height="3.3" fill="#5ee24c"/><rect x="671.1" y="663.2" width="22.3" height="3.3" fill="#55eb50"/><rect x="671.1" y="666.2" width="22.3" height="3.3" fill="#80c049"/><rect x="671.1" y="669.2" width="22.3" height="3.3" fill="#6bd547"/><rect x="671.1" y="672.2" width="22.3" height="2.8" fill="#70d046"/><rect x="671.1" y="674.7" width="22.3" height="1.8" fill="#6cd447"/><rect x="671.1" y="676.2" width="22.3" height="2.3" fill="#79c748"/><rect x="671.1" y="678.2" width="22.3" height="1.8" fill="#74cc47"/><rect x="671.1" y="679.7" width="22.3" height="4.3" fill="#70d046"/><rect x="671.1" y="683.7" width="22.3" height="2.8" fill="#77c947"/><rect x="671.1" y="686.2" width="22.3" height="4.3" fill="#7ac648"/><rect x="671.1" y="690.2" width="22.3" height="2.8" fill="#6ad648"/><rect x="671.1" y="692.7" width="22.3" height="3.3" fill="#6ad647"/><rect x="671.1" y="695.7" width="22.3" height="4.3" fill="#6ad648"/><rect x="671.1" y="699.7" width="22.3" height="2.3" fill="#6ed246"/><rect x="671.1" y="701.7" width="22.3" height="3.8" fill="#6ad648"/><rect x="671.1" y="705.2" width="22.3" height="1.8" fill="#87b94a"/><rect x="671.1" y="706.7" width="22.3" height="2.1" fill="#73cd47"/><rect x="693.1" y="421.2" width="22.2" height="3.3" fill="#78c847"/><rect x="693.1" y="424.2" width="22.2" height="3.3" fill="#6cd447"/><rect x="693.1" y="427.2" width="22.2" height="1.8" fill="#6ad647"/><rect x="693.1" y="428.7" width="22.2" height="2.3" fill="#74cc47"/><rect x="693.1" y="430.7" width="22.2" height="3.3" fill="#88b84a"/><rect x="693.1" y="433.7" width="22.2" height="3.3" fill="#7fc148"/><rect x="693.1" y="436.7" width="22.2" height="3.8" fill="#78c847"/><rect x="693.1" y="440.2" width="22.2" height="2.8" fill="#7cc448"/><rect x="693.1" y="442.7" width="22.2" height="2.3" fill="#76ca47"/><rect x="693.1" y="444.7" width="22.2" height="3.3" fill="#8ab64a"/><rect x="693.1" y="447.7" width="22.2" height="3.8" fill="#5ee24c"/><rect x="693.1" y="451.2" width="22.2" height="2.8" fill="#66da49"/><rect x="693.1" y="453.7" width="22.2" height="4.3" fill="#63dd4a"/><rect x="693.1" y="457.7" width="22.2" height="3.3" fill="#5ae64e"/><rect x="693.1" y="460.7" width="22.2" height="2.8" fill="#db6847"/><rect x="693.1" y="463.2" width="22.2" height="4.3" fill="#e65f47"/><rect x="693.1" y="467.2" width="22.2" height="3.3" fill="#dd6747"/><rect x="693.1" y="470.2" width="22.2" height="2.3" fill="#d46c48"/><rect x="693.1" y="472.2" width="22.2" height="2.3" fill="#d96947"/><rect x="693.1" y="474.2" width="22.2" height="1.8" fill="#da6947"/><rect x="693.1" y="475.7" width="22.2" height="2.3" fill="#e46146"/><rect x="693.1" y="477.7" width="22.2" height="2.3" fill="#e36246"/><rect x="693.1" y="479.7" width="22.2" height="2.3" fill="#e26346"/><rect x="693.1" y="481.7" width="22.2" height="4.3" fill="#ea5b47"/><rect x="693.1" y="485.7" width="22.2" height="2.3" fill="#df6546"/><rect x="693.1" y="487.7" width="22.2" height="1.8" fill="#e85d47"/><rect x="693.1" y="489.2" width="22.2" height="3.3" fill="#e46146"/><rect x="693.1" y="492.2" width="22.2" height="3.8" fill="#e26346"/><rect x="693.1" y="495.7" width="22.2" height="2.3" fill="#e16446"/><rect x="693.1" y="497.7" width="22.2" height="2.8" fill="#e95c47"/><rect x="693.1" y="500.2" width="22.2" height="2.8" fill="#de6646"/><rect x="693.1" y="502.7" width="22.2" height="1.8" fill="#d66b48"/><rect x="693.1" y="504.2" width="22.2" height="2.3" fill="#e06446"/><rect x="693.1" y="506.2" width="22.2" height="3.3" fill="#e85d47"/><rect x="693.1" y="509.2" width="22.2" height="3.8" fill="#d96947"/><rect x="693.1" y="512.7" width="22.2" height="2.8" fill="#e36246"/><rect x="693.1" y="515.2" width="22.2" height="3.8" fill="#e95c47"/><rect x="693.1" y="518.7" width="22.2" height="3.8" fill="#e95c47"/><rect x="693.1" y="522.2" width="22.2" height="2.8" fill="#e65f47"/><rect x="693.1" y="524.7" width="22.2" height="2.3" fill="#ee5748"/><rect x="693.1" y="526.7" width="22.2" height="4.3" fill="#e36246"/><rect x="693.1" y="530.7" width="22.2" height="3.8" fill="#e26346"/><rect x="693.1" y="534.2" width="22.2" height="3.8" fill="#d26e48"/><rect x="693.1" y="537.7" width="22.2" height="4.3" fill="#e46146"/><rect x="693.1" y="541.7" width="22.2" height="4.3" fill="#e75e47"/><rect x="693.1" y="545.7" width="22.2" height="4.3" fill="#e16446"/><rect x="693.1" y="549.7" width="22.2" height="1.8" fill="#e26346"/><rect x="693.1" y="551.2" width="22.2" height="3.3" fill="#e56047"/><rect x="693.1" y="554.2" width="22.2" height="4.3" fill="#e56047"/><rect x="693.1" y="558.2" width="22.2" height="3.8" fill="#e16446"/><rect x="693.1" y="561.7" width="22.2" height="3.3" fill="#df6646"/><rect x="693.1" y="564.7" width="22.2" height="3.3" fill="#e16446"/><rect x="693.1" y="567.7" width="22.2" height="3.3" fill="#cc7249"/><rect x="693.1" y="570.7" width="22.2" height="3.3" fill="#eb5a47"/><rect x="693.1" y="573.7" width="22.2" height="1.8" fill="#f05548"/><rect x="693.1" y="575.2" width="22.2" height="3.3" fill="#f05548"/><rect x="693.1" y="578.2" width="22.2" height="4.3" fill="#e36246"/><rect x="693.1" y="582.2" width="22.2" height="3.3" fill="#ec5947"/><rect x="693.1" y="585.2" width="22.2" height="1.8" fill="#ec5947"/><rect x="693.1" y="586.7" width="22.2" height="2.3" fill="#ea5b47"/><rect x="693.1" y="588.7" width="22.2" height="1.8" fill="#f05548"/><rect x="693.1" y="590.2" width="22.2" height="2.3" fill="#ea5b47"/><rect x="693.1" y="592.2" width="22.2" height="3.3" fill="#ed5848"/><rect x="693.1" y="595.2" width="22.2" height="2.3" fill="#e56047"/><rect x="693.1" y="597.2" width="22.2" height="1.8" fill="#df6546"/><rect x="693.1" y="598.7" width="22.2" height="2.8" fill="#e65f47"/><rect x="693.1" y="601.2" width="22.2" height="3.8" fill="#e46146"/><rect x="693.1" y="604.7" width="22.2" height="1.8" fill="#e85d47"/><rect x="693.1" y="606.2" width="22.2" height="1.8" fill="#e36246"/><rect x="693.1" y="607.7" width="22.2" height="1.8" fill="#e95c47"/><rect x="693.1" y="609.2" width="22.2" height="3.8" fill="#e56047"/><rect x="693.1" y="612.7" width="22.2" height="2.3" fill="#e56047"/><rect x="693.1" y="614.7" width="22.2" height="3.8" fill="#e56047"/><rect x="693.1" y="618.2" width="22.2" height="1.8" fill="#d86a48"/><rect x="693.1" y="619.7" width="22.2" height="2.8" fill="#ed5848"/><rect x="693.1" y="622.2" width="22.2" height="3.8" fill="#ed5848"/><rect x="693.1" y="625.7" width="22.2" height="1.8" fill="#e36246"/><rect x="693.1" y="627.2" width="22.2" height="1.8" fill="#d66b48"/><rect x="693.1" y="628.7" width="22.2" height="2.3" fill="#e46146"/><rect x="693.1" y="630.7" width="22.2" height="3.8" fill="#ea5b47"/><rect x="693.1" y="634.2" width="22.2" height="3.3" fill="#cf7049"/><rect x="693.1" y="637.2" width="22.2" height="2.3" fill="#f05548"/><rect x="693.1" y="639.2" width="22.2" height="4.3" fill="#e46146"/><rect x="693.1" y="643.2" width="22.2" height="2.8" fill="#e56047"/><rect x="693.1" y="645.7" width="22.2" height="2.8" fill="#e46146"/><rect x="693.1" y="648.2" width="22.2" height="3.8" fill="#e95c47"/><rect x="693.1" y="651.7" width="22.2" height="2.8" fill="#ea5b47"/><rect x="693.1" y="654.2" width="22.2" height="3.3" fill="#e85d47"/><rect x="693.1" y="657.2" width="22.2" height="1.8" fill="#e95c47"/><rect x="693.1" y="658.7" width="22.2" height="1.8" fill="#e46146"/><rect x="693.1" y="660.2" width="22.2" height="3.3" fill="#eb5a47"/><rect x="693.1" y="663.2" width="22.2" height="3.3" fill="#e65f47"/><rect x="693.1" y="666.2" width="22.2" height="3.3" fill="#e75e47"/><rect x="693.1" y="669.2" width="22.2" height="3.3" fill="#ed5848"/><rect x="693.1" y="672.2" width="22.2" height="2.8" fill="#e95c47"/><rect x="693.1" y="674.7" width="22.2" height="1.8" fill="#ec5947"/><rect x="693.1" y="676.2" width="22.2" height="2.3" fill="#f05548"/><rect x="693.1" y="678.2" width="22.2" height="1.8" fill="#e56047"/><rect x="693.1" y="679.7" width="22.2" height="4.3" fill="#ea5b47"/><rect x="693.1" y="683.7" width="22.2" height="2.8" fill="#e16446"/><rect x="693.1" y="686.2" width="22.2" height="4.3" fill="#f05548"/><rect x="693.1" y="690.2" width="22.2" height="2.8" fill="#e26346"/><rect x="693.1" y="692.7" width="22.2" height="3.3" fill="#e06546"/><rect x="693.1" y="695.7" width="22.2" height="4.3" fill="#e56047"/><rect x="693.1" y="699.7" width="22.2" height="2.3" fill="#ef5648"/><rect x="693.1" y="701.7" width="22.2" height="3.8" fill="#ea5b47"/><rect x="693.1" y="705.2" width="22.2" height="1.8" fill="#df6546"/><rect x="693.1" y="706.7" width="22.2" height="2.1" fill="#ea5b47"/><rect x="715" y="421.2" width="22" height="3.3" fill="#72ce47"/><rect x="715" y="424.2" width="22" height="3.3" fill="#71cf46"/><rect x="715" y="427.2" width="22" height="1.8" fill="#90b04b"/><rect x="715" y="428.7" width="22" height="2.3" fill="#80c049"/><rect x="715" y="430.7" width="22" height="3.3" fill="#81bf49"/><rect x="715" y="433.7" width="22" height="3.3" fill="#81bf49"/><rect x="715" y="436.7" width="22" height="3.8" fill="#73cd47"/><rect x="715" y="440.2" width="22" height="2.8" fill="#80c049"/><rect x="715" y="442.7" width="22" height="2.3" fill="#76ca47"/><rect x="715" y="444.7" width="22" height="3.3" fill="#61df4b"/><rect x="715" y="447.7" width="22" height="3.8" fill="#77c947"/><rect x="715" y="451.2" width="22" height="2.8" fill="#88b84a"/><rect x="715" y="453.7" width="22" height="4.3" fill="#74cc47"/><rect x="715" y="457.7" width="22" height="3.3" fill="#85bb49"/><rect x="715" y="460.7" width="22" height="2.8" fill="#b4874d"/><rect x="715" y="463.2" width="22" height="4.3" fill="#bc7f4c"/><rect x="715" y="467.2" width="22" height="3.3" fill="#bc7f4c"/><rect x="715" y="470.2" width="22" height="2.3" fill="#be7d4c"/><rect x="715" y="472.2" width="22" height="2.3" fill="#c2794b"/><rect x="715" y="474.2" width="22" height="1.8" fill="#b3884d"/><rect x="715" y="475.7" width="22" height="2.3" fill="#bc7f4c"/><rect x="715" y="477.7" width="22" height="2.3" fill="#cc7249"/><rect x="715" y="479.7" width="22" height="2.3" fill="#c3784b"/><rect x="715" y="481.7" width="22" height="4.3" fill="#b8834c"/><rect x="715" y="485.7" width="22" height="2.3" fill="#bc7f4c"/><rect x="715" y="487.7" width="22" height="1.8" fill="#bd7e4c"/><rect x="715" y="489.2" width="22" height="3.3" fill="#c07b4b"/><rect x="715" y="492.2" width="22" height="3.8" fill="#bd7e4c"/><rect x="715" y="495.7" width="22" height="2.3" fill="#be7d4c"/><rect x="715" y="497.7" width="22" height="2.8" fill="#bc7f4c"/><rect x="715" y="500.2" width="22" height="2.8" fill="#b8834c"/><rect x="715" y="502.7" width="22" height="1.8" fill="#c5774b"/><rect x="715" y="504.2" width="22" height="2.3" fill="#c4774b"/><rect x="715" y="506.2" width="22" height="3.3" fill="#af8c4d"/><rect x="715" y="509.2" width="22" height="3.8" fill="#b08b4d"/><rect x="715" y="512.7" width="22" height="2.8" fill="#be7d4c"/><rect x="715" y="515.2" width="22" height="3.8" fill="#b08b4d"/><rect x="715" y="518.7" width="22" height="3.8" fill="#b7844c"/><rect x="715" y="522.2" width="22" height="2.8" fill="#b7844c"/><rect x="715" y="524.7" width="22" height="2.3" fill="#bb804c"/><rect x="715" y="526.7" width="22" height="4.3" fill="#b4874d"/><rect x="715" y="530.7" width="22" height="3.8" fill="#d16f49"/><rect x="715" y="534.2" width="22" height="3.8" fill="#c07b4b"/><rect x="715" y="537.7" width="22" height="4.3" fill="#c07b4b"/><rect x="715" y="541.7" width="22" height="4.3" fill="#ac8f4e"/><rect x="715" y="545.7" width="22" height="4.3" fill="#ab904e"/><rect x="715" y="549.7" width="22" height="1.8" fill="#ba814c"/><rect x="715" y="551.2" width="22" height="3.3" fill="#c07b4b"/><rect x="715" y="554.2" width="22" height="4.3" fill="#b9824c"/><rect x="715" y="558.2" width="22" height="3.8" fill="#c2794b"/><rect x="715" y="561.7" width="22" height="3.3" fill="#a29b4d"/><rect x="715" y="564.7" width="22" height="3.3" fill="#c07b4b"/><rect x="715" y="567.7" width="22" height="3.3" fill="#c3784b"/><rect x="715" y="570.7" width="22" height="3.3" fill="#89b74a"/><rect x="715" y="573.7" width="22" height="1.8" fill="#9ea04d"/><rect x="715" y="575.2" width="22" height="3.3" fill="#9ba34c"/><rect x="715" y="578.2" width="22" height="4.3" fill="#95aa4b"/><rect x="715" y="582.2" width="22" height="3.3" fill="#84bc49"/><rect x="715" y="585.2" width="22" height="1.8" fill="#8db34a"/><rect x="715" y="586.7" width="22" height="2.3" fill="#9da04c"/><rect x="715" y="588.7" width="22" height="1.8" fill="#a6964e"/><rect x="715" y="590.2" width="22" height="2.3" fill="#9ba34c"/><rect x="715" y="592.2" width="22" height="3.3" fill="#ad8e4e"/><rect x="715" y="595.2" width="22" height="2.3" fill="#92ae4b"/><rect x="715" y="597.2" width="22" height="1.8" fill="#ad8e4e"/><rect x="715" y="598.7" width="22" height="2.8" fill="#84bc49"/><rect x="715" y="601.2" width="22" height="3.8" fill="#9ba34c"/><rect x="715" y="604.7" width="22" height="1.8" fill="#a09d4d"/><rect x="715" y="606.2" width="22" height="1.8" fill="#a39a4d"/><rect x="715" y="607.7" width="22" height="1.8" fill="#a6964e"/><rect x="715" y="609.2" width="22" height="3.8" fill="#a29b4d"/><rect x="715" y="612.7" width="22" height="2.3" fill="#95ab4b"/><rect x="715" y="614.7" width="22" height="3.8" fill="#aa914e"/><rect x="715" y="618.2" width="22" height="1.8" fill="#9da14c"/><rect x="715" y="619.7" width="22" height="2.8" fill="#ad8e4e"/><rect x="715" y="622.2" width="22" height="3.8" fill="#a09d4d"/><rect x="715" y="625.7" width="22" height="1.8" fill="#aa924e"/><rect x="715" y="627.2" width="22" height="1.8" fill="#ab904e"/><rect x="715" y="628.7" width="22" height="2.3" fill="#ad8e4e"/><rect x="715" y="630.7" width="22" height="3.8" fill="#a5974d"/><rect x="715" y="634.2" width="22" height="3.3" fill="#b8834c"/><rect x="715" y="637.2" width="22" height="2.3" fill="#a5974d"/><rect x="715" y="639.2" width="22" height="4.3" fill="#aa914e"/><rect x="715" y="643.2" width="22" height="2.8" fill="#b18a4d"/><rect x="715" y="645.7" width="22" height="2.8" fill="#ac8f4e"/><rect x="715" y="648.2" width="22" height="3.8" fill="#b9824c"/><rect x="715" y="651.7" width="22" height="2.8" fill="#ab904e"/><rect x="715" y="654.2" width="22" height="3.3" fill="#a7944e"/><rect x="715" y="657.2" width="22" height="1.8" fill="#b6854d"/><rect x="715" y="658.7" width="22" height="1.8" fill="#b18a4d"/><rect x="715" y="660.2" width="22" height="3.3" fill="#a3994d"/><rect x="715" y="663.2" width="22" height="3.3" fill="#a7954e"/><rect x="715" y="666.2" width="22" height="3.3" fill="#ae8d4e"/><rect x="715" y="669.2" width="22" height="3.3" fill="#b8834c"/><rect x="715" y="672.2" width="22" height="2.8" fill="#b4874d"/><rect x="715" y="674.7" width="22" height="1.8" fill="#ad8e4e"/><rect x="715" y="676.2" width="22" height="2.3" fill="#92ae4b"/><rect x="715" y="678.2" width="22" height="1.8" fill="#b2894d"/><rect x="715" y="679.7" width="22" height="4.3" fill="#9e9f4d"/><rect x="715" y="683.7" width="22" height="2.8" fill="#9ba44c"/><rect x="715" y="686.2" width="22" height="4.3" fill="#a5984d"/><rect x="715" y="690.2" width="22" height="2.8" fill="#ad8e4e"/><rect x="715" y="692.7" width="22" height="3.3" fill="#ad8e4e"/><rect x="715" y="695.7" width="22" height="4.3" fill="#c3784b"/><rect x="715" y="699.7" width="22" height="2.3" fill="#aa914e"/><rect x="715" y="701.7" width="22" height="3.8" fill="#a3994d"/><rect x="715" y="705.2" width="22" height="1.8" fill="#b7844c"/><rect x="715" y="706.7" width="22" height="2.1" fill="#ae8d4e"/><rect x="736.7" y="421.2" width="19.7" height="3.3" fill="#68d849"/><rect x="736.7" y="424.2" width="19.7" height="3.3" fill="#64dc4a"/><rect x="736.7" y="427.2" width="19.7" height="1.8" fill="#6ad647"/><rect x="736.7" y="428.7" width="19.7" height="2.3" fill="#79c748"/><rect x="736.7" y="430.7" width="19.7" height="3.3" fill="#70d046"/><rect x="736.7" y="433.7" width="19.7" height="3.3" fill="#69d748"/><rect x="736.7" y="436.7" width="19.7" height="3.8" fill="#82be49"/><rect x="736.7" y="440.2" width="19.7" height="2.8" fill="#7ac648"/><rect x="736.7" y="442.7" width="19.7" height="2.3" fill="#6bd547"/><rect x="736.7" y="444.7" width="19.7" height="3.3" fill="#80c049"/><rect x="736.7" y="447.7" width="19.7" height="3.8" fill="#7ec248"/><rect x="736.7" y="451.2" width="19.7" height="2.8" fill="#8bb54a"/><rect x="736.7" y="453.7" width="19.7" height="4.3" fill="#77c947"/><rect x="736.7" y="457.7" width="19.7" height="3.3" fill="#6cd447"/><rect x="736.7" y="460.7" width="19.7" height="2.8" fill="#e26346"/><rect x="736.7" y="463.2" width="19.7" height="4.3" fill="#eb5a47"/><rect x="736.7" y="467.2" width="19.7" height="3.3" fill="#d66b48"/><rect x="736.7" y="470.2" width="19.7" height="2.3" fill="#e75e47"/><rect x="736.7" y="472.2" width="19.7" height="2.3" fill="#de6647"/><rect x="736.7" y="474.2" width="19.7" height="1.8" fill="#e26346"/><rect x="736.7" y="475.7" width="19.7" height="2.3" fill="#bb804c"/><rect x="736.7" y="477.7" width="19.7" height="2.3" fill="#b3884d"/><rect x="736.7" y="479.7" width="19.7" height="2.3" fill="#c5774b"/><rect x="736.7" y="481.7" width="19.7" height="4.3" fill="#b7844c"/><rect x="736.7" y="485.7" width="19.7" height="2.3" fill="#bd7e4c"/><rect x="736.7" y="487.7" width="19.7" height="1.8" fill="#c17a4b"/><rect x="736.7" y="489.2" width="19.7" height="3.3" fill="#af8c4d"/><rect x="736.7" y="492.2" width="19.7" height="3.8" fill="#c17a4b"/><rect x="736.7" y="495.7" width="19.7" height="2.3" fill="#c07b4b"/><rect x="736.7" y="497.7" width="19.7" height="2.8" fill="#b9824c"/><rect x="736.7" y="500.2" width="19.7" height="2.8" fill="#b6854d"/><rect x="736.7" y="502.7" width="19.7" height="1.8" fill="#bf7c4c"/><rect x="736.7" y="504.2" width="19.7" height="2.3" fill="#c07b4b"/><rect x="736.7" y="506.2" width="19.7" height="3.3" fill="#ba814c"/><rect x="736.7" y="509.2" width="19.7" height="3.8" fill="#ba814c"/><rect x="736.7" y="512.7" width="19.7" height="2.8" fill="#b8834c"/><rect x="736.7" y="515.2" width="19.7" height="3.8" fill="#a7954e"/><rect x="736.7" y="518.7" width="19.7" height="3.8" fill="#c3784b"/><rect x="736.7" y="522.2" width="19.7" height="2.8" fill="#c2794b"/><rect x="736.7" y="524.7" width="19.7" height="2.3" fill="#ad8e4e"/><rect x="736.7" y="526.7" width="19.7" height="4.3" fill="#cc724a"/><rect x="736.7" y="530.7" width="19.7" height="3.8" fill="#b6854d"/><rect x="736.7" y="534.2" width="19.7" height="3.8" fill="#b4874d"/><rect x="736.7" y="537.7" width="19.7" height="4.3" fill="#bc7f4c"/><rect x="736.7" y="541.7" width="19.7" height="4.3" fill="#c5774b"/><rect x="736.7" y="545.7" width="19.7" height="4.3" fill="#b18a4d"/><rect x="736.7" y="549.7" width="19.7" height="1.8" fill="#b7844c"/><rect x="736.7" y="551.2" width="19.7" height="3.3" fill="#ad8e4e"/><rect x="736.7" y="554.2" width="19.7" height="4.3" fill="#a29a4d"/><rect x="736.7" y="558.2" width="19.7" height="3.8" fill="#b08b4d"/><rect x="736.7" y="561.7" width="19.7" height="3.3" fill="#a7954e"/><rect x="736.7" y="564.7" width="19.7" height="3.3" fill="#7ec248"/><rect x="736.7" y="567.7" width="19.7" height="3.3" fill="#81bf49"/><rect x="736.7" y="570.7" width="19.7" height="3.3" fill="#78c847"/><rect x="736.7" y="573.7" width="19.7" height="1.8" fill="#6ad648"/><rect x="736.7" y="575.2" width="19.7" height="3.3" fill="#8eb24b"/><rect x="736.7" y="578.2" width="19.7" height="4.3" fill="#8cb44a"/><rect x="736.7" y="582.2" width="19.7" height="3.3" fill="#8cb44a"/><rect x="736.7" y="585.2" width="19.7" height="1.8" fill="#7bc548"/><rect x="736.7" y="586.7" width="19.7" height="2.3" fill="#82be49"/><rect x="736.7" y="588.7" width="19.7" height="1.8" fill="#81bf49"/><rect x="736.7" y="590.2" width="19.7" height="2.3" fill="#69d748"/><rect x="736.7" y="592.2" width="19.7" height="3.3" fill="#75cb47"/><rect x="736.7" y="595.2" width="19.7" height="2.3" fill="#79c748"/><rect x="736.7" y="597.2" width="19.7" height="1.8" fill="#6ed246"/><rect x="736.7" y="598.7" width="19.7" height="2.8" fill="#7ac648"/><rect x="736.7" y="601.2" width="19.7" height="3.8" fill="#bc7f4c"/><rect x="736.7" y="604.7" width="19.7" height="1.8" fill="#b4874d"/><rect x="736.7" y="606.2" width="19.7" height="1.8" fill="#aa924e"/><rect x="736.7" y="607.7" width="19.7" height="1.8" fill="#c5764b"/><rect x="736.7" y="609.2" width="19.7" height="3.8" fill="#c07b4b"/><rect x="736.7" y="612.7" width="19.7" height="2.3" fill="#b8834c"/><rect x="736.7" y="614.7" width="19.7" height="3.8" fill="#bc7f4c"/><rect x="736.7" y="618.2" width="19.7" height="1.8" fill="#a8944e"/><rect x="736.7" y="619.7" width="19.7" height="2.8" fill="#b9824c"/><rect x="736.7" y="622.2" width="19.7" height="3.8" fill="#b7844c"/><rect x="736.7" y="625.7" width="19.7" height="1.8" fill="#ca744a"/><rect x="736.7" y="627.2" width="19.7" height="1.8" fill="#be7d4c"/><rect x="736.7" y="628.7" width="19.7" height="2.3" fill="#b6854d"/><rect x="736.7" y="630.7" width="19.7" height="3.8" fill="#c6764b"/><rect x="736.7" y="634.2" width="19.7" height="3.3" fill="#bd7e4c"/><rect x="736.7" y="637.2" width="19.7" height="2.3" fill="#b2894d"/><rect x="736.7" y="639.2" width="19.7" height="4.3" fill="#ab904e"/><rect x="736.7" y="643.2" width="19.7" height="2.8" fill="#c5774b"/><rect x="736.7" y="645.7" width="19.7" height="2.8" fill="#a9934e"/><rect x="736.7" y="648.2" width="19.7" height="3.8" fill="#a9924e"/><rect x="736.7" y="651.7" width="19.7" height="2.8" fill="#ad8e4e"/><rect x="736.7" y="654.2" width="19.7" height="3.3" fill="#a6964d"/><rect x="736.7" y="657.2" width="19.7" height="1.8" fill="#ae8d4e"/><rect x="736.7" y="658.7" width="19.7" height="1.8" fill="#af8c4d"/><rect x="736.7" y="660.2" width="19.7" height="3.3" fill="#af8c4d"/><rect x="736.7" y="663.2" width="19.7" height="3.3" fill="#97a84c"/><rect x="736.7" y="666.2" width="19.7" height="3.3" fill="#9da04c"/><rect x="736.7" y="669.2" width="19.7" height="3.3" fill="#9ba34c"/><rect x="736.7" y="672.2" width="19.7" height="2.8" fill="#b5864d"/><rect x="736.7" y="674.7" width="19.7" height="1.8" fill="#af8c4d"/><rect x="736.7" y="676.2" width="19.7" height="2.3" fill="#94ac4b"/><rect x="736.7" y="678.2" width="19.7" height="1.8" fill="#b2894d"/><rect x="736.7" y="679.7" width="19.7" height="4.3" fill="#b7844c"/><rect x="736.7" y="683.7" width="19.7" height="2.8" fill="#ac8f4e"/><rect x="736.7" y="686.2" width="19.7" height="4.3" fill="#ae8d4e"/><rect x="736.7" y="690.2" width="19.7" height="2.8" fill="#b8834c"/><rect x="736.7" y="692.7" width="19.7" height="3.3" fill="#96a94c"/><rect x="736.7" y="695.7" width="19.7" height="4.3" fill="#af8c4d"/><rect x="736.7" y="699.7" width="19.7" height="2.3" fill="#b5864d"/><rect x="736.7" y="701.7" width="19.7" height="3.8" fill="#bd7e4c"/><rect x="736.7" y="705.2" width="19.7" height="1.8" fill="#ad8e4e"/><rect x="736.7" y="706.7" width="19.7" height="2.1" fill="#9ba34c"/></g><path d="M626.9 421.2 h-9.3 M626.9 421.96 h-5.96 M626.9 422.56 h-6.21 M626.9 423.43 h-4.09 M626.9 423.94 h-9.15 M626.9 424.49 h-3.99 M626.9 424.91 h-7.64 M626.9 425.51 h-10.85 M626.9 426.44 h-10.91 M626.9 427 h-4.13 M626.9 427.45 h-7.24 M626.9 428.28 h-6.85 M626.9 428.82 h-6.63 M626.9 429.59 h-8.56 M626.9 430.44 h-9.85 M626.9 431.24 h-4.41 M626.9 432.15 h-5.7 M626.9 432.89 h-6.3 M626.9 433.73 h-4.99 M626.9 434.28 h-5.34 M626.9 434.77 h-10.13 M626.9 435.52 h-5.95 M626.9 436.15 h-10.94 M626.9 436.86 h-5.24 M626.9 437.74 h-8.4 M626.9 438.74 h-4.27 M626.9 439.42 h-9.64 M626.9 440.33 h-10.36 M626.9 440.75 h-5.7 M626.9 441.22 h-4.92 M626.9 442.21 h-7.87 M626.9 443.16 h-6.29 M626.9 444.08 h-6.87 M626.9 444.64 h-9.33 M626.9 445.61 h-4.29 M626.9 446.37 h-8.15 M626.9 446.9 h-6.27 M626.9 447.38 h-5.03 M626.9 447.93 h-8 M626.9 448.72 h-5.03 M626.9 449.13 h-5.95 M626.9 449.94 h-4.89 M626.9 450.53 h-5.03 M626.9 451.4 h-7.61 M626.9 451.84 h-4.26 M626.9 452.48 h-7.63 M626.9 453.26 h-4.18 M626.9 453.76 h-8.72 M626.9 454.41 h-5.62 M626.9 454.99 h-10.65 M626.9 455.58 h-7.75 M626.9 456.19 h-6.62 M626.9 457.11 h-10.97 M626.9 457.73 h-4.98 M626.9 458.57 h-5.03 M626.9 458.97 h-10.26 M626.9 459.62 h-9.65 M626.9 460.27 h-10.12 M626.9 460.94 h-4.72 M626.9 461.35 h-7.64 M626.9 462.14 h-10.32 M626.9 462.59 h-8.17 M626.9 463.21 h-7.28 M626.9 463.7 h-5.62 M626.9 464.41 h-10.44 M626.9 464.88 h-7.18 M626.9 465.76 h-10.75 M626.9 466.28 h-4.45 M626.9 467.25 h-10.82 M626.9 467.93 h-3.9 M626.9 468.89 h-6.41 M626.9 469.83 h-8.15 M626.9 470.73 h-4.7 M626.9 471.6 h-5.17 M626.9 472.24 h-9.85 M626.9 473.14 h-4.87 M626.9 473.67 h-6.5 M626.9 474.38 h-6.38 M626.9 474.86 h-5.35 M626.9 475.69 h-10.23 M626.9 476.11 h-7.72 M626.9 476.97 h-3.79 M626.9 477.87 h-4.38 M626.9 478.63 h-7.63 M626.9 479.41 h-5.8 M626.9 480.06 h-7.87 M626.9 480.72 h-8.44 M626.9 481.38 h-6.79 M626.9 481.8 h-8.14 M626.9 482.49 h-5.26 M626.9 483.35 h-9.35 M626.9 484.02 h-4.85 M626.9 484.71 h-4.3 M626.9 485.19 h-6.73 M626.9 485.64 h-6.81 M626.9 486.35 h-3.81 M626.9 487.13 h-4.12 M626.9 487.97 h-9.33 M626.9 488.68 h-3.91 M626.9 489.38 h-6.33 M626.9 490.35 h-4.52 M626.9 491.26 h-10.97 M626.9 492.1 h-9.61 M626.9 492.62 h-10.86 M626.9 493.31 h-10.67 M626.9 494.26 h-4.74 M626.9 495.14 h-10.48 M626.9 495.57 h-6.13 M626.9 496.43 h-4.69 M626.9 497.37 h-5.56 M626.9 498.26 h-4.58 M626.9 498.96 h-10.4 M626.9 499.48 h-5.47 M626.9 500.19 h-5.89 M626.9 500.61 h-4.87 M626.9 501.1 h-10.52 M626.9 501.91 h-10.22 M626.9 502.41 h-9.39 M626.9 502.88 h-7.48 M626.9 503.66 h-6.2 M626.9 504.59 h-7.66 M626.9 505.34 h-10.12 M626.9 505.8 h-10.95 M626.9 506.58 h-6.46 M626.9 507.46 h-5.49 M626.9 508.45 h-7.83 M626.9 509.07 h-9.23 M626.9 509.73 h-4.83 M626.9 510.58 h-3.86 M626.9 511.47 h-5.4 M626.9 512.25 h-10.88 M626.9 513 h-8.48 M626.9 513.59 h-3.51 M626.9 514.01 h-4.62 M626.9 514.78 h-6.74 M626.9 515.49 h-10.22 M626.9 515.97 h-5.2 M626.9 516.76 h-3.67 M626.9 517.16 h-6.16 M626.9 517.63 h-6.18 M626.9 518.16 h-7.88 M626.9 518.91 h-5.03 M626.9 519.69 h-7.06 M626.9 520.17 h-10.52 M626.9 520.72 h-4.62 M626.9 521.17 h-8.29 M626.9 522.1 h-9.37 M626.9 522.74 h-5.48 M626.9 523.14 h-8.34 M626.9 523.88 h-6.13 M626.9 524.67 h-6.83 M626.9 525.63 h-9 M626.9 526.18 h-10.28 M626.9 526.61 h-7.49 M626.9 527.25 h-5.28 M626.9 527.69 h-9.34 M626.9 528.09 h-7.63 M626.9 529.06 h-4.57 M626.9 529.58 h-8.06 M626.9 530.28 h-8.31 M626.9 531.17 h-4.81 M626.9 531.75 h-5.75 M626.9 532.18 h-10.17 M626.9 533.05 h-8.87 M626.9 533.46 h-9.83 M626.9 534.3 h-6.99 M626.9 535.15 h-6.89 M626.9 535.68 h-4.29 M626.9 536.22 h-3.79 M626.9 536.83 h-9.12 M626.9 537.64 h-9.84 M626.9 538.47 h-5.49 M626.9 539.2 h-6.77 M626.9 540.08 h-7.42 M626.9 540.63 h-8.32 M626.9 541.61 h-5.13 M626.9 542.54 h-3.61 M626.9 543.1 h-5.27 M626.9 543.94 h-10.59 M626.9 544.79 h-5.95 M626.9 545.72 h-5.96 M626.9 546.26 h-10.31 M626.9 547.04 h-8.7 M626.9 547.84 h-10.84 M626.9 548.52 h-9.8 M626.9 549.34 h-9.93 M626.9 550 h-8.93 M626.9 550.75 h-5.81 M626.9 551.27 h-8.17 M626.9 551.72 h-10.33 M626.9 552.21 h-3.7 M626.9 552.67 h-10.47 M626.9 553.28 h-4.56 M626.9 553.69 h-3.81 M626.9 554.51 h-8.25 M626.9 555.33 h-9.03 M626.9 555.77 h-7.93 M626.9 556.39 h-9.63 M626.9 557.28 h-10.18 M626.9 557.72 h-10.01 M626.9 558.67 h-10.58 M626.9 559.13 h-5.04 M626.9 559.6 h-3.76 M626.9 560.51 h-9.59 M626.9 561.29 h-9.69 M626.9 562.07 h-5.66 M626.9 562.53 h-4.23 M626.9 563.38 h-5.04 M626.9 563.97 h-6.68 M626.9 564.38 h-5.43 M626.9 564.95 h-8.87 M626.9 565.57 h-5.91 M626.9 566.55 h-7.28 M626.9 567.46 h-8.14 M626.9 567.88 h-6.6 M626.9 568.54 h-9.3 M626.9 569.15 h-8.78 M626.9 569.87 h-5.12 M626.9 570.79 h-4.18 M626.9 571.68 h-4.78 M626.9 572.08 h-5.02 M626.9 572.94 h-10.83 M626.9 573.34 h-7.18 M626.9 574.04 h-9.48 M626.9 574.55 h-7.21 M626.9 575.16 h-9.74 M626.9 575.71 h-10.58 M626.9 576.28 h-5.11 M626.9 577.1 h-7.24 M626.9 577.57 h-8.27 M626.9 578.02 h-9.41 M626.9 578.84 h-9.4 M626.9 579.61 h-6.17 M626.9 580.25 h-6.46 M626.9 581.19 h-4.15 M626.9 582.12 h-3.69 M626.9 582.65 h-5.47 M626.9 583.59 h-7.26 M626.9 584.21 h-10.13 M626.9 584.75 h-6.96 M626.9 585.47 h-9.16 M626.9 586.32 h-8.35 M626.9 586.93 h-5.95 M626.9 587.43 h-9.82 M626.9 588.22 h-9.06 M626.9 588.73 h-6.79 M626.9 589.59 h-7.84 M626.9 590.07 h-6.97 M626.9 591 h-5.28 M626.9 591.51 h-5.76 M626.9 592.33 h-9.83 M626.9 592.83 h-4.67 M626.9 593.38 h-5.95 M626.9 594.09 h-4.71 M626.9 594.69 h-4.92 M626.9 595.67 h-8.97 M626.9 596.13 h-10.72 M626.9 596.59 h-6.38 M626.9 597.58 h-9.46 M626.9 598.42 h-6.76 M626.9 598.94 h-8.28 M626.9 599.4 h-5.05 M626.9 600.04 h-3.75 M626.9 600.68 h-9.43 M626.9 601.49 h-7.25 M626.9 602.27 h-6.97 M626.9 602.76 h-8.03 M626.9 603.4 h-9.06 M626.9 604.35 h-6.73 M626.9 605.09 h-9.12 M626.9 605.74 h-5.21 M626.9 606.58 h-10.1 M626.9 607.44 h-8.75 M626.9 608.35 h-8.6 M626.9 609.14 h-6.9 M626.9 609.72 h-8.21 M626.9 610.18 h-6.65 M626.9 611.05 h-8.85 M626.9 611.83 h-5.38 M626.9 612.48 h-6.91 M626.9 613.26 h-6.57 M626.9 614.06 h-10.48 M626.9 614.57 h-8.41 M626.9 615.44 h-6.42 M626.9 616.13 h-10.81 M626.9 616.56 h-7.58 M626.9 617.05 h-9.36 M626.9 618.02 h-7.39 M626.9 618.48 h-7.81 M626.9 619.2 h-8.88 M626.9 619.91 h-8.29 M626.9 620.81 h-7.41 M626.9 621.45 h-10.61 M626.9 621.98 h-8.63 M626.9 622.61 h-9.22 M626.9 623.09 h-10.88 M626.9 623.7 h-3.92 M626.9 624.27 h-6.5 M626.9 624.67 h-6.64 M626.9 625.33 h-8.74 M626.9 625.94 h-5.49 M626.9 626.47 h-9.06 M626.9 627.44 h-7.45 M626.9 627.97 h-9.51 M626.9 628.6 h-5.09 M626.9 629.08 h-9.32 M626.9 629.97 h-8.26 M626.9 630.65 h-7.72 M626.9 631.18 h-10.73 M626.9 631.79 h-8.29 M626.9 632.69 h-9.62 M626.9 633.37 h-5.71 M626.9 634.1 h-4.44 M626.9 635 h-6.16 M626.9 635.91 h-5.51 M626.9 636.53 h-5.4 M626.9 637.19 h-4.89 M626.9 637.59 h-8.91 M626.9 638.16 h-5.34 M626.9 638.74 h-7.1 M626.9 639.4 h-8.28 M626.9 640.19 h-6.22 M626.9 641.15 h-9.91 M626.9 641.58 h-9.71 M626.9 642.53 h-9.38 M626.9 643.01 h-9.73 M626.9 643.79 h-3.61 M626.9 644.2 h-10.64 M626.9 644.99 h-5.38 M626.9 645.45 h-4.57 M626.9 645.99 h-9.32 M626.9 646.6 h-4.65 M626.9 647.54 h-9.44 M626.9 648.04 h-10.18 M626.9 648.81 h-9.36 M626.9 649.61 h-10.2 M626.9 650.48 h-9.79 M626.9 651 h-8.7 M626.9 651.72 h-9.06 M626.9 652.38 h-10.12 M626.9 653.12 h-5.48 M626.9 653.66 h-4.55 M626.9 654.35 h-3.94 M626.9 655.03 h-4.58 M626.9 655.73 h-7.24 M626.9 656.45 h-9.97 M626.9 656.85 h-9.81 M626.9 657.54 h-7.72 M626.9 658.33 h-9.8 M626.9 658.96 h-6.64 M626.9 659.94 h-4.07 M626.9 660.72 h-8.27 M626.9 661.14 h-8.07 M626.9 661.95 h-10.49 M626.9 662.54 h-10.86 M626.9 663.25 h-7.14 M626.9 664.19 h-3.75 M626.9 665.02 h-8.19 M626.9 665.62 h-9.96 M626.9 666.24 h-7.06 M626.9 666.96 h-9.28 M626.9 667.48 h-6.76 M626.9 668.14 h-7.66 M626.9 669.03 h-5.7 M626.9 669.93 h-6.53 M626.9 670.63 h-5.54 M626.9 671.34 h-10.81 M626.9 672.13 h-9.44 M626.9 672.73 h-5.88 M626.9 673.31 h-7.9 M626.9 674.09 h-9.38 M626.9 674.51 h-8.92 M626.9 675.44 h-7.59 M626.9 675.87 h-5.75 M626.9 676.28 h-4.92 M626.9 677.23 h-8.07 M626.9 678.02 h-9.42 M626.9 678.97 h-8.09 M626.9 679.74 h-8.2 M626.9 680.56 h-7.97 M626.9 681.37 h-5.09 M626.9 682.17 h-6.93 M626.9 683.02 h-4.26 M626.9 683.53 h-3.78 M626.9 684.4 h-10.36 M626.9 685.19 h-6.27 M626.9 686.08 h-9.4 M626.9 686.82 h-5.44 M626.9 687.4 h-6.66 M626.9 687.99 h-6.73 M626.9 688.78 h-10.5 M626.9 689.21 h-7.76 M626.9 689.64 h-4.39 M626.9 690.52 h-7.81 M626.9 691.47 h-6.85 M626.9 691.88 h-6.4 M626.9 692.64 h-10.53 M626.9 693.63 h-7.07 M626.9 694.27 h-4.27 M626.9 695.06 h-5.09 M626.9 695.55 h-3.62 M626.9 695.95 h-8.63 M626.9 696.43 h-10.75 M626.9 696.88 h-10.02 M626.9 697.36 h-3.63 M626.9 698.19 h-5.32 M626.9 699.03 h-4.91 M626.9 699.46 h-9.31 M626.9 700.29 h-9.92 M626.9 701.12 h-4.13 M626.9 701.9 h-8.82 M626.9 702.58 h-10.49 M626.9 703.13 h-10.73 M626.9 703.96 h-3.59 M626.9 704.37 h-8.38 M626.9 705.26 h-4.1 M626.9 705.85 h-8.97 M626.9 706.35 h-9.96 M626.9 707.04 h-3.95 M626.9 707.66 h-7.81 M626.9 708.32 h-8.58" stroke="#000" stroke-width="0.8" fill="none"/><rect x="623.5" y="421.2" width="3.4" height="287.3" fill="#000"/><path d="M610 425 V459 M610 433.5 H613.49 M610 450.5 H612.41 M613.49 426.7 V442 M613.49 430.52 H616.61 M613.49 438.18 H616.57 M616.61 427.46 V434.35 M616.61 429.19 H619.15 M616.61 432.63 H619.07 M616.57 434.35 V441.24 M616.57 436.07 H620.03 M616.57 439.51 H620.43 M612.41 442 V457.3 M612.41 445.82 H615.87 M612.41 453.48 H615.33 M615.87 442.76 V449.65 M615.87 444.49 H618.1 M615.87 447.93 H617.52 M615.33 449.65 V456.54 M615.33 451.37 H619.26 M615.33 454.81 H618.58 M608 462 V520 M608 476.5 H611.57 M608 505.5 H610.33 M611.57 464.9 V491 M611.57 471.42 H614.58 M611.57 484.48 H615.51 M614.58 466.2 V477.95 M614.58 469.14 H618.16 M614.58 475.01 H617.59 M615.51 477.95 V489.69 M615.51 480.89 H617.78 M615.51 486.76 H618.08 M610.33 491 V517.1 M610.33 497.52 H614.05 M610.33 510.58 H612.77 M614.05 492.31 V504.05 M614.05 495.24 H617.26 M614.05 501.11 H617.05 M612.77 504.05 V515.8 M612.77 506.99 H616.51 M612.77 512.86 H616.29 M611 520 V600 M611 540 H613.21 M611 580 H612.5 M613.21 524 V560 M613.21 533 H615.37 M613.21 551 H615.76 M615.37 525.8 V542 M615.37 529.85 H618.33 M615.37 537.95 H618.91 M618.33 526.61 V533.9 M618.33 528.43 H622 M618.33 532.08 H619.94 M618.91 533.9 V541.19 M618.91 535.72 H622 M618.91 539.37 H622 M615.76 542 V558.2 M615.76 546.05 H619.43 M615.76 554.15 H618.69 M619.43 542.81 V550.1 M619.43 544.63 H621.62 M619.43 548.28 H622 M618.69 550.1 V557.39 M618.69 551.92 H622 M618.69 555.57 H621.91 M612.5 560 V596 M612.5 569 H616.29 M612.5 587 H614.87 M616.29 561.8 V578 M616.29 565.85 H618 M616.29 573.95 H619.17 M618 562.61 V569.9 M618 564.43 H621.49 M618 568.08 H620 M619.17 569.9 V577.19 M619.17 571.72 H622 M619.17 575.37 H622 M614.87 578 V594.2 M614.87 582.05 H616.96 M614.87 590.15 H617.89 M616.96 578.81 V586.1 M616.96 580.63 H620.15 M616.96 584.28 H619.62 M617.89 586.1 V593.39 M617.89 587.92 H619.91 M617.89 591.57 H620.03 M612 600 V706 M612 626.5 H615.38 M612 679.5 H615.48 M615.38 605.3 V653 M615.38 617.22 H618.03 M615.38 641.08 H617.1 M618.03 607.68 V629.15 M618.03 613.05 H621.54 M618.03 623.78 H621.46 M621.54 608.76 V618.42 M621.54 611.17 H622 M621.54 616 H622 M621.46 618.42 V628.08 M621.46 620.83 H622 M621.46 625.66 H622 M617.1 629.15 V650.62 M617.1 634.52 H619.9 M617.1 645.25 H619.79 M619.9 630.22 V639.88 M619.9 632.64 H622 M619.9 637.47 H621.87 M619.79 639.88 V649.54 M619.79 642.3 H621.77 M619.79 647.13 H621.74 M615.48 653 V700.7 M615.48 664.92 H618.73 M615.48 688.78 H617.89 M618.73 655.38 V676.85 M618.73 660.75 H621.64 M618.73 671.48 H621.24 M621.64 656.46 V666.12 M621.64 658.87 H622 M621.64 663.7 H622 M621.24 666.12 V675.78 M621.24 668.53 H622 M621.24 673.36 H622 M617.89 676.85 V698.32 M617.89 682.22 H620.32 M617.89 692.95 H619.65 M620.32 677.92 V687.58 M620.32 680.34 H622 M620.32 685.17 H622 M619.65 687.58 V697.24 M619.65 690 H621.54 M619.65 694.83 H622" stroke="#111" stroke-width="0.75" fill="none"/><defs><linearGradient id="lg" x1="0" y1="0" x2="0" y2="1"><stop offset="0" stop-color="#f42020"/><stop offset="0.25" stop-color="#c05050"/><stop offset="0.5" stop-color="#8c7c5c"/><stop offset="0.72" stop-color="#45a888"/><stop offset="1" stop-color="#28f838"/></linearGradient></defs><rect x="767.2" y="387" width="5.6" height="82.5" fill="url(#lg)"/><text transform="translate(775.4 392.7) scale(1.12 1)" font-family="Liberation Sans, sans-serif" font-size="10" font-weight="bold">2</text><text transform="translate(775.4 410.5) scale(1.12 1)" font-family="Liberation Sans, sans-serif" font-size="10" font-weight="bold">1</text><text transform="translate(775.4 428.9) scale(1.12 1)" font-family="Liberation Sans, sans-serif" font-size="10" font-weight="bold">0</text><text transform="translate(773.6 450.4) scale(1.12 1)" font-family="Liberation Sans, sans-serif" font-size="10" font-weight="bold">-1</text><text transform="translate(773.6 469.5) scale(1.12 1)" font-family="Liberation Sans, sans-serif" font-size="10" font-weight="bold">-2</text>
</svg></body></html>
